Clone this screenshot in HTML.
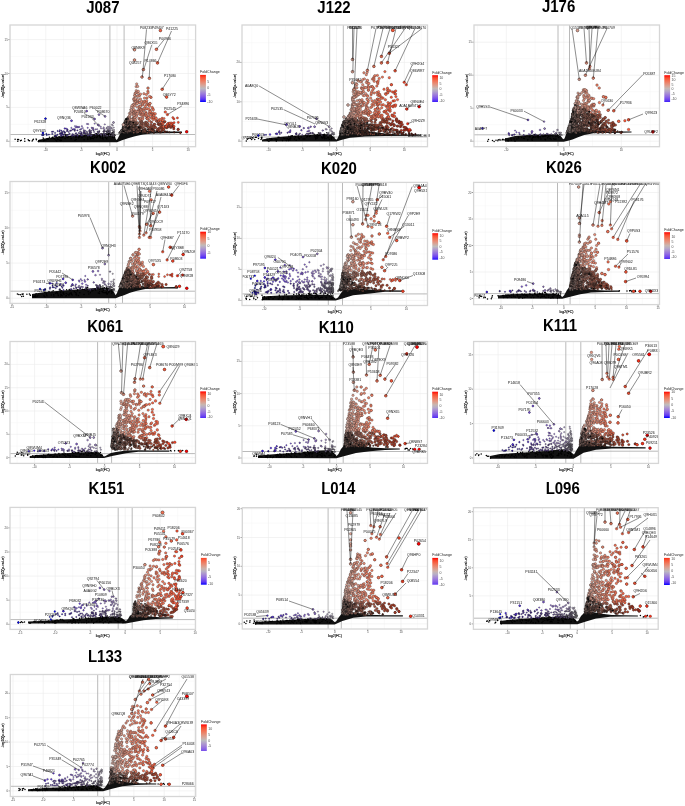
<!DOCTYPE html><html><head><meta charset="utf-8"><style>html,body{margin:0;padding:0;background:#fff;overflow:hidden}svg{display:block}text{font-family:"Liberation Sans",Arial,sans-serif}.tl{font-size:2.9px;fill:#4d4d4d}.at{font-size:3.6px;fill:#000;stroke:#000;stroke-width:.12px}.lb{font-size:3.5px;fill:#111}.lg{font-size:3.6px;fill:#1a1a1a}.ll{font-size:3.5px;fill:#4d4d4d}.ttl{font-size:15px;font-weight:bold;fill:#000}</style></head><body><svg width="685" height="806" viewBox="0 0 685 806"><rect width="685" height="806" fill="#fff"/><defs><style>path[class]{fill:none}.dt{stroke:#000;stroke-width:1.5px;stroke-linecap:round}marker circle{stroke:#1a1a1a;stroke-width:.3px}.k0{marker:url(#m0)}.k1{marker:url(#m1)}.k2{marker:url(#m2)}.k3{marker:url(#m3)}.k4{marker:url(#m4)}.k5{marker:url(#m5)}.k6{marker:url(#m6)}.k7{marker:url(#m7)}.k8{marker:url(#m8)}.k9{marker:url(#m9)}.k10{marker:url(#m10)}.k11{marker:url(#m11)}.k12{marker:url(#m12)}.k13{marker:url(#m13)}.k14{marker:url(#m14)}.k15{marker:url(#m15)}.k16{marker:url(#m16)}.k17{marker:url(#m17)}.k18{marker:url(#m18)}.k19{marker:url(#m19)}.k20{marker:url(#m20)}.k21{marker:url(#m21)}.k22{marker:url(#m22)}.k23{marker:url(#m23)}.k24{marker:url(#m24)}.k25{marker:url(#m25)}.k26{marker:url(#m26)}.k27{marker:url(#m27)}.k28{marker:url(#m28)}.k29{marker:url(#m29)}.k30{marker:url(#m30)}.k31{marker:url(#m31)}.k32{marker:url(#m32)}.k33{marker:url(#m33)}.k34{marker:url(#m34)}.k35{marker:url(#m35)}.k36{marker:url(#m36)}.k37{marker:url(#m37)}.k38{marker:url(#m38)}.k39{marker:url(#m39)}.k40{marker:url(#m40)}.k41{marker:url(#m41)}.k42{marker:url(#m42)}.k43{marker:url(#m43)}.k44{marker:url(#m44)}.k45{marker:url(#m45)}.k46{marker:url(#m46)}.k47{marker:url(#m47)}.k48{marker:url(#m48)}.k49{marker:url(#m49)}.k50{marker:url(#m50)}.k51{marker:url(#m51)}.k52{marker:url(#m52)}.k53{marker:url(#m53)}.k54{marker:url(#m54)}.k55{marker:url(#m55)}.k56{marker:url(#m56)}.k57{marker:url(#m57)}.k58{marker:url(#m58)}.k59{marker:url(#m59)}.k60{marker:url(#m60)}.k61{marker:url(#m61)}.k62{marker:url(#m62)}.k63{marker:url(#m63)}.k64{marker:url(#m64)}.k65{marker:url(#m65)}.k66{marker:url(#m66)}.k67{marker:url(#m67)}.k68{marker:url(#m68)}.k69{marker:url(#m69)}.k70{marker:url(#m70)}.k71{marker:url(#m71)}.k72{marker:url(#m72)}.k73{marker:url(#m73)}.k74{marker:url(#m74)}.k75{marker:url(#m75)}.k76{marker:url(#m76)}.k77{marker:url(#m77)}.k78{marker:url(#m78)}.k79{marker:url(#m79)}.k80{marker:url(#m80)}.k81{marker:url(#m81)}.k82{marker:url(#m82)}.k83{marker:url(#m83)}.k84{marker:url(#m84)}.k85{marker:url(#m85)}.k86{marker:url(#m86)}.k87{marker:url(#m87)}.k88{marker:url(#m88)}.k89{marker:url(#m89)}.k90{marker:url(#m90)}.k91{marker:url(#m91)}.k92{marker:url(#m92)}.k93{marker:url(#m93)}.k94{marker:url(#m94)}.k95{marker:url(#m95)}.k96{marker:url(#m96)}.k97{marker:url(#m97)}.k98{marker:url(#m98)}.k99{marker:url(#m99)}.k100{marker:url(#m100)}.k101{marker:url(#m101)}.k102{marker:url(#m102)}.k103{marker:url(#m103)}.k104{marker:url(#m104)}.k105{marker:url(#m105)}.k106{marker:url(#m106)}.k107{marker:url(#m107)}.k108{marker:url(#m108)}.k109{marker:url(#m109)}.k110{marker:url(#m110)}.k111{marker:url(#m111)}.k112{marker:url(#m112)}.k113{marker:url(#m113)}.k114{marker:url(#m114)}.k115{marker:url(#m115)}.k116{marker:url(#m116)}.k117{marker:url(#m117)}.k118{marker:url(#m118)}.k119{marker:url(#m119)}.k120{marker:url(#m120)}.k121{marker:url(#m121)}.k122{marker:url(#m122)}.k123{marker:url(#m123)}.k124{marker:url(#m124)}.k125{marker:url(#m125)}.k126{marker:url(#m126)}.k127{marker:url(#m127)}.k128{marker:url(#m128)}.k129{marker:url(#m129)}.k130{marker:url(#m130)}</style><marker id="m0" markerUnits="userSpaceOnUse" overflow="visible"><circle r="1.2" fill="#e88a73"/></marker><marker id="m1" markerUnits="userSpaceOnUse" overflow="visible"><circle r="1.2" fill="#a4442f"/></marker><marker id="m2" markerUnits="userSpaceOnUse" overflow="visible"><circle r="1.2" fill="#9e5442"/></marker><marker id="m3" markerUnits="userSpaceOnUse" overflow="visible"><circle r="1.2" fill="#f27356"/></marker><marker id="m4" markerUnits="userSpaceOnUse" overflow="visible"><circle r="1.2" fill="#e29581"/></marker><marker id="m5" markerUnits="userSpaceOnUse" overflow="visible"><circle r="1.2" fill="#ed7f64"/></marker><marker id="m6" markerUnits="userSpaceOnUse" overflow="visible"><circle r="1.2" fill="#f66647"/></marker><marker id="m7" markerUnits="userSpaceOnUse" overflow="visible"><circle r="1.2" fill="#a72e1b"/></marker><marker id="m8" markerUnits="userSpaceOnUse" overflow="visible"><circle r="1.2" fill="#dba090"/></marker><marker id="m9" markerUnits="userSpaceOnUse" overflow="visible"><circle r="1.2" fill="#a14c39"/></marker><marker id="m10" markerUnits="userSpaceOnUse" overflow="visible"><circle r="1.2" fill="#9a5c4c"/></marker><marker id="m11" markerUnits="userSpaceOnUse" overflow="visible"><circle r="1.2" fill="#966356"/></marker><marker id="m12" markerUnits="userSpaceOnUse" overflow="visible"><circle r="1.2" fill="#8c716a"/></marker><marker id="m13" markerUnits="userSpaceOnUse" overflow="visible"><circle r="1.2" fill="#926a60"/></marker><marker id="m14" markerUnits="userSpaceOnUse" overflow="visible"><circle r="1.2" fill="#a63a25"/></marker><marker id="m15" markerUnits="userSpaceOnUse" overflow="visible"><circle r="1.2" fill="#d3aa9f"/></marker><marker id="m16" markerUnits="userSpaceOnUse" overflow="visible"><circle r=".7" fill="#7b52eb"/></marker><marker id="m17" markerUnits="userSpaceOnUse" overflow="visible"><circle r=".7" fill="#a488d6"/></marker><marker id="m18" markerUnits="userSpaceOnUse" overflow="visible"><circle r=".7" fill="#482ca0"/></marker><marker id="m19" markerUnits="userSpaceOnUse" overflow="visible"><circle r=".7" fill="#614896"/></marker><marker id="m20" markerUnits="userSpaceOnUse" overflow="visible"><circle r=".7" fill="#9c7bdb"/></marker><marker id="m21" markerUnits="userSpaceOnUse" overflow="visible"><circle r=".7" fill="#5a4099"/></marker><marker id="m22" markerUnits="userSpaceOnUse" overflow="visible"><circle r=".7" fill="#2a15a6"/></marker><marker id="m23" markerUnits="userSpaceOnUse" overflow="visible"><circle r=".7" fill="#b3a3ca"/></marker><marker id="m24" markerUnits="userSpaceOnUse" overflow="visible"><circle r=".7" fill="#ac96d0"/></marker><marker id="m25" markerUnits="userSpaceOnUse" overflow="visible"><circle r=".7" fill="#6d5a8e"/></marker><marker id="m26" markerUnits="userSpaceOnUse" overflow="visible"><circle r=".7" fill="#5933f5"/></marker><marker id="m27" markerUnits="userSpaceOnUse" overflow="visible"><circle r=".7" fill="#0000aa"/></marker><marker id="m28" markerUnits="userSpaceOnUse" overflow="visible"><circle r=".7" fill="#776c86"/></marker><marker id="m29" markerUnits="userSpaceOnUse" overflow="visible"><circle r=".7" fill="#72648a"/></marker><marker id="m30" markerUnits="userSpaceOnUse" overflow="visible"><circle r=".7" fill="#52369c"/></marker><marker id="m31" markerUnits="userSpaceOnUse" overflow="visible"><circle r=".7" fill="#8760e6"/></marker><marker id="m32" markerUnits="userSpaceOnUse" overflow="visible"><circle r=".7" fill="#685292"/></marker><marker id="m33" markerUnits="userSpaceOnUse" overflow="visible"><circle r=".7" fill="#6c43f0"/></marker><marker id="m34" markerUnits="userSpaceOnUse" overflow="visible"><circle r=".7" fill="#3b22a3"/></marker><marker id="m35" markerUnits="userSpaceOnUse" overflow="visible"><circle r=".7" fill="#926de1"/></marker><marker id="m36" markerUnits="userSpaceOnUse" overflow="visible"><circle r=".8" fill="#463835"/></marker><marker id="m37" markerUnits="userSpaceOnUse" overflow="visible"><circle r=".8" fill="#4b312b"/></marker><marker id="m38" markerUnits="userSpaceOnUse" overflow="visible"><circle r=".8" fill="#4f2a21"/></marker><marker id="m39" markerUnits="userSpaceOnUse" overflow="visible"><circle r=".8" fill="#493530"/></marker><marker id="m40" markerUnits="userSpaceOnUse" overflow="visible"><circle r=".8" fill="#8c716a"/></marker><marker id="m41" markerUnits="userSpaceOnUse" overflow="visible"><circle r=".8" fill="#9a5c4c"/></marker><marker id="m42" markerUnits="userSpaceOnUse" overflow="visible"><circle r=".8" fill="#9e5442"/></marker><marker id="m43" markerUnits="userSpaceOnUse" overflow="visible"><circle r=".8" fill="#4d2e26"/></marker><marker id="m44" markerUnits="userSpaceOnUse" overflow="visible"><circle r=".8" fill="#433c3a"/></marker><marker id="m45" markerUnits="userSpaceOnUse" overflow="visible"><circle r=".8" fill="#966356"/></marker><marker id="m46" markerUnits="userSpaceOnUse" overflow="visible"><circle r=".8" fill="#50261c"/></marker><marker id="m47" markerUnits="userSpaceOnUse" overflow="visible"><circle r=".8" fill="#867874"/></marker><marker id="m48" markerUnits="userSpaceOnUse" overflow="visible"><circle r=".8" fill="#926a60"/></marker><marker id="m49" markerUnits="userSpaceOnUse" overflow="visible"><circle r=".8" fill="#53170d"/></marker><marker id="m50" markerUnits="userSpaceOnUse" overflow="visible"><circle r=".8" fill="#000000"/></marker><marker id="m51" markerUnits="userSpaceOnUse" overflow="visible"><circle r=".8" fill="#522217"/></marker><marker id="m52" markerUnits="userSpaceOnUse" overflow="visible"><circle r=".8" fill="#a63a25"/></marker><marker id="m53" markerUnits="userSpaceOnUse" overflow="visible"><circle r=".8" fill="#531d12"/></marker><marker id="m54" markerUnits="userSpaceOnUse" overflow="visible"><circle r=".8" fill="#a82010"/></marker><marker id="m55" markerUnits="userSpaceOnUse" overflow="visible"><circle r="1.1" fill="#fb4629"/></marker><marker id="m56" markerUnits="userSpaceOnUse" overflow="visible"><circle r="1.1" fill="#f66647"/></marker><marker id="m57" markerUnits="userSpaceOnUse" overflow="visible"><circle r="1.1" fill="#f95738"/></marker><marker id="m58" markerUnits="userSpaceOnUse" overflow="visible"><circle r="1.3" fill="#f66647"/></marker><marker id="m59" markerUnits="userSpaceOnUse" overflow="visible"><circle r="1.3" fill="#e29581"/></marker><marker id="m60" markerUnits="userSpaceOnUse" overflow="visible"><circle r="1.3" fill="#f27356"/></marker><marker id="m61" markerUnits="userSpaceOnUse" overflow="visible"><circle r="1.3" fill="#e88a73"/></marker><marker id="m62" markerUnits="userSpaceOnUse" overflow="visible"><circle r="1.3" fill="#ed7f64"/></marker><marker id="m63" markerUnits="userSpaceOnUse" overflow="visible"><circle r="1.3" fill="#f95738"/></marker><marker id="m64" markerUnits="userSpaceOnUse" overflow="visible"><circle r="1.3" fill="#ff0000"/></marker><marker id="m65" markerUnits="userSpaceOnUse" overflow="visible"><circle r=".9" fill="#b3a3ca"/></marker><marker id="m66" markerUnits="userSpaceOnUse" overflow="visible"><circle r="1.3" fill="#d3aa9f"/></marker><marker id="m67" markerUnits="userSpaceOnUse" overflow="visible"><circle r=".9" fill="#0000ff"/></marker><marker id="m68" markerUnits="userSpaceOnUse" overflow="visible"><circle r=".9" fill="#6c43f0"/></marker><marker id="m69" markerUnits="userSpaceOnUse" overflow="visible"><circle r=".9" fill="#8760e6"/></marker><marker id="m70" markerUnits="userSpaceOnUse" overflow="visible"><circle r=".9" fill="#9c7bdb"/></marker><marker id="m71" markerUnits="userSpaceOnUse" overflow="visible"><circle r=".9" fill="#a488d6"/></marker><marker id="m72" markerUnits="userSpaceOnUse" overflow="visible"><circle r=".9" fill="#926de1"/></marker><marker id="m73" markerUnits="userSpaceOnUse" overflow="visible"><circle r="1.2" fill="#f95738"/></marker><marker id="m74" markerUnits="userSpaceOnUse" overflow="visible"><circle r="1.2" fill="#867874"/></marker><marker id="m75" markerUnits="userSpaceOnUse" overflow="visible"><circle r="1.2" fill="#a82010"/></marker><marker id="m76" markerUnits="userSpaceOnUse" overflow="visible"><circle r=".7" fill="#7b7682"/></marker><marker id="m77" markerUnits="userSpaceOnUse" overflow="visible"><circle r=".8" fill="#a14c39"/></marker><marker id="m78" markerUnits="userSpaceOnUse" overflow="visible"><circle r=".8" fill="#a4442f"/></marker><marker id="m79" markerUnits="userSpaceOnUse" overflow="visible"><circle r=".8" fill="#550000"/></marker><marker id="m80" markerUnits="userSpaceOnUse" overflow="visible"><circle r=".8" fill="#541008"/></marker><marker id="m81" markerUnits="userSpaceOnUse" overflow="visible"><circle r=".8" fill="#a72e1b"/></marker><marker id="m82" markerUnits="userSpaceOnUse" overflow="visible"><circle r="1.5" fill="#f95738"/></marker><marker id="m83" markerUnits="userSpaceOnUse" overflow="visible"><circle r="1.3" fill="#fb4629"/></marker><marker id="m84" markerUnits="userSpaceOnUse" overflow="visible"><circle r="1.3" fill="#fd3018"/></marker><marker id="m85" markerUnits="userSpaceOnUse" overflow="visible"><circle r="1.3" fill="#dba090"/></marker><marker id="m86" markerUnits="userSpaceOnUse" overflow="visible"><circle r=".9" fill="#7b52eb"/></marker><marker id="m87" markerUnits="userSpaceOnUse" overflow="visible"><circle r=".9" fill="#5933f5"/></marker><marker id="m88" markerUnits="userSpaceOnUse" overflow="visible"><circle r=".7" fill="#b9b1c4"/></marker><marker id="m89" markerUnits="userSpaceOnUse" overflow="visible"><circle r=".9" fill="#4020fa"/></marker><marker id="m90" markerUnits="userSpaceOnUse" overflow="visible"><circle r=".7" fill="#4020fa"/></marker><marker id="m91" markerUnits="userSpaceOnUse" overflow="visible"><circle r="1" fill="#fb4629"/></marker><marker id="m92" markerUnits="userSpaceOnUse" overflow="visible"><circle r="1" fill="#f66647"/></marker><marker id="m93" markerUnits="userSpaceOnUse" overflow="visible"><circle r="1" fill="#f95738"/></marker><marker id="m94" markerUnits="userSpaceOnUse" overflow="visible"><circle r="1" fill="#f27356"/></marker><marker id="m95" markerUnits="userSpaceOnUse" overflow="visible"><circle r=".9" fill="#ac96d0"/></marker><marker id="m96" markerUnits="userSpaceOnUse" overflow="visible"><circle r=".9" fill="#b9b1c4"/></marker><marker id="m97" markerUnits="userSpaceOnUse" overflow="visible"><circle r="1.2" fill="#463835"/></marker><marker id="m98" markerUnits="userSpaceOnUse" overflow="visible"><circle r="1.2" fill="#4b312b"/></marker><marker id="m99" markerUnits="userSpaceOnUse" overflow="visible"><circle r=".8" fill="#6c43f0"/></marker><marker id="m100" markerUnits="userSpaceOnUse" overflow="visible"><circle r=".8" fill="#72648a"/></marker><marker id="m101" markerUnits="userSpaceOnUse" overflow="visible"><circle r=".8" fill="#52369c"/></marker><marker id="m102" markerUnits="userSpaceOnUse" overflow="visible"><circle r=".8" fill="#b9b1c4"/></marker><marker id="m103" markerUnits="userSpaceOnUse" overflow="visible"><circle r=".8" fill="#5a4099"/></marker><marker id="m104" markerUnits="userSpaceOnUse" overflow="visible"><circle r=".8" fill="#614896"/></marker><marker id="m105" markerUnits="userSpaceOnUse" overflow="visible"><circle r=".8" fill="#b3a3ca"/></marker><marker id="m106" markerUnits="userSpaceOnUse" overflow="visible"><circle r=".8" fill="#776c86"/></marker><marker id="m107" markerUnits="userSpaceOnUse" overflow="visible"><circle r=".8" fill="#0000aa"/></marker><marker id="m108" markerUnits="userSpaceOnUse" overflow="visible"><circle r=".8" fill="#ac96d0"/></marker><marker id="m109" markerUnits="userSpaceOnUse" overflow="visible"><circle r=".8" fill="#7b7682"/></marker><marker id="m110" markerUnits="userSpaceOnUse" overflow="visible"><circle r=".8" fill="#482ca0"/></marker><marker id="m111" markerUnits="userSpaceOnUse" overflow="visible"><circle r=".8" fill="#2a15a6"/></marker><marker id="m112" markerUnits="userSpaceOnUse" overflow="visible"><circle r=".8" fill="#9c7bdb"/></marker><marker id="m113" markerUnits="userSpaceOnUse" overflow="visible"><circle r=".8" fill="#a488d6"/></marker><marker id="m114" markerUnits="userSpaceOnUse" overflow="visible"><circle r=".8" fill="#6d5a8e"/></marker><marker id="m115" markerUnits="userSpaceOnUse" overflow="visible"><circle r=".8" fill="#926de1"/></marker><marker id="m116" markerUnits="userSpaceOnUse" overflow="visible"><circle r=".8" fill="#7b52eb"/></marker><marker id="m117" markerUnits="userSpaceOnUse" overflow="visible"><circle r=".8" fill="#8760e6"/></marker><marker id="m118" markerUnits="userSpaceOnUse" overflow="visible"><circle r=".8" fill="#3b22a3"/></marker><marker id="m119" markerUnits="userSpaceOnUse" overflow="visible"><circle r=".8" fill="#5933f5"/></marker><marker id="m120" markerUnits="userSpaceOnUse" overflow="visible"><circle r=".8" fill="#685292"/></marker><marker id="m121" markerUnits="userSpaceOnUse" overflow="visible"><circle r=".8" fill="#4020fa"/></marker><marker id="m122" markerUnits="userSpaceOnUse" overflow="visible"><circle r="1" fill="#e88a73"/></marker><marker id="m123" markerUnits="userSpaceOnUse" overflow="visible"><circle r="1" fill="#e29581"/></marker><marker id="m124" markerUnits="userSpaceOnUse" overflow="visible"><circle r="1" fill="#ed7f64"/></marker><marker id="m125" markerUnits="userSpaceOnUse" overflow="visible"><circle r="1.5" fill="#ff0000"/></marker><marker id="m126" markerUnits="userSpaceOnUse" overflow="visible"><circle r="1.4" fill="#f95738"/></marker><marker id="m127" markerUnits="userSpaceOnUse" overflow="visible"><circle r="1.4" fill="#fd3018"/></marker><marker id="m128" markerUnits="userSpaceOnUse" overflow="visible"><circle r="1.2" fill="#fb4629"/></marker><marker id="m129" markerUnits="userSpaceOnUse" overflow="visible"><circle r="1.5" fill="#f27356"/></marker><marker id="m130" markerUnits="userSpaceOnUse" overflow="visible"><circle r=".7" fill="#7e7e7e"/></marker></defs><defs><clipPath id="c0"><rect x="10" y="25" width="185.6" height="121.7"/></clipPath></defs><text class="ttl" transform="translate(102.85 12.5) scale(1 1.06)" text-anchor="middle">J087</text><path d="M28 25V146.7M63.6 25V146.7M99.2 25V146.7M134.8 25V146.7M170.4 25V146.7M10 124.4H195.6M10 90.5H195.6M10 56.6H195.6" stroke="#f5f5f5" stroke-width=".55" fill="none"/><path d="M10.2 25V146.7M45.8 25V146.7M81.4 25V146.7M117 25V146.7M152.6 25V146.7M188.2 25V146.7M10 141.3H195.6M10 107.4H195.6M10 73.5H195.6M10 39.6H195.6" stroke="#ebebeb" stroke-width=".6" fill="none"/><path d="M109.9 25V146.7M124.1 25V146.7M10 134.5H195.6" stroke="#a8a8a8" stroke-width=".8" fill="none"/><g clip-path="url(#c0)"><path d="M38 142.2 117 142.2 122 140.3 128 138.2 135 136.3 143 134.6 152 133.6 165 133.2 182 133 182 131.4 165 131.5 152 131.3 145 130.5 138 129.5 132 128 127 126 124 127 121 132 119 136 117.5 139 116.5 140 115 137.5 113 134 110 133 104 133.3 95 134 80 135 60 136.5 45 138.5 38 140Z" fill="#111"/><path class="dt" d="M15.1 139.2h0m2.5.3h0m.2 1.7h0m.8-1.6h0m1.9 1.2h0m.8-.6h0m3.4-1.4h0m.1 2.5h0m3.4-1.5h0m.6.6h0m.7.3h0m2.6.4h0m.6-1.2h0m.7-.6h0m2.7-.3h0m.3.8h0m1.9 1.8h0m1.2-1.2h0m1.4 0h0m2.2-2.4h0m.2 2.8h0m.2-2.6h0m.3 2.5h0m.5-.1h0m1.6-.4h0m1-1.4h0m1 .5h0m.1-.7h0m.3.3h0m1.1-1.6h0m2.3 1h0m.7-.6h0m.2-.5h0m.5.8h0m.9.8h0m.3-2.5h0m.3 2.7h0m.9-2.8h0m.2 3.9h0m.3-3.3h0m.7 4.1h0m.1-4h0m.5 1.1h0m.2 1.5h0m1.1.1h0m.4-3.2h0m.6.9h0m.2 3h0m.8.5h0m.1-.7h0m.3-2.3h0m.1-1.7h0m.3 4.3h0m.7-3.5h0m.5.7h0m.6-1h0m.7-1.9h0m1.2 3.9h0m.3-2.9h0m.2-1h0m1.4 2.5h0m.1-2.5h0m.4 2.9h0m.9-.5h0m2.1-.7h0m.6 2.4h0m3.9 1.5h0m.1-4.4h0m.8.3h0m0 1.2h0m.3 2h0m1-4.2h0m.6 1.2h0m.8 1.3h0m.9-.9h0m1-1.2h0m.7-2.2h0m.6 2.6h0m.1 1.4h0m1.4-1.5h0m.8 3.9h0m.5-3.9h0m2.4-2.9h0m.4 2.5h0m.2.2h0m.2 3.8h0m0-1.6h0m2.1-1h0m.3 1.8h0m.4.2h0m.1-.8h0m.2-5.2h0m1 5.4h0m.1-1.8h0m.6-.6h0m.3 2.3h0m.5.5h0m1.2-1.3h0m.7-1.9h0m.9-1.8h0m.3 3.8h0m.4-3.7h0m.5 3h0m.9-1.7h0m1.1-3.3h0m.2 3.7h0m0 1.1h0m.8 1.2h0m.1-1.2h0m1-2.1h0m.6.8h0m.1 2.9h0m.5-2.5h0m.1 1.3h0m.3 2.1h0m0-4.1h0m.9.9h0m.7-2.4h0m.6 4h0m.9-6.1h0m.3 7h0m0-4h0m.3 4.6h0m.4-1.9h0m.2-2.8h0m0-1.8h0m.5-1.3h0m.1.1h0m.6 2.9h0m.1-2.9h0m.1 2h0m.7.9h0m.4 1.7h0m.6-1.2h0m.4.9h0m.2-.5h0m.1.1h0m.7-2.3h0m.8-.4h0m.1 4.7h0m.8-5h0m.8 4.7h0m.2-2.7h0m0 3.2h0m.1-1.6h0m.3-.3h0"/><path class="k1" d="M157.4 130.7l1.3.2 2.9 0"/><path class="k2" d="M144.7 130.4l.1 0 4.7-.2"/><path class="k9" d="M152.7 130.8l4.4-.4"/><path class="k10" d="M138.5 130.4l1 .3 4.4-.1"/><path class="k12" d="M122.5 130.9l1.5-.6"/><path class="k13" d="M128.1 130.3l.7.7.1 0 1.4-.2"/><path class="k18" d="M66.4 135.6l.6-4.4.3 4.7.1-5.6 1.2 4.3.1-2.7.9 1.8.6-2.9.9-.3 1 5.3.2-.3.1-1.4 1.1.5"/><path class="k19" d="M89.1 131.1l.5-.3 0 2.9 0-3.7.1 3.3 0 1.4.3-2.6.1 3.1 0-3.1.2.3.5 3.3.2-3.1.2-1.8.2 4.8.4-.3 1.7-5 .6 1.6"/><path class="k21" d="M82 134l.8 1.5.8-2.5.2-2.8.1 2.8.1-1.2.2.1.6 1.3.3-2.5.1 2.4 0 .7.7.2.9-2.4.8 3.9.1-2.2.5 2.2"/><path class="k22" d="M52 131.8l.3 2.1.8-2.3 1.9 4.3.1-3 .5 2.7.3.1 1.5-.9.2-3.8"/><path class="k25" d="M101.2 135.5l.1-1.5.1.8 2-3.3.1 3 .3 1.4 0-2.4.1-1.6.1-.7.3-.5.1 3 1.2.6.4-3.2"/><path class="k27" d="M42 134.9l.9.4.8-.5 2.7-.9.4 1.1 2.1-.4"/><path class="k28" d="M111.3 135.5l.8-.6 0-1.3.1 0 .1-3.4.4 4.5.5-.7 0 1.3 0-3.1.2 3.7.1-1.4.2-2.1.2 3.2.1-4 0 3.3 0-4.9"/><path class="k29" d="M106.2 135.8l1-2.9.1-.1.1 3 .2-5.7.1 1.5.5-1.4.7 1.7.7.4 0 2.9.1-3.9.2-.5.6 2.5"/><path class="k30" d="M74.7 135.8l.1-5 .8 2.8.6-.3 1 1.4.2-4.3.1 4.7.1.7 1.2-2.8 1.2.4.2-1.8.6 2.4 0 .8.6.8.2-3.2"/><path class="k32" d="M95.4 133.8l.1.7.2.1 1.9-3 .3.9.4 1.7.4.2 0-2.3.6-1.1 1.5 3.4"/><path class="k34" d="M59.4 131.5l.4-1.3.1 3.5.6-.4.4 2.6.1-1.7.4-3.4.1 2.4.3 2.6.2-3.2.4-.6 0 1.6.1.6 1.2.5.1-3.4.8 1.1.2-.2.1.9"/><path class="k36" d="M122.9 131l.3-.7.5 2.1.1-.3.2-.1.8.9 1.2-2.2.1 0"/><path class="k37" d="M133.7 130.9l.4 1.5 1.9-.5"/><path class="k38" d="M144.6 131.6l1.7-.8 2.3 1.1.7.5"/><path class="k39" d="M127.5 132.9l.3-2 3.7.5.4.3"/><path class="k40" d="M123.2 131.9l.1.5 2.2-1.3 1.6.6"/><path class="k41" d="M140.2 131.1l2.6.1"/><path class="k42" d="M145 131.9l2.3 1"/><path class="k43" d="M138.6 130.6l1.1-.4 2.8 2.4 1.2.1"/><path class="k44" d="M119.2 132.9l1.1-1.1.3.1.2 0 0 .1.3-.8.3-.9.6.4"/><path class="k45" d="M133.7 132.8l2.7-1.8.6 1.7.2-.7.7.2.2 0"/><path class="k46" d="M151.4 132l2.5.9.6-2.2 2.5 1.6"/><path class="k47" d="M120.4 131.9l.1.9.1-.6.1-.5.8-1.6.2.1"/><path class="k48" d="M128.3 130.8h0"/><path class="k49" d="M174.2 132.3h0"/><path class="k50" d="M122.9 130.8l.8.6 33.4-.2"/><path class="k51" d="M159.9 131.9l.2.7 1.1-.3"/><path class="k52" d="M164.9 131.9h0"/><path class="k53" d="M164.9 131.5l.8.1 1.4-.1 2.3.8"/><path class="k54" d="M180.4 132.9h0"/><path class="k64" d="M186.7 131.8h0"/><path class="k67" d="M42.9 133h0"/><path class="k0" d="M140.9 120.4h0"/><path class="k1" d="M157.5 121.2l.4 7.9 0-7.9.3 2.9.4.2.3-3.2.1 3.5.2 3.9.2.3 0-5.2.7 4 .1-3.5 1 2.2.5-3 .2 4.5.1-6.6.2 8.4 0-5.4.2 2.3.6 1.9.5 1.4.1-.5"/><path class="k2" d="M145.2 125.7l.3-2 .1-1.6.5 1.3.5-1 .4 3.6.4-2.1.3-.2 0 2.8.4.3.6.7 1.5-.9"/><path class="k4" d="M132.6 120.5l1.7-.2"/><path class="k5" d="M149.3 120.8h0"/><path class="k6" d="M158.7 120.7l3.9-.2"/><path class="k7" d="M172 126.1l.1-.6.2-.4 1.3 1.8.2 1.9 4.3.6.1 0"/><path class="k8" d="M127.9 120.8l2.1-.1 1.9.2"/><path class="k9" d="M150.8 124.6l.1 4.2.4-1.1.2-5.4.1 6.9 0 .6.8-3.7.1 2.9 1-.3.2-2.6.4-1.8.8.2 0 2.8 1 .3.7-6.4"/><path class="k10" d="M138.7 126.9l1.2.1.1.7 0 .7.2-1.6.1-2.4.4 1.5 0-3.8 0-.3.5 5.5.6-5.9.1 1.4.2 1 0 1.9.2-2.4.4 3.9.7-3.6.2.4"/><path class="k11" d="M132.7 122.7l0 2.1.1-2.9.5 2.4.2 3.7.2-2.5.1 4.4 0-8.9.8 4.2.8-2.2.5-.9.1 5.5.1-3.9 1 4.4.1-.8.2-3.6.3-1 .2 5.7.2.2"/><path class="k12" d="M123.3 129.1l.6-.7.7-1 .6 1.5.2-1.6.2.4.1-1.2.1-2.8 0 5.4.4-5.6 0-.7.6.6.4 5.6"/><path class="k13" d="M127.4 123.2l.1 2.3.6-2 .2 2.6.4 2.2 0-6.3.7 5.5.5-3.9.6-1.3.1.1 0 6.1.6-7.1.2 2 .4 3.8.6-2.8"/><path class="k14" d="M164.3 122.1l.6-.5.1 4.8.3.2.8.9.8.3 1.4-1 .1-3.3.2 2.4.8-1.7 1.3 3.2.4-.6"/><path class="k15" d="M127.2 120.8h0"/><path class="k16" d="M74.8 129.2l.2-3.1.9 1.4.8-1.1.9.9.8-.2.9-.1 2 1.9"/><path class="k17" d="M101.1 128.4l2.2.2.4-1.2.8 2 .3-5"/><path class="k18" d="M67.5 129.5l5.2 0"/><path class="k20" d="M95.6 129.4l1.5-.2 1.6-3.9.4.4 1.6 1"/><path class="k23" d="M111.2 127.7l.6.7.1-3.8.8.9 1 2.1"/><path class="k24" d="M106.6 128.3l.2-.2 1.1-1.4.9 1.2.3 1.3.7-2.5.6 2.2"/><path class="k26" d="M64.9 128.5h0"/><path class="k30" d="M74.6 129.9l5.5-.3"/><path class="k31" d="M81.9 126.2l.9 1.9 4.2-4.2.7 3.9.5-3.7"/><path class="k33" d="M66.6 128.8l4.8-.9 2.2 1.4"/><path class="k35" d="M91.8 127.7l.3.3 1 1.4.1-1.4.2 1.1 1.3-5.5"/><path class="k36" d="M122.5 129.3l.1.3.3-2.2.1-.2 0 1.1.2-2.2.1 1.9 0 1.3 0-1 .2-2.9 0 4.3.2-2.2.6-4.2.1 3.4 0 2.9 0-4.6.1-2.1.1 1.8.3-2.4 0 2 0 4.4.1-6.6.1.9 0-1.3.1 2.8.1-.4 0 5 .1-4.1 0-2.3.1-2.3.1 6.3.1 1.9.1.9.1-5.5.1 2 0-2.5.1 4.2 0-7.5.1 6.9.1 1.2.1-7.5.4 2.6 0 1.6 0 1.1.1 3.9 0-4.4 0-4.9 0 2.5.1-2.2 0 8 .1-3.2.1-5.3"/><path class="k37" d="M132.6 127.5l1.4-2.6.3 2.7.6-3.5.5 2.4.2 2.9.2-3.5.9-1.2 1.2 4.3"/><path class="k38" d="M145.5 128.9l2 .6.9-.2"/><path class="k39" d="M127.3 126.8l.4.2.1 2.6.1-5.7.1 2 0 2.2.2-1.1 0-1.2 0-2.2 0 5.1.2.1.1-5.3 0-2.3.4 2.4 0 4.9.1-7.6 0 .1.1 7.8.1.4 0-8 .4 1.6.2 3.8.1 0 .1-.3 0 1.4.1 1.4 0-7.6 0 3.2 0 4.3.3-3.1 0 1.8.1 1.2.6-8.1.6 3.4.3 2.3.2-1.6.1 1.9 0 3.1"/><path class="k40" d="M123.6 125.7l.1-.8.4 4.5 0-2.5.3-2.5.1 4.4.6-5.9 0-1.5 0 1.2.4-1.7.1 2.9.2 5.3 0-8.7 0 5.1.9-4.7.5 1"/><path class="k41" d="M139.7 127.4l2.2.8.5 1 1.9-1.1"/><path class="k42" d="M145.2 128.8l5.2.1"/><path class="k43" d="M138.9 126.6l.5 2.3.1-1.3.6-.7.3.8 2.8 2"/><path class="k45" d="M132.7 123.6l.4 5.3.4-3 .4-2.1.4-.7.5.2 3.2 4.2.1 1.9.1 0"/><path class="k46" d="M151.8 128.9l1.2.5"/><path class="k48" d="M127.3 123.7l.1-1.5.3 4.2.5-4.7.3 4.1 2.2-.2 1.2-.8 0-1.6"/><path class="k50" d="M124.4 123.2l2-1.1 1.7 6 1.2-1.1 4-4.4 5.4 4.9"/><path class="k55" d="M172.5 123.4l1.6 2.9 0-3.6 4.2-.3"/><path class="k56" d="M161.8 122.6l1.3 1.3.3 2.9"/><path class="k57" d="M166.1 126.6l.7-1.8.9-.9 1.8-.8 1.6-.2.1 1.8"/><path class="k65" d="M113.5 122.5h0"/><path class="k66" d="M123.3 124.8h0"/><path class="k68" d="M71.5 120.7h0"/><path class="k70" d="M98.1 124.8h0"/><path class="k0" d="M138.4 110.8l.5 7.5.9.7.1-4.8 0 5.6.4-6.9.4 6.2.3-6.4.1 5.7.1-5.8.1 2.6.1-3.9.7 3.9.4 4.1.3-6.4.2 5.1.3-2.3.1-1.2.3-4.3"/><path class="k3" d="M150.8 112.5l.6 5.5 0-3.1.5.6.3-1.1.9 3.6.1 1.6.1-6.7.3 2 .1.1.1 2.6.1-1.9 1.4-1.9.1 5.6.2-1.8.7.9"/><path class="k4" d="M132.6 113l.2 1.3.1 4.4.1-4.7.3 3.7.1.2.3-6.5.1 7.1 0-.2.3-6.2 0 3.6.1 3.3.1-6.7 0 5.8.5-7.1.2 8.4 0-1.6.1-.4.2-5.6.5-.6 0 2 .1 6.7 0-6.7.1 1.3.3-3.3.1 3 .1 2.2.5-1.4.3-1.3.7-2"/><path class="k5" d="M144.7 114.7l.6.2.3.4.1-3.2.4 1.4 0 .4.7 4.1.2-1.7 0-.3.1 2.6.2.1.1-.1 1.2-1.5 0 .5.4-4.9.3 1.6.9-4 0 1.3.5 3.5"/><path class="k6" d="M159.4 119.6l.9.2"/><path class="k8" d="M127.6 119.1l.1.7.1-1 .2 0 0 .1.1-1.1.2 1.2.1-.1.1-1.7.3.8.2 1.1.1.5.2-2.8.1-3.4.2 3 .1 2.1.2-3.2.4 4.3.4-7.3.1 1 .1-1 .2 7.4.2-5.6.2 5.6.1-8.4"/><path class="k36" d="M126.3 119.1l.1.1.8-.1"/><path class="k39" d="M127.3 119.4l.2-1 .6.6"/><path class="k40" d="M126 119.6l.5-.1"/><path class="k50" d="M126.1 119.5l.2-.4"/><path class="k55" d="M172.8 117.6l1.1 1.3 3.5-1"/><path class="k56" d="M162.1 118.2l2 .3"/><path class="k63" d="M165.3 112l2.1 2.6"/><path class="k67" d="M45.5 118.6h0"/><path class="k69" d="M86.7 111.1h0"/><path class="k70" d="M99 114.6h0"/><path class="k71" d="M105.1 116.4h0"/><path class="k72" d="M94.6 119h0"/><path class="k0" d="M138.6 102.2l.4 7.6.2-3.4.1-3.8 0 7 .5-7.1.1 6.1.1-.3 0-.3.2-1.9.2.2.1 3.6.7-.2.4-8.4.6 3 .2.5.2-.2.2 5.1.2-6.5.3 5.7.4-7.5.3 8.5.3-7.2 0 5.7"/><path class="k3" d="M152.2 107.5l.7 1.4.4.9"/><path class="k4" d="M132.6 109.6l.5-5.1.1 2.3.5 2.7.4-8.6 0 3.7.8 1.2 0-3 .6-2.3.4 1 .5-1.2.1 3.6.7 3.2.1-6.8.1 3.1.2-2.9"/><path class="k5" d="M145.1 101.4l.1 5 .7 2.5.5-4.1 0-2.6.3-1.6.4 8 1-4.5.4.8.3 4.4.3-4 .2 1 .7-2.9.1.1"/><path class="k8" d="M130.8 109.7l.5.2.1-2.7.6-1.6"/><path class="k0" d="M138.8 96l.6-.3 1 3.3.2-4.9 3.3-.4"/><path class="k3" d="M150.9 97.3h0"/><path class="k4" d="M133.7 99.3l.4-1.1.2 1.1.4-3.7.1-.3.2-1.8.4 5.2.2-5.9.7-2.2.5 1.4.3 4.2.2-3.5.5 6.9.1-3.5.4-2.8 0-2"/><path class="k5" d="M144.5 98.1l1.9-3.6.6 3.4.9-6.6.2 1.5 1.5 3.6"/><path class="k63" d="M166.6 97.1h0"/><path class="k4" d="M136.2 86.6l.5-2.7 1 2.5"/><path class="k5" d="M148 88.1h0"/><path class="k58" d="M162.2 89.2h0"/><path class="k61" d="M142 77h0"/><path class="k62" d="M149.4 78.3h0"/><path class="k58" d="M157.5 62.9h0"/><path class="k61" d="M143.4 69.6h0"/><path class="k59" d="M134.5 60h0"/><path class="k59" d="M134.5 49.8h0"/><path class="k60" d="M156.4 49.3h0"/><path class="k58" d="M160.4 30.5h0"/></g><path d="M146.5 29.3L142.4 77.1M171.5 31L157.5 62.8M163.8 40L156.7 49M151.8 44.8L143.9 69M150 62L149.2 78.2M170 77.2L162.2 89.2M182 105.8L167.4 114.6M95 109.5L105.1 116.4M84 113.5L94.6 119M92 118.5L98.1 124.8" stroke="#000" stroke-width=".45" fill="none"/><g class="lb"><text x="146" y="28.5" text-anchor="middle">P08233</text><text x="157.7" y="28.5" text-anchor="middle">P49407</text><text x="172" y="30.3" text-anchor="middle">P41225</text><text x="164.9" y="39.5" text-anchor="middle">P00966</text><text x="151" y="44.3" text-anchor="middle">Q86X55</text><text x="138.1" y="48.7" text-anchor="middle">Q8N8K9</text><text x="135.2" y="63.8" text-anchor="middle">Q08257</text><text x="150.5" y="61.5" text-anchor="middle">P14866</text><text x="170" y="76.8" text-anchor="middle">P17080</text><text x="169.2" y="95.7" text-anchor="middle">Q86Y72</text><text x="183.2" y="105.3" text-anchor="middle">P34896</text><text x="170" y="109.7" text-anchor="middle">P02545</text><text x="79.7" y="108.8" text-anchor="middle">Q8WWA6</text><text x="95.5" y="108.8" text-anchor="middle">P60022</text><text x="79.7" y="113.2" text-anchor="middle">P20810</text><text x="103.4" y="113.2" text-anchor="middle">P08670</text><text x="87.6" y="118.1" text-anchor="middle">P01033</text><text x="63.9" y="119.3" text-anchor="middle">Q9NQ36</text><text x="40.3" y="122.5" text-anchor="middle">P62328</text><text x="39.4" y="131.9" text-anchor="middle">Q9Y6X5</text></g><rect x="10" y="25" width="185.6" height="121.7" fill="none" stroke="#d6d6d6" stroke-width="1.3"/><path d="M45.8 147.3v1.1M81.4 147.3v1.1M117 147.3v1.1M152.6 147.3v1.1M188.2 147.3v1.1M9.4 141.3h-1.1M9.4 107.4h-1.1M9.4 73.5h-1.1M9.4 39.6h-1.1" stroke="#333" stroke-width=".5"/><g class="tl"><text x="45.8" y="151" text-anchor="middle">-10</text><text x="81.4" y="151" text-anchor="middle">-5</text><text x="117" y="151" text-anchor="middle">0</text><text x="152.6" y="151" text-anchor="middle">5</text><text x="188.2" y="151" text-anchor="middle">10</text><text x="7.8" y="142.3" text-anchor="end">0</text><text x="7.8" y="108.4" text-anchor="end">5</text><text x="7.8" y="74.5" text-anchor="end">10</text><text x="7.8" y="40.6" text-anchor="end">15</text></g><text class="at" x="102.8" y="154.6" text-anchor="middle">log2(FC)</text><text class="at" transform="translate(3.8 85.8) rotate(-90)" text-anchor="middle">-log10(p-value)</text><defs><linearGradient id="g0" x1="0" y1="0" x2="0" y2="1"><stop offset="0.0" stop-color="#fe1d0b"/><stop offset="0.1" stop-color="#f95435"/><stop offset="0.2" stop-color="#f17558"/><stop offset="0.3" stop-color="#e5907b"/><stop offset="0.4" stop-color="#d4a99e"/><stop offset="0.5" stop-color="#bcbac0"/><stop offset="0.6" stop-color="#ae9ace"/><stop offset="0.7" stop-color="#9b7adc"/><stop offset="0.8" stop-color="#8259e8"/><stop offset="0.9" stop-color="#5d36f4"/><stop offset="1.0" stop-color="#0000ff"/></linearGradient></defs><rect x="200.1" y="74.9" width="5.8" height="27.1" fill="url(#g0)"/><text class="lg" x="200.1" y="73.3">FoldChange</text><g class="ll"><text x="207.3" y="82.6">5</text><text x="207.3" y="89.3">0</text><text x="207.3" y="96">-5</text><text x="207.3" y="102.7">-10</text></g><defs><clipPath id="c1"><rect x="242" y="25" width="185.5" height="121.7"/></clipPath></defs><text class="ttl" transform="translate(334.0 12.6) scale(1 1.06)" text-anchor="middle">J122</text><path d="M251.8 25V146.7M285.6 25V146.7M319.6 25V146.7M353.4 25V146.7M387.4 25V146.7M421.2 25V146.7M242 121.5H427.5M242 82.1H427.5M242 42.7H427.5" stroke="#f5f5f5" stroke-width=".55" fill="none"/><path d="M268.7 25V146.7M302.6 25V146.7M336.5 25V146.7M370.4 25V146.7M404.3 25V146.7M242 141.2H427.5M242 101.8H427.5M242 62.4H427.5" stroke="#ebebeb" stroke-width=".6" fill="none"/><path d="M329.7 25V146.7M343.3 25V146.7M242 137H427.5" stroke="#a8a8a8" stroke-width=".8" fill="none"/><g clip-path="url(#c1)"><path d="M262 141.6 336.4 141.6 342 139.8 350 137.8 365 136.5 385 136 421 135.8 421 134.6 400 134.4 385 133.5 370 131.5 358 129 348 127 343 129 340 133 337.5 138.5 336.3 139.8 334.5 138 331 134.5 322 134 310 134.8 298 135.5 285 136.6 272 137.8 262 139.5Z" fill="#111"/><path class="dt" d="M246.3 140.9h0m1-1.6h0m.9-.8h0m2 0h0m1.5 1h0m.9-1.8h0m2.2 1.9h0m.5-2.4h0m1.1.1h0m2.1 1.2h0m2.5 1.1h0m.4-2.2h0m.3 1h0m.3-1.2h0m5.1 1.9h0m.2 1.5h0m1.6.6h0m.3-2.5h0m1.5 1.3h0m.6-1.2h0m.7.6h0m3.1-.2h0m1.1.8h0m.1 1h0m.6-1.6h0m1.2-2.2h0m.9 0h0m3.5 3.3h0m1-2.5h0m1.4.6h0m1.3 1.8h0m.8-1.7h0m.7.1h0m.7 1.6h0m.3-.6h0m.1-3.5h0m.1.1h0m1 3.6h0m0-1.6h0m.7-.7h0m.1.7h0m.1-2h0m.3-.7h0m1.4.1h0m2 3.2h0m.5-2.7h0m.5.7h0m.7 3.3h0m2-4.5h0m.1 1.5h0m.5 1h0m.6.6h0m.1-.1h0m1.6-1.7h0m2 2h0m1.7 0h0m.7-4h0m1.3 1.9h0m.6-.8h0m.6-2.4h0m1.5 2.8h0m.4-3h0m.5 2.2h0m2.3-2.5h0m1.5 1h0m.7 2.4h0m.5-1.1h0m.2 2.3h0m.1 1h0m.8-2.1h0m.5-1.1h0m.1 2.6h0m.2-3.6h0m.6 2.3h0m.5-4h0m.2 2.6h0m1.3-2.2h0m.1 1.8h0m1.5 1.8h0m.7.9h0m.5 0h0m.4-.4h0m.3-1.7h0m.4-1.4h0m.2 2.6h0m0-2.1h0m.4 3.8h0m0-1.7h0m.1.3h0m.1-3h0m.1 1h0m.2 1.8h0m1.1 1.3h0m.8-5.6h0m.4 2.3h0m.5 2.7h0m.3-3.7h0m.7 3.6h0m.6 1.5h0m2-.1h0m0-1.4h0m0-2.6h0m.7 1.8h0m1.9.4h0"/><path class="k2" d="M371.4 130.2h0"/><path class="k7" d="M401.3 130.4l2.6-.1 1.5-.2"/><path class="k9" d="M380.5 130.8h0"/><path class="k10" d="M366.6 130.7h0"/><path class="k11" d="M354.6 130.1l3.1.6"/><path class="k12" d="M342.9 130.6l1.3.2.4-.1.4-.1"/><path class="k13" d="M350.1 131l2.2-.9"/><path class="k14" d="M396.6 130.5l.6-.2"/><path class="k16" d="M289 132.1l1.4-1.8"/><path class="k17" d="M322.8 130.5h0"/><path class="k18" d="M279 132.2l.8 1.7 1.5-1.2 6.2 0"/><path class="k19" d="M306.6 133.8l1.6.5.8-.7 1.4-.6.6.1"/><path class="k21" d="M296.5 133.2l0 1.3 2.4.2 1-1.1 2.4 1.3"/><path class="k22" d="M264.3 134.9l1.7-.1"/><path class="k23" d="M331.7 131.4h0"/><path class="k25" d="M319.7 133.2l.9 0 1.2 1.7"/><path class="k28" d="M331.3 134.5l.9-.6.3-.7"/><path class="k29" d="M328.1 135l.3-2.1"/><path class="k30" d="M296 133.8h0"/><path class="k31" d="M301.4 130.2h0"/><path class="k32" d="M312.6 132.9l.3.5"/><path class="k33" d="M279.3 132.2l.1-1.1"/><path class="k34" d="M275.8 133.8l1-.4"/><path class="k35" d="M307.4 131.4l1.2 0 .7-.8"/><path class="k36" d="M343.2 132.1l.3-1.8.2 3.8 0-.6 0 1.1.7-1.3.2 1.3.1-.9 0-3.4.2.2.1 3.7.2-1 0-.8.3 1 0-3.1.9 4.5.4-2.6 0-1.3.6 1.4.6-2"/><path class="k37" d="M354.2 133.8l.1-.8.2-1.8 1.6 3 .7-2.3.2-1 .3 1.8.1.8.7-2.3 0 .4 1 .8"/><path class="k38" d="M368.1 133l.1.1.2.5 2.2 0 1.2-2.9 2.1 1.6.7.6"/><path class="k39" d="M348.6 134.9l.1-3.9.7 2.9.5-2.5.3 1.2.5-2.3 0 3.2.1.6.8-3.5.6 3.6.3-1.6 1.5-1"/><path class="k40" d="M342.8 134.7l.3-2.3 1.2-.8.3.1.5 1.2.2-1.8.6 1.5 1 2.2.2-3.5.1.9"/><path class="k41" d="M361.3 134.3l.3-2.7.2 3.2.6.1 3.9-4.3.9.5"/><path class="k42" d="M367.8 131.2l.2 2.8 2.2-.3.5.5.1-.9 1.8 1.2 1.5-.1"/><path class="k43" d="M361.1 133.9l.1-3.2.3 1 .7 2.9.2-3.6 0 1.5.1-1.4.1 2.7.6-.7.4-.4.1 1.2.4-2.4.2 3.3.9-1.1.3-2.8.4 3.8.1-4 .3 0 .1.1.1 1.6.7.7.1-1.9.2 1.3 0-1.4"/><path class="k44" d="M340.3 131.7l0 .8.1-.6.3-1.7 0 3.1 0-3 .2 3.9.3-3.2.1 3.7.5-4.6.4.3"/><path class="k45" d="M354.6 131l.2 0 1.3 1.9 1.5-2.3.2 4.2.7-1.4.3-.2 1.5 1.1"/><path class="k46" d="M377.6 133.9l1-1.8.1-.8.8.1.3-1.4.2 4.9.3-4.7"/><path class="k47" d="M340.1 133.4l.6-.2.1.7.5.9.1-2.8.7 2.7"/><path class="k48" d="M348.4 134.7l1.3-.4.7-1.5 2.2.4"/><path class="k49" d="M399.3 132.7l.1-1.2.7 1.5.4-1 1.2 1.9.2.5.7-1.1 1-.9.1 2 2 .3.1-.7"/><path class="k50" d="M340.4 133.9l4.8-1.2.2-.6.6-1.5 4 4.2 35.5-3.7"/><path class="k51" d="M383 134.3l1.7-2.2 1.4 2.7 1.1-.9.3-.7.6 1 1-1.5.7-.9.1-1.5"/><path class="k52" d="M390.6 132.3l1-1.3 2.6-.6 2.9 3 .4 1"/><path class="k53" d="M390.3 134.6l1.1.4 1.6-2.1.1-2 1.6-.8 0 3.7.1-.6 1.9-1.3.1.4.1-1.2 1.3 2.8 0-1.9"/><path class="k54" d="M409.4 133l3.4 1.6"/><path class="k67" d="M258.4 135.5h0"/><path class="k74" d="M341.2 130.7l.4-.1.6.3"/><path class="k75" d="M408.6 130.9l1.7-.7"/><path class="k76" d="M333.5 134.6l.3-1.9.5 1.4"/><path class="k77" d="M379.4 131.9l2.5 2.6"/><path class="k78" d="M383.3 131.6l.2-1.6 2.5 2.8 1.1-1 2.4-1.2"/><path class="k79" d="M415.4 134.2h0"/><path class="k80" d="M408.7 133l.4 1 .3 1 .3-1 1.9-.5.4 1.5.9-.3"/><path class="k81" d="M401.2 132.4l.7.3"/><path class="k86" d="M289.9 131.8h0"/><path class="k87" d="M270 134.5l7-.5"/><path class="k1" d="M382.9 128.5l.7 1.4.5-9.6.1 1.9 1 7.3.5-8.2.1 5.7.2 2.8.3-8.2.5 1.3.1 2.9.1 2.8 0-7.1 1.2 5.9 1-4.1"/><path class="k2" d="M367.8 121l1.4 6.6 1.3-6.9.5 7.8.2-3.8.1 3 .1-.1.4-5.9.6 7.7.1-4.7 1.4 2.6.3 2.6.3-1.3 0-3.5.3 2"/><path class="k7" d="M399.1 121.3l.2 1.9.6-1.1.4 1 .2 3.6.3-.9.6-3.5.9 2.2 1.5 2.6 1.1.4 1.1.2"/><path class="k9" d="M375 122.3l0 2.6 0 .9.9 3.6.1-2.7.3-1.8 1 2.8.7-1.3.4-1.5.7 5 .6-.4.4-6.8.2 2 .6-.4.8-2.1.2 4.3.3.2 0-5.3"/><path class="k10" d="M361.1 124.2l.3 4.6.2-2.1.2-5.1.1 1.6 2.2-3.2.7 8.5 0-7.4 0 1.2.1 5.3.8-1.8.1-4.3.1 4.2.6.1.6-.2"/><path class="k11" d="M354.3 121.2l.8 7.2.2-2.3.3-5.5.2 1.6.3-.2 0 4.4.1-6.2.5 8.3.1.4 0-8.7.5 2.5 0-1.2.3 7.3.6-.4.3-5.6.1 5.3.1 0 .5.1.3-3.9.2 2.1.4-5.7.4 1 .1 5.1 0-5.7"/><path class="k12" d="M343.2 126.9l.1 2.3 0 .4.7-.9.3-3.7 0-.2.5-1 0 3.8.1-1.3.3 2.8.2-.5 0 .1.3-7 0 2.1.2-.2 0 4.8.2-6.8.5 4.8.2-4.2.1 5.3.3-2.6 0-2.5.2 7.4.1-6.6.1 4.2.3-3.8.2-2.4"/><path class="k13" d="M348.3 128.1l.2-8 .3 3.4.1.9 0-1 .1-1.6 0 4.5.1.3.3.2.2-5.3 0 0 .2 2 .1.1.1 3.3 0-4.4.1-.4.1 5.6.1-5.4.5-2 .1 1 1.1 4.9 0-6.2.4.3.1 2.5.3 4.9.4-5.4.7.2"/><path class="k14" d="M390.9 124.8l0 0 1.1-1.2.3-.2 0 5 .5-7.5 1.2 4.7.1-1 .1 5.3 0-4.5 1.9-5.1.9 1.5.1 4.3.8 0"/><path class="k23" d="M330.3 129.9l1.3-1.4"/><path class="k24" d="M325.7 129.1l.9.3"/><path class="k31" d="M303.8 128.1h0"/><path class="k35" d="M310.7 126.7h0"/><path class="k36" d="M342.8 124.6l.1-.9.2 5.3.1-7 .1 3 0-3 .1 5 .3-3.9.1 4 .1-2.9.1-.4.2 0 .1-3.3.2 6.3.1 1.7.2-3.1.2 3.3.1-6 .1 5.1.2-6.2.4 1.8.5 3.3.1-1.3.2-.1 0 4.3.1-4.9.1-.1 0-3.1 0 7.4.1-5 .1.8 0 3.6 0-1.9.3 1.6 0-3.2 0 4.3.1-.9.3-3.7.1 1.2"/><path class="k37" d="M354.3 121.6l.3 3.7.2 2.1.1-4.1.1 3.6.2-4.3.7 4.9.4 2.4 0-4.3.2-.8.1-4.7.2 6.2.1-5.9.2 7.3.5-7.1.3 4.7.3 4.1 0-.7.3-3.1.2 2.9.5-.3.1-2.3.1 3 .3-2.2.3.3.1-3.6.3 3.4.1-4.3"/><path class="k38" d="M368 124.3l.3 2.4.3.5.5-2 .1-.1.3 3.9.5-4.6.5 3.1.9-1.2.1 3.5.1-1.4.6-3.1 1 3 .1 1.2.4 0 .5-3.1"/><path class="k39" d="M348.2 124.5l.2-1.6.3 5 .1-3.7.4 5 0-7.2 0 3.4.2-1.8 0 5.4.5-6.4.6 2.7.2 1.6.1-3.7 0 5.6.2-3 .4-1.5.1 3.3.2-2.9.5 4.8 0-.8.4-.6.5 1.6.2-4 .1 1.5.1-6.5 0 8.5.1-.6 0-1.5.5 2.7 0-4.4"/><path class="k40" d="M342.8 128.5l.2-.9.5-3.2.6 4.9 0 .3.5-2.8 0-1 .5 1.7.1-6.2.7 0 .2 3.1.2-.9 0 0 .1 2.3 0-1.4.2-2.8.6-.7.5 3.6"/><path class="k41" d="M361 121.2l.7 4 4.3-1.1"/><path class="k42" d="M367.7 129l2.9.4.3-2.4.5-.2 1.8.9.5-2.3 0-.3.4 2.3.4.3"/><path class="k43" d="M360.9 125l1.3 2.8.1 1.8.2-.2 0-4.4.4 1.1.8-2.4.3 2.8 0-3.2.2.7.1.9.1 4.7.3-1 1.6.6.3-4.7.8 2.5.2 2.2"/><path class="k44" d="M341.1 128.5l.2-.3.3-.7.5-1.2.1 1.6.2 1.7 0-4.9"/><path class="k45" d="M354.7 124.6l.3-3.9.1 2.3.4 3.2 1.4 1.2.5 1.5 1.9-.9 0 .6.5-6.5"/><path class="k46" d="M375.1 127.6l2.2-.1 1.5-.7 1.1.9 1 .6"/><path class="k47" d="M340.9 129.9l.4-2.1.5.7.1-2.5.3 1.1.1-2.1.3-.7 0 4"/><path class="k48" d="M349 123.6l.9-3 .3 5.1 0 .1.5-.8.2.5.2-4.9.9 3.1.6 1.2.4.6.1-2"/><path class="k50" d="M342.3 125.2l.9 1.9 4.1-.2.5 2 .7-8.1.3 6.4 1.2-6.8.5 8.9.1-4.6 3.8-.8 6 4.5.8-3.2 6-2.3.8 5.9 10.1.1 4.2-1.1"/><path class="k51" d="M383.4 127.7l0 .6 2.1.9.2-.2.4.6.2-.4 1.4.4.9.2"/><path class="k52" d="M396 129.7h0"/><path class="k53" d="M390.5 129.3l.4-.2"/><path class="k65" d="M329.2 126.7h0"/><path class="k68" d="M286.5 124.5h0"/><path class="k69" d="M299.7 126.4h0"/><path class="k70" d="M314.6 126.7h0"/><path class="k72" d="M308.4 127.9h0"/><path class="k74" d="M341.6 129.8l.3-.4.4-.8"/><path class="k75" d="M407.1 129.2h0"/><path class="k77" d="M375.3 128.6l2.5.4"/><path class="k78" d="M385.6 128.3l0-1.2"/><path class="k84" d="M407.7 123.7l1.8 5.8"/><path class="k0" d="M361.3 114.9l.1 2.3.5-5.4 1.2 5.7.2-4.6.2-.9.3-.3.4 1.7.6 4.8 0 0 .4-7.2.3 7.5.2-5 0-3.1.5 2.1 1 .8"/><path class="k1" d="M382.5 119.6l.8-.9 3-.1 1.1.1.3.8 2.4-.3"/><path class="k2" d="M371.3 118.9h0"/><path class="k3" d="M375.1 114.7l.3 1.8.1-.2 0-2 .1-3.5.2 5.6.8-2.8.2 2.4 1-4.4.1 3.4.4 2 .2-3.5 0-.9.1 3.7.7-4.2 1.6 5.3 0-2.3.8 2.5.1-1.3.3-1.1"/><path class="k4" d="M354.7 111.6l.5 3.8.2.9 0-.6.4 1.9.1-2.9.1 1.6 0-4.9.1-1 .4.9.1.5.1-1.5.6 1.5.1-1.8 0 3.7.1 2 .1-5.6.4 1.5.5 1.2.2-2.7.2 3.8.1 2.5.1-2.6 0-3.2.1 7.7.1-2.9.2 2.5.2.1.1-1.4.1-1.9.1-.5.8-1"/><path class="k5" d="M367.8 114.1l.4-.8 0-.1.1 1.7.1-.4.2.8 0-3 .1-1.9.2 2.8.1-.6.9-1 .7.8.3 6.1.2-2.2 1.1.6.6 1.4.1-2.5.4 1.9.4.4.1-2.6 0 .8.4-3.7.6 4.6"/><path class="k6" d="M384.1 111.8l0-.1 1.2-.4.6-.6.5 2.6 1.1 3.9.3-3.1.3-4 .3 6.4.2.4 1.5-5.6"/><path class="k8" d="M348.2 117.9l.2-1.6.5 2 .2-2.8.1 1.5.1-1.1.3.2.2-.8.4-2.2.1.1.2 1.4.4-.5 0 3.6.2-4.8.2 1.2.2 3.6 0-7.7.6 6.5 0-.7.3-1.6.1-3.9 0 1.1.2-1.3.2 1.8.1 3.6.6 1.7.3 0 0-6.9.1 2.2.1 3.5"/><path class="k9" d="M375.7 119.8h0"/><path class="k10" d="M361.2 118.6l.1.1 2.8.2 2.6 0"/><path class="k11" d="M354.3 118.9l.4 0 1.4.9 4-.1"/><path class="k12" d="M347.4 118.7l.4.3"/><path class="k13" d="M348.9 119.2l2.7.5 1.1-.5"/><path class="k14" d="M396.4 118.6l.5 1.2"/><path class="k15" d="M347.6 118l.2-.2"/><path class="k36" d="M346.1 118.8h0"/><path class="k39" d="M352.3 119l.2.9"/><path class="k40" d="M346.2 118.7l0 .5"/><path class="k48" d="M349.8 118.9h0"/><path class="k66" d="M344 117h0"/><path class="k70" d="M316.5 118.7h0"/><path class="k73" d="M392 115l.2.7.7-.2.7 1 .9-3.4.1 3.1"/><path class="k0" d="M361.1 106.3l.9-5.9.3 1.9.2 3.5.2-.7.6-1.9.3-.6.7-.1 1.4 2.6.4 1.2 0 2.9.5-.7.5-4.8 0 3.3 0 .4.6 1.3"/><path class="k3" d="M375.1 109.3l1.2-6.4 1-1.2.2 6.4 0-3.1 0-.7.1 3.8.1-.3.5-2.9.1-.7.6-.6.5 5.8 1.2-7.4 1 2.9.1 2.9"/><path class="k4" d="M354.5 101.6l.2 8.2.1-5.8.8 4.2.1-3.8.5 4.6.2-.9.5-2.8.3-4.7.1 8.9.5-4 .2-1.5.1 4.8.3-3 .2 2.1.6-2.6.1.5.1-5.7.4.3.2 2.5.1 4.6.2-5.2 0 6.8"/><path class="k5" d="M368 102.3l.4-1.8 2.2 7.1 1.2-.7.2-6.2 0 4 1.2-1.4.9 1.9.5-4.5.3 1.2"/><path class="k6" d="M383.3 104.7l2.5 1.2 1.3 1.7.9-5 0 3 .7-1.1.1.5.4 4.8.3-5.5.1 3.5.5-1.6.1 3.6"/><path class="k8" d="M351 109.8l.5-.4.5-4.4.2 2.4.1.5.1-2 0 .7.3-2.5.1 5.8.1-9.4 0 6.4.2-5.5 0 1.7.4 5.4.3-4.4 0 .3.3 4.6"/><path class="k64" d="M419.1 106.7h0"/><path class="k66" d="M348 105h0"/><path class="k73" d="M390.6 103l1.9 3.2.5-5.2.1 5.8 1.2-1.6.2-4.4.7 5.4.5-1.3"/><path class="k84" d="M406.8 109h0"/><path class="k0" d="M361.2 93.5l.7-.8.1 7 .7-7.6.6 3.4.3-3.9 1 3.9 1.1-1.9 1.4 5.3.1.5 0-4"/><path class="k3" d="M376.8 92.5l.3 6.8.5-4.2.2 3.8.7-7.2.2 8.1.2-5.8.1 1.7.5 4 .3-5.3.3 1.8 1.2.8.2 1.4"/><path class="k4" d="M354.7 94.3l.1.2.1.6.1 2.1.5-3.4.4-1.2.2 4.1.1-5.7 1.1 4.6.1-2.9.7 0 .1 1.9.2-2.8.1 1.4.4 1.3 1.4-2.2"/><path class="k5" d="M367.8 96.3l.6-6 2.2 7.8.5-3.3.2-1.5.5-1.6 2.4 1.3"/><path class="k6" d="M383.1 98.1l2.3 1.7.1-6.1.4.7 1.5-4 .2 2.4.3 0 .6-2.5 1.6.6"/><path class="k8" d="M352.6 99.9l0-1.6.1-1.1.2 1.3.1.8.1-7.5.6 2.5 0 2.8.5.3"/><path class="k73" d="M391.3 97.2l1.3-5.2 1.6 0 .6 1.7.7.2.2-3 .2 5.7 1.6 3"/><path class="k0" d="M361.4 87.8l.1-6.1.2 6.9.9-.2.1-3.7.2 5.1 1.5-2.1 0-.5 1.4.5.5-5.3 1-1.6.2-.5"/><path class="k3" d="M376.8 86.1l.4-4.1.6 1.7 0-1.5.4-1.3"/><path class="k4" d="M354.9 87.6l.7-2.6.7-1.5.6 1.1.1 3.1.8-7.4 1 .8 1.9.8"/><path class="k5" d="M367.8 83.5l.2 3 .4 3.5 0-3.2.1 1.3.4-4.6 2 3.2 1.3-.2.3.5.3 2.9 1.1-1.7.3-6.9"/><path class="k6" d="M384 89.2l3.5-1"/><path class="k8" d="M353.7 89.8h0"/><path class="k59" d="M354.3 89.2h0"/><path class="k73" d="M391.4 84.7h0"/><path class="k83" d="M404.2 82.2l2.1 2.6"/><path class="k85" d="M352.5 82.7h0"/><path class="k0" d="M362.7 79.6l1.2-6.8.5 6.1 1.9-4.2.8-2.2"/><path class="k3" d="M377.4 75.4l1.8 3 3.2-1.3"/><path class="k5" d="M372.6 79.2l.6-.9.9.7.1-2.3.7-1.1"/><path class="k6" d="M384.9 71.6l4.4 6.1"/><path class="k61" d="M367.4 70.3h0"/><path class="k63" d="M395.1 70.8h0"/><path class="k85" d="M352.5 71.7h0"/><path class="k58" d="M387.6 62.6h0"/><path class="k60" d="M381.4 62.9h0"/><path class="k62" d="M373.9 66.4h0"/><path class="k58" d="M389.3 53.3h0"/><path class="k60" d="M381.4 56.4h0"/><path class="k85" d="M352.5 59.4h0"/><path class="k82" d="M392.8 30.2h0"/></g><path d="M258.8 85.8L328.6 126.2M283.6 109.6L315 124M257.3 119L285.8 124.8M391 49.5L389.3 53.3M412 65.5L404.2 82.2M412 72.5L406.3 84.8M413 103.8L406.8 109M412 122L407.7 123.7M352.5 28.5L352.5 59.4M354 28.5L352.8 71.7M357 28.5L354.3 89.2M376 28.5L367.4 70.3M383 28.5L373.9 66.4M390 28.5L381.4 56.4M396 28.5L387.6 62.6M405 28.5L381.4 62.9M415 28.5L395.1 70.8M422 28.5L389.3 53.3" stroke="#000" stroke-width=".45" fill="none"/><g class="lb"><text x="353.2" y="28.5" text-anchor="middle">P04114</text><text x="354.8" y="28.5" text-anchor="middle">P35579</text><text x="356.3" y="28.5" text-anchor="middle">P08670</text><text x="376.9" y="28.5" text-anchor="middle">P67936</text><text x="383.1" y="28.5" text-anchor="middle">P18206</text><text x="389.2" y="28.5" text-anchor="middle">P18206</text><text x="395.4" y="28.5" text-anchor="middle">P67936</text><text x="401.6" y="28.5" text-anchor="middle">P0DMV8</text><text x="407.8" y="28.5" text-anchor="middle">Q9Y490</text><text x="413.9" y="28.5" text-anchor="middle">Q15149</text><text x="420.1" y="28.5" text-anchor="middle">P08670</text><text x="384" y="28.3" text-anchor="middle">P62805</text><text x="395.2" y="28.5" text-anchor="middle">P06733</text><text x="405.8" y="28.2" text-anchor="middle">P09493</text><text x="251.5" y="86.7" text-anchor="middle">A0A8Q0</text><text x="277" y="110.4" text-anchor="middle">P02535</text><text x="251.5" y="119.9" text-anchor="middle">P25633</text><text x="312.8" y="118.9" text-anchor="middle">P07195</text><text x="321.6" y="124" text-anchor="middle">Q8N0V3</text><text x="290.2" y="124.7" text-anchor="middle">Q9Y4L1</text><text x="293.1" y="128.4" text-anchor="middle">Q8NBJ5</text><text x="258" y="135.9" text-anchor="middle">P06703</text><text x="247.8" y="139.3" text-anchor="middle">Q7Z3B4</text><text x="393.7" y="48.4" text-anchor="middle">P55327</text><text x="417.3" y="64.6" text-anchor="middle">Q9H2G4</text><text x="417.3" y="72" text-anchor="middle">Q86WR7</text><text x="355.2" y="80.8" text-anchor="middle">P35671</text><text x="417.3" y="103.2" text-anchor="middle">Q8N4E4</text><text x="410.3" y="107.4" text-anchor="middle">A0A1B0GTU1</text><text x="418.2" y="121.6" text-anchor="middle">Q9H2Z9</text><text x="419.1" y="136.8" text-anchor="middle">A0A0C4DH68</text></g><rect x="242" y="25" width="185.5" height="121.7" fill="none" stroke="#d6d6d6" stroke-width="1.3"/><path d="M268.7 147.3v1.1M302.6 147.3v1.1M336.5 147.3v1.1M370.4 147.3v1.1M404.3 147.3v1.1M241.4 141.2h-1.1M241.4 101.8h-1.1M241.4 62.4h-1.1" stroke="#333" stroke-width=".5"/><g class="tl"><text x="268.7" y="151" text-anchor="middle">-10</text><text x="302.6" y="151" text-anchor="middle">-5</text><text x="336.5" y="151" text-anchor="middle">0</text><text x="370.4" y="151" text-anchor="middle">5</text><text x="404.3" y="151" text-anchor="middle">10</text><text x="239.8" y="142.2" text-anchor="end">0</text><text x="239.8" y="102.8" text-anchor="end">10</text><text x="239.8" y="63.4" text-anchor="end">20</text></g><text class="at" x="334.8" y="154.6" text-anchor="middle">log2(FC)</text><text class="at" transform="translate(235.8 85.8) rotate(-90)" text-anchor="middle">-log10(p-value)</text><defs><linearGradient id="g1" x1="0" y1="0" x2="0" y2="1"><stop offset="0.0" stop-color="#ff0100"/><stop offset="0.1" stop-color="#fa4c2e"/><stop offset="0.2" stop-color="#f36e50"/><stop offset="0.3" stop-color="#e98a72"/><stop offset="0.4" stop-color="#d9a394"/><stop offset="0.5" stop-color="#c3bab7"/><stop offset="0.6" stop-color="#b3a5ca"/><stop offset="0.7" stop-color="#a386d7"/><stop offset="0.8" stop-color="#8d66e4"/><stop offset="0.9" stop-color="#6f46ef"/><stop offset="1.0" stop-color="#3b1dfb"/></linearGradient></defs><rect x="432.2" y="75.2" width="5.8" height="26.8" fill="url(#g1)"/><text class="lg" x="432.2" y="73.6">FoldChange</text><g class="ll"><text x="439.4" y="78.9">10</text><text x="439.4" y="84.6">5</text><text x="439.4" y="90.3">0</text><text x="439.4" y="96">-5</text><text x="439.4" y="101.7">-10</text></g><defs><clipPath id="c2"><rect x="474" y="25" width="185.5" height="121.7"/></clipPath></defs><text class="ttl" transform="translate(558.6 11.7) scale(1 1.06)" text-anchor="middle">J176</text><path d="M477.5 25V146.7M535 25V146.7M592.5 25V146.7M650 25V146.7M474 124.7H659.5M474 91.7H659.5M474 58.7H659.5M474 25.7H659.5" stroke="#f5f5f5" stroke-width=".55" fill="none"/><path d="M506.3 25V146.7M563.8 25V146.7M621.3 25V146.7M474 141.2H659.5M474 108.2H659.5M474 75.2H659.5M474 42.2H659.5" stroke="#ebebeb" stroke-width=".6" fill="none"/><path d="M558 25V146.7M569.5 25V146.7M474 134.8H659.5" stroke="#a8a8a8" stroke-width=".8" fill="none"/><g clip-path="url(#c2)"><path d="M505 141.8 563.8 141.8 568 140.8 572.5 139.6 578 137.2 584.2 135.1 593.5 133.3 607.6 132.9 631.5 132.6 631.5 131.6 610 131.4 598 130.8 588 129 578 126 572 125 569 128 566.5 133 564.5 138.5 563.2 139.3 561.5 137 558 134.5 550 134.3 540 134.6 525 135.3 515 136 505 138.5Z" fill="#111"/><path class="dt" d="M487.7 141.2h0m.8-1.6h0m4 1h0m1.6.8h0m1.9-1.1h0m1.8.4h0m.5-.9h0m1.6-.4h0m.1.9h0m2.1-.2h0m.8-.8h0m1.1.8h0m1.3-.4h0m.6-.9h0m1.5 1.8h0m1.1.2h0m.1-.6h0m2.2-1.6h0m.5 1.5h0m2.7-1.4h0m.1.4h0m.9 1.9h0m1.9-2.1h0m1.5-1.9h0m.1.9h0m3.1-.5h0m1.9.9h0m.8.3h0m.9-2.1h0m1.8-.4h0m.6 3.8h0m.2-.1h0m1.4-3.1h0m.9.1h0m1.8 3h0m.3-1.6h0m0 2h0m.6-3h0m.8-.8h0m.4.8h0m.1-2.4h0m.9-.3h0m.2-.2h0m.5 2.8h0m1.5-.5h0m.6-.3h0m.2 1.1h0m0-.3h0m.4-1.1h0m.2 1.8h0m.9-1.9h0m1 1.2h0m.4 2h0m1.5-2.5h0m1 0h0m1.3-.7h0m.3 3.3h0m.2-3.8h0m.2 4.3h0m.3-3.6h0m.4-.5h0m1.6-1h0m.1 3.2h0m.2-2.1h0m.6.6h0m1.5 1.9h0m.1-2.1h0m.9 3.1h0m.2-4.1h0m1.5.8h0m.8 2.8h0m1.3.6h0m.3-5.5h0m.7 2.6h0m.1 2.5h0m.4-4.8h0m.4.3h0m.3.3h0m.4 1.4h0m1.1 1.4h0m1.2-2.9h0m.2 1.6h0"/><path class="k1" d="M613.9 130h0"/><path class="k2" d="M599.7 130.6l1.6.3"/><path class="k9" d="M605.3 130.7l.9-.4.4.4.9 0 .3.3.2-1 2.7.1.1.2.3.6"/><path class="k10" d="M590.7 130.7l.6-.4 2.4.6.7-.6"/><path class="k11" d="M584.1 130.7l3.8-.3"/><path class="k12" d="M570.4 130.5l2.5.2 3.1-.5"/><path class="k13" d="M577.4 130.8l.7-.2 1.2 0 3.2-.3"/><path class="k16" d="M515.1 130.6l1.4 1.7 2.6.4"/><path class="k17" d="M547 133.8h0"/><path class="k18" d="M509.3 135.1l2.8-.2.1.5"/><path class="k19" d="M530.1 134.6l3.7.3 2.1-.1"/><path class="k20" d="M540.5 134l3 .1"/><path class="k21" d="M523.7 135.2h0"/><path class="k23" d="M556.3 132.5l2.9.2.3.4"/><path class="k24" d="M551.3 134l2.4-2.4 1.8 1.9"/><path class="k25" d="M546.9 134.4l1.9 0"/><path class="k28" d="M556.3 134.2l.2.2 3.5.5"/><path class="k30" d="M513.9 134.6l.7-.1 5.1-.3"/><path class="k31" d="M523.9 130.9l5 3.2"/><path class="k32" d="M539.6 135.2l.3.2"/><path class="k33" d="M508.7 133.1l.1.4.1.6"/><path class="k35" d="M531.7 132.9h0"/><path class="k36" d="M570.4 132.4l.9.2.1-.9.2.8.3-1.6.9-.4 1.1-.3.8 2.2.1-.1.8-1.1"/><path class="k37" d="M583 130.3l.4.3 2.3.9 1.5.4.5-.7.2-.1.1 1.5"/><path class="k38" d="M598.4 132.7l.5-.4.7-.2.5-2.1.5 1.2.4 0 2.4 1.3"/><path class="k39" d="M577.8 131.2l1.8.8.5-1.5 0 1.6"/><path class="k40" d="M570.9 131.2l1.9.3 0-.1 2.3-.5.7 1.9"/><path class="k41" d="M594.4 130.5h0"/><path class="k42" d="M597.3 132l.2.6 4.8.2"/><path class="k43" d="M589.9 132.3l0 0 2.5-1.7 1.8 1 .5.7 1.3-1.8"/><path class="k44" d="M566.9 132.2l.3-1.1.9.2.6.8 1-.7"/><path class="k46" d="M604.5 130.7l4.9 2"/><path class="k47" d="M566.3 133l.9-2 .3 0 1.8 1.1.7.3"/><path class="k48" d="M576.4 133l1.2-2.5"/><path class="k50" d="M614.8 132.9h0"/><path class="k51" d="M613.1 130.6l1.3.4.4 1.8 2.8-1.5 2.1.8"/><path class="k52" d="M621.1 132.9h0"/><path class="k53" d="M621.4 131.8l.3.1.1.3"/><path class="k64" d="M652.9 131.9h0"/><path class="k72" d="M532 131.5h0"/><path class="k74" d="M568.1 130.3l1.6-.1"/><path class="k76" d="M560.6 134.5l1.2.6"/><path class="k77" d="M605.6 132.5l2.1-2.1 3 1.6 0 .8"/><path class="k78" d="M615.4 131.5h0"/><path class="k88" d="M560.8 132.8h0"/><path class="k1" d="M612.5 126.3l.3-3 .1-.8.2 2.8.4.3.5-1.5.1.7 1.4.3"/><path class="k2" d="M596.9 129l.1-5 0-3.5.1 6.5.1-1.6.3-.3 0 .7.1 2.5 0-6.9 1.3 8.4.1-6.3.5-.7 1.4 4.9.3-6.2 0 6.7.2-7 .1.4 0 8.3.3-1 .2.2 0-3.3.5.2.3 1.8.1-2.2.4 4.1.5-4.1.4 3.6 0-6"/><path class="k9" d="M604.7 123.7l.7.7 0 4.2.8-7.5.2 8.5.1-7.5 2-2 .2 2.9.3 5.9.4.5 1.3-.2.6-3.8 0-2.2.4 3.6.1 1.5"/><path class="k10" d="M589.5 125.3l1.7-2.2 0 4.6 0-4.5.1-2.3.9 6.8.4-5.2 0 2.5 0 1.5.1-1.9.3-3.9.6 4.7 0 2.5.8-.2.1-.7.1-4.4.5 6.5.5-3 .2-6.1.3 8.6.3-3.6"/><path class="k11" d="M582.7 128.7l.1-6.1.1-.1.7 3 .1-1.5.2 2.5.5-4 0-2.1.2 4.9.1-.8.1-1.4.3 6.3.7-.2.3-.7.1-6.9.6 2.2.8-3.3.1 5.4.2-5.7.5 5.1 0-2.2"/><path class="k12" d="M570.4 127.1l.2 2.3.1-1.5 0 .9.4.6 0-7.1.1 3.9.1 2.6 0-5.6.1 2 0-.1 0-3.5 0 7.4.1-5.3 0-3.3.1 0 .2 3 .2-2.6.4 5.5.3-2.6.3 6.3.2-3.4.1-.7 0-4.1 1 .4 0 1.8.2-.7.1 4.5 0-7.5.1 1.1 0 8.1.1-3.6.2 3.6.1-.8.3-5.1.5-1.3 0 5.4 0-4.5"/><path class="k13" d="M576.4 121.9l0 4.9.1-4.2.4 1.7.1-3.1.1 8.2.2-2.7.1 1 .4.6.3-.7.4 1.8.5-8.1 0 .7.7 5.9 0 1.7.1-2.9.2-.9.1.3.2-2.2.5 3.8.6-2.5 0-.7 0 2 .1 1 .2-2 .1-3.3.5 3 0 4.3"/><path class="k23" d="M557.2 129.9l.5.1"/><path class="k36" d="M570.3 124.3l.2 1 .1-3.4.2 1.9 0 1.9.5 3.9.1-.8.1-1.6 0-4.7.1-1.3 0 6.5 0-6.2 0 4.9.1-4.8.1-.1.2 2.6 0-2.8.2 2.2.6 1.1.4 3.9.2-8.3.2 1.6.1 3.4.2-3.9 0 6.4.2.3.8-4 .1 1.3.3-2.7.1 7.2.2-7.5.5 2.2 0 2.5 0-1.1"/><path class="k37" d="M582.7 120.9l.2 8 .5-3.5.7-.3.8-.1.5 3.8.3-5.6.4-2.1.4 4.9.5-.7.2 3.7.3-.4 1.3-6.7"/><path class="k38" d="M596.8 124.3l.2 2.5.4 2.7.3-4.8.1-1.9.1-1 1.8 6.7.3.7.5-1.5.1-5.6.2.9 2.1 5.1.2-3.7"/><path class="k39" d="M576.3 121.2l0 1.9.4.5.1-1.4.6-.5.1 3.9.1-.4.2 2.6.2 1.2.2-8 .3-.8.2 5.3.9 3 .3-5.3.2-2.3.2 2.9.2-1.3.2 2.4 0 4.8 0-3.6.4-3.4.3 2.9.1 3.9.3-2.1"/><path class="k40" d="M570.7 121.2l.2 2.2 1.5 2.6.1-2.8.3-.3.8-1.9 0 5.3.1-.4.3-4.7.3 7.6.1-4.2.1 1.7.3-2.7.5-2.4.5 4 0-3.4.1-1"/><path class="k41" d="M590.7 125.4l.1-2.8 4.7-2.5.4 7.2.5-3.1.1 2.1"/><path class="k42" d="M598.1 129.2l4.3 0 .7-4.1.2-1.3"/><path class="k43" d="M589.6 123.9l.3 5.9.6-.4 0-4 .2-1.8.1.3 0-.1.1 3.3.1-3.6.4 5.4 0-4.2.6-1.3.6 2 0-3.2.1-2.1 1.3 1.2 1.4 6.2 1.2-6"/><path class="k44" d="M568 129.2l.2.5.5-1.9.1 1.6.2-3.4.1.8.1 2.8 0-.6.7-5.2.3-1.6"/><path class="k45" d="M583.4 122.2l2.8 1.2.9 3.3.1-4.7 2 3.4"/><path class="k46" d="M606.2 125.8l.2.3.5 1.3.2-.6.6.5"/><path class="k47" d="M568.1 128l.3.4.5-2.7"/><path class="k48" d="M576.1 125.6l.8-.2.2-4.3 0 7.7 2.6-4.2.2-2.6.6 1.3.2 1.7"/><path class="k50" d="M570.3 121.1l.1 1.4.2.2.7-1.1.5 5.4 3.4-6 13.6 1.9 6.3-.1 3.6 1.4"/><path class="k51" d="M615.1 129.7h0"/><path class="k58" d="M618.7 121.3h0"/><path class="k63" d="M624.9 120.7l3.7 8.8"/><path class="k70" d="M540 130l4.1-8.4"/><path class="k71" d="M544.6 128.6h0"/><path class="k74" d="M568.4 128.8l.5-1 0 .8 0-1.3.6 2.5.1-2.9 0 1.4.3-.5.1-3.4 0 2.6.2-3.1"/><path class="k77" d="M605.8 125.8l3.4 3.5"/><path class="k78" d="M612.8 129.8h0"/><path class="k89" d="M482.4 128.3h0"/><path class="k0" d="M590.8 112.5l2-2 1 3.1 1.5-2.7.2.3.3-.2.2 1.3.3-.2.1-1.8"/><path class="k2" d="M597.3 115.2l.1 2.3.1-1.9.2 2.6.3.7 1-4.1.7 1.6.5 1.1.1-2.8 2.5 5.2.2-1 .3.4.5-.1"/><path class="k4" d="M583.4 112.6l.3-1 .3 2.1.6-3.1.2.3.7-.1.4-.7.1.3.6.1 1.1-.2 1 1.3.1-1.6"/><path class="k5" d="M599.1 112h0"/><path class="k8" d="M576.1 112.6l.4-2.6.2 2.4 1.1-.5.4 2 1.5-1.2 0 1.2.1-.4.3.4.5-2.8.3-.9 0 3.2"/><path class="k9" d="M605.2 117.6h0"/><path class="k10" d="M589.7 116.7l2.1-2.6 0 2.2.3 2.2.1-.3.3 0 0-1.9 1 3.4.2-4.1.1-.3.2 4.4.7-3.4.1-.7.3-1.1"/><path class="k11" d="M583.7 114.3l.1 1.2.2 2.8 0-3.6.1 2.7.3.7.1-1.5.1-1.9.3.6.3 1.2.8-2.3.4 5.4.4-4.4.1 3.1.4-1.6.4-.2.6-2.3.2.3.1 3 .6 1.9 0-1.6"/><path class="k12" d="M571.8 119.7l.6-.5.4-.6.1-4.5.2 1 0-.7.2 4.2 0-4 .1 5.3.2-3.1.1 2.4.1-2.8 0 .3 0 2.1.4-4.5.5 3.6.1-.9.2-.6.1-2 .7 3.1.1 1.1.1-.4"/><path class="k13" d="M576.2 115.2l.2 1.7.4.3.2-.2 1.4-2.1 0 4.7.5-.3.1-3.4.9-1.4 2.3 4.2 0-2.4"/><path class="k15" d="M572.7 113.7l.7-3 .1 2.4 0-.8 1.1-2.1.3 3 .3-.3"/><path class="k36" d="M571.1 118.7l.6-2.5 0 3.6.1-1.9.2-.9 0 2 .1-5.2.1 4.5.1.7.2-1.5 0-2.4 0 2.6.1-3.3.2-.7 0 2.8.1-5.8.1 8 .1-.6.1-2.9.2-2.7.1 6.9.1-9.2.3 5.5.1-2.8.1-1.1.3 7.8 0-1.7 0-.9.2-1.2.3 1.9.1-5.9.3.2.6 2 .2 3.4"/><path class="k37" d="M583 116.7l1.2.9 1.5-5.5.8 5.2.1 1.4.4-4.6 1.1-.7.7 3.6 0-2.5.1-2.4"/><path class="k38" d="M597 119.8h0"/><path class="k39" d="M576.2 116.3l0 .1.2-5.2.1 5.9 0-1.6 0-.5.3 3.1.1-2.2.4-.2.5-.6.4 1.8 1.1.3.5 2.2.1-4.4.4 3.5.3-3.2.1-1.1.6-2 .4 3.3.7 3.5.1-4"/><path class="k40" d="M572.3 114l.2 1.2.3 1.7 0-.7.6 0 1-.9.2 3 .1-6.3.1 2.9.1-4.7.2 6.6.9 1.2"/><path class="k41" d="M594.9 117.1l.3 1"/><path class="k43" d="M589.7 114.9l.3 3.5.4 1.3 1.4-5 .3 2.3 1.2-.7.7-.2"/><path class="k45" d="M583.1 116.3l.5-1.5.5-3.8.9 4.9.5-4.3.4 6 .5-7 0 .4 1.2 8.7.8-1.9 0-5.6.7 6 .1-4.3.1 2.6"/><path class="k48" d="M576.6 119.1l.1-8.2.6 7.6.7-2.4.6 2.2.6-6.1.1 7.3 2.2-4 .3-4.7"/><path class="k50" d="M573.1 111.9l16.1-.3"/><path class="k58" d="M613.8 110.8h0"/><path class="k60" d="M608.2 110.2h0"/><path class="k63" d="M628.6 119.8h0"/><path class="k69" d="M528 119.9h0"/><path class="k0" d="M589.7 107l.9.4.5-.4.3-1.8.4 4.1.5-3.5.4-1.6.7 1.5.5.3 0-1.1.2-.8 0 .5"/><path class="k4" d="M582.9 105.2l.1 4.8.5-9.4.5 6.9.2-2.2.1-1.8.1 2.1 1.4-1.9.1 5.2.1-2.9.4-2.4.6 4.6.1-5.6.6 3.7.2 2.8.1-1.3.1.3.1-7.8.5 1.5.6-1.1 0-.3"/><path class="k8" d="M576.3 100.6l.2 2.5 0-1.7 0 6.5.5-1.3 0 2 .1.3.2 1.1 0-4.5.2-2 .1 3.7.2-3.2.5-2.4.1 1.4.1-1.1.1 6.1.3-.9.1 1.4.1-5.6.3 1 .5 6 .6-2 .4 1.1 0 .4.8-.6 0-4.6.4 3.4.1-1.4 0 3.6.1-2"/><path class="k15" d="M573.8 109.5l.8-1.7.2 1.5.1-.5.2-4.9 0 5.3.1-5.7 0 4.3.3-1.3"/><path class="k36" d="M573.3 109.9l.6-1.6 1.2-2.9.2-.4"/><path class="k37" d="M583.3 109.4l.7-.3 1.1.3"/><path class="k39" d="M576.4 109.7l.5-3.7 2.3 3.3 3.2.2"/><path class="k40" d="M573.2 109.1l.5-1.2"/><path class="k45" d="M583.9 108.1l0 1.7.4-.7.2.9"/><path class="k48" d="M577.3 105.7l.4.7 2.4.8 1 2.7"/><path class="k62" d="M599.4 102.6l3.5 2.4"/><path class="k0" d="M591.7 98.3l.2 0 1.8.4"/><path class="k4" d="M583.4 91.3l.4 4 0 1.6.5 2.2.6-1.8.3-5.1.7.9.3-2.5.3.2.5 5.2 0-2.8.2 4.2.9 1.2.8-3.3.5 1.9"/><path class="k8" d="M576.9 97.2l.7 1.3.2-.8.1-1.8.1-2.8 0 3.8 1.6-2.4.2-.1 1.9-1.6"/><path class="k60" d="M605.8 97.4h0"/><path class="k62" d="M603.5 96.8h0"/><path class="k4" d="M583.4 89.8l1 0 .8-.1"/><path class="k62" d="M597 85.1l2.2 2.9"/><path class="k59" d="M585.4 75.2h0"/><path class="k61" d="M593.3 78.1h0"/><path class="k85" d="M579.3 79.3h0"/><path class="k59" d="M586.5 62.9h0"/><path class="k61" d="M589.5 68.8l.5-2.4"/><path class="k85" d="M577.5 30.5h0"/></g><path d="M490 107L528 119.9M524 111.2L544.1 121.6M604 102L602.9 105M620.4 103L613.8 110.8M643 74.6L608.2 110.2M643 114L628.6 119.8M572 28.5L579.3 79.3M584 28.5L586.5 62.9M589 28.5L590 66.4M592 28.5L589.5 68.8M598 28.5L593.3 78.1M607 28.5L585.4 75.2" stroke="#000" stroke-width=".45" fill="none"/><g class="lb"><text x="576.5" y="28.5" text-anchor="middle">Q15149</text><text x="584.6" y="28.5" text-anchor="middle">P07437</text><text x="592.7" y="28.5" text-anchor="middle">Q9NZN4</text><text x="600.8" y="28.5" text-anchor="middle">P09493</text><text x="608.9" y="28.5" text-anchor="middle">P60709</text><text x="590.4" y="28.8" text-anchor="middle">P09493</text><text x="592.1" y="28.4" text-anchor="middle">Q9Y490</text><text x="593.5" y="28.2" text-anchor="middle">Q01082</text><text x="482.9" y="107.6" text-anchor="middle">Q9H5S3</text><text x="516.6" y="111.8" text-anchor="middle">P60033</text><text x="481" y="129.8" text-anchor="middle">A0A1F7</text><text x="590" y="71.9" text-anchor="middle">A0A1B0GU84</text><text x="607" y="101.5" text-anchor="middle">O95630</text><text x="625.7" y="103.8" text-anchor="middle">P17936</text><text x="649.3" y="74.6" text-anchor="middle">P05387</text><text x="651.1" y="114.1" text-anchor="middle">Q99623</text><text x="651.1" y="133.3" text-anchor="middle">Q9UBF2</text></g><rect x="474" y="25" width="185.5" height="121.7" fill="none" stroke="#d6d6d6" stroke-width="1.3"/><path d="M506.3 147.3v1.1M563.8 147.3v1.1M621.3 147.3v1.1M473.4 141.2h-1.1M473.4 108.2h-1.1M473.4 75.2h-1.1M473.4 42.2h-1.1" stroke="#333" stroke-width=".5"/><g class="tl"><text x="506.3" y="151" text-anchor="middle">-10</text><text x="563.8" y="151" text-anchor="middle">0</text><text x="621.3" y="151" text-anchor="middle">10</text><text x="471.8" y="142.2" text-anchor="end">0</text><text x="471.8" y="109.2" text-anchor="end">5</text><text x="471.8" y="76.2" text-anchor="end">10</text><text x="471.8" y="43.2" text-anchor="end">15</text></g><text class="at" x="566.8" y="154.6" text-anchor="middle">log2(FC)</text><text class="at" transform="translate(467.8 85.8) rotate(-90)" text-anchor="middle">-log10(p-value)</text><defs><linearGradient id="g2" x1="0" y1="0" x2="0" y2="1"><stop offset="0.0" stop-color="#ff0000"/><stop offset="0.1" stop-color="#fb4b2d"/><stop offset="0.2" stop-color="#f36e50"/><stop offset="0.3" stop-color="#e98971"/><stop offset="0.4" stop-color="#daa293"/><stop offset="0.5" stop-color="#c4b9b6"/><stop offset="0.6" stop-color="#b4a6c9"/><stop offset="0.7" stop-color="#a487d6"/><stop offset="0.8" stop-color="#8e68e3"/><stop offset="0.9" stop-color="#7148ef"/><stop offset="1.0" stop-color="#4020fa"/></linearGradient></defs><rect x="664.3" y="75.2" width="5.8" height="26.8" fill="url(#g2)"/><text class="lg" x="664.3" y="73.6">FoldChange</text><g class="ll"><text x="671.5" y="76.6">15</text><text x="671.5" y="81.2">10</text><text x="671.5" y="85.8">5</text><text x="671.5" y="90.4">0</text><text x="671.5" y="95">-5</text><text x="671.5" y="99.6">-10</text></g><defs><clipPath id="c3"><rect x="10" y="181.5" width="185.5" height="121.9"/></clipPath></defs><text class="ttl" transform="translate(108.0 173.0) scale(1 1.06)" text-anchor="middle">K002</text><path d="M29.3 181.5V303.4M63.8 181.5V303.4M98.3 181.5V303.4M132.8 181.5V303.4M167.3 181.5V303.4M10 280.6H195.5M10 245.5H195.5M10 210.3H195.5" stroke="#f5f5f5" stroke-width=".55" fill="none"/><path d="M12.1 181.5V303.4M46.6 181.5V303.4M81.1 181.5V303.4M115.6 181.5V303.4M150.1 181.5V303.4M184.6 181.5V303.4M10 298.2H195.5M10 263.1H195.5M10 227.9H195.5M10 192.8H195.5" stroke="#ebebeb" stroke-width=".6" fill="none"/><path d="M108.7 181.5V303.4M122.5 181.5V303.4M10 291.2H195.5" stroke="#a8a8a8" stroke-width=".8" fill="none"/><g clip-path="url(#c3)"><path d="M32 298.2 115.8 298.2 120 296.6 124 295.2 130 292.8 136 291 145.3 289 160 288.5 178 288.4 178 287 160 287.2 148 287 140 286 132 284 126 282 122 283 119 288 117 293 115.6 295.3 114 292 111 288.5 104 287.5 95 288 80 289.2 60 290.8 45 292 32 294Z" fill="#111"/><path class="dt" d="M17.4 294h0m1.4.5h0m1.6.2h0m1.3 1.8h0m.5-2.1h0m0-.5h0m1 .1h0m.2 2.2h0m3.5-1.9h0m2.5-.4h0m.9 1.3h0m.1 0h0m2.5 1.1h0m.9.6h0m.9-.3h0m.7.3h0m.1-1.6h0m0 1.8h0m.6-3.4h0m.7 2.9h0m1-1.2h0m6.1 0h0m.3 1h0m.6-4.2h0m.4 4.6h0m1.1-3h0m.4 1.3h0m.3.7h0m2-4.4h0m2.3 3.7h0m.7-3h0m1.2-1.3h0m.5 3.8h0m.2 1.3h0m1.7-2.7h0m.5-.3h0m.7-.3h0m.8.9h0m.5 1.4h0m.2.6h0m1.1-5.7h0m.8.5h0m.2-.2h0m.2 5.8h0m.1-3.7h0m0 2.1h0m.9.8h0m.1-4.4h0m.5 5h0m.9-2.4h0m.1-.8h0m.5.7h0m.2 1.3h0m2 1.5h0m.3-2.6h0m.1 2h0m.3-5.7h0m1.3 4.6h0m1 .9h0m.3-5.7h0m.4 4.4h0m.1-3.8h0m.6 3h0m1.1 0h0m.1 1.1h0m.6.9h0m2.2-3.4h0m1.5.8h0m.2 2.2h0m.3-1h0m.4 1.4h0m.7-4.4h0m.2-1h0m.9 5.7h0m1.3-2.7h0m.4-4.5h0m.3 0h0m2 1h0m1.5 5.2h0m.3-4.9h0m.7.1h0m.7.1h0m.3-1.8h0m.4 1.7h0m.1-.2h0m.3-1.6h0m.8-.4h0m.1.3h0m.5 4.1h0m.6 2.3h0m1.5-1.3h0m1.7-1.7h0m1.2-1.2h0m2.4.2h0m1.3-3.1h0m.1 1.1h0m.4.1h0m.8-.7h0m.1 5.6h0m1.2.4h0m.1-1.7h0m.3-2.6h0m.6-2.3h0m.4-.2h0m1.1 4.9h0m.7-3.3h0m0 3.2h0m.2-5.6h0m.1 6.6h0m.4-2.3h0m.8 2.5h0m.1-5h0m1.3 4.9h0m.7.7h0m0-5h0m.3 3.8h0m.2-4.5h0m.2 1.3h0m0 5.4h0m.5-.5h0m.4-3.4h0m.5 2.1h0m.1-3.3h0m.4 3.3h0m0-1.5h0m.4.6h0m2.2 0h0m.2 1.7h0m.3-6.1h0m.1 2.8h0m0-.7h0m.2 3h0"/><path class="k1" d="M156.5 284.2l.2.3.1-1.1.3 3 .2-2 .9-2.3.2 3.8.9.5.2-3 2.5 3.3.1-2.3"/><path class="k2" d="M144.6 280.3l.2 1.1.7-.7.1 4.5.1-2.7.2 1 .7-2.4.3.6.2 1 .4-.8.4 2.1.7 1.7.1-4.9"/><path class="k7" d="M176.2 286.8h0"/><path class="k9" d="M149.8 283.3l.1 0 .1.9.8-3.4.9 4.5.4-.4.5 1.3 0-4 .4 3.8.4-4.5.5 5 .3-1.1.6.4"/><path class="k10" d="M136.7 285l1.3-1.3.3 0 1.3 1.5.2 0 .2 1.5 2.7-5.7"/><path class="k11" d="M131.1 281.4l1.9.2.3 2.3.1-2.9.3 2.1.4 2.1 0-4.3.4-.9.5 1.2.9 3.7 0-1.7.2-.8.1 2 .2 1.9"/><path class="k12" d="M121.1 285.3l0-1.6.1 2.8.3-3.3 0 .2.2-.1.2-.7.2 4.2.3-.9.1-1.9 0-1 0 3 .2-3.2.2-1.2.5 1.9.3 1 .2 1.9 0-3.3 0 2.2.4-1.1 0-2.3.7 3.5.5 1.2"/><path class="k13" d="M126 285.8l.1-2.6 0 2.6 0-2.7.1-2.6 1.2.6.2 5.9.2-.1.2-.3.1-3.9 2.3-.4.1 2.4.2-2"/><path class="k14" d="M162.7 286.8l3.4-2.3"/><path class="k16" d="M75.9 284.4l3.1-3.9.3 1.1"/><path class="k17" d="M101.9 280l1.1 2.8.5-1.7.8 2 0-1.6"/><path class="k18" d="M70.9 289.1l.3-2.9.2 3.3.5-4.4 1.2.2"/><path class="k19" d="M89 289.5l1.4.3 2.6-.7"/><path class="k21" d="M81.2 286.8l1.6.2 3.1 2.1.1-1.8 1.7-1.6"/><path class="k22" d="M49.9 288.7l.2-1.3 2.5-1.6.1 1.4 1.2.2 1.7-2.3.1 3 .8-1.6"/><path class="k23" d="M110.8 284.2l.4-2.5"/><path class="k24" d="M105 284.5l.1 0 0-2.9 3.4 2.3.1-.1"/><path class="k25" d="M99.9 285.2h0"/><path class="k26" d="M60.5 284.3l2.7.7"/><path class="k27" d="M45.1 289.2h0"/><path class="k28" d="M109.5 287.2l.5 2.1 0-2 .5-1 .7.5"/><path class="k29" d="M105 289.2l1.4-3.2 1.6.7.7 3.3"/><path class="k30" d="M73.8 288.4l1.6-2.5.7 1.9.3.2 1.8-.8.9-1.3.8 1.8.2 1.5"/><path class="k31" d="M81.9 280.6l4.2 4.1"/><path class="k32" d="M96 285l.6 3.7.3-3.2.1 1.5.3-1.3 1.3 1 .7 1 .1-2.1"/><path class="k33" d="M72.4 284.3h0"/><path class="k34" d="M57.2 286.5l2.5-1.4.1 4 1.9-2.7.7 1.3 1.1 2.3.1-4.3"/><path class="k35" d="M93.7 282.4h0"/><path class="k36" d="M121 284.1l.4 3 .4-4.6 0-.6.2 2 .2 1.2.1-4.8.5 5.5.6-2.1.3-1.3.5-.7.4 1.2.3-2.7.1 7.5 0-7.6.6 6.6.1-5.2"/><path class="k37" d="M131.3 280.7l.3-.1.3 4.6 1.2 2.7.4-4.1 2.4 3 .4-3"/><path class="k38" d="M143 284.9l0-1.3 2 3 .1-2.4.7 3.6.5-1.6 1.4-.2.2-2.1.2 1.1.2.7.1-.5.1-.9.1 2.7"/><path class="k39" d="M126 287l.3-5.4.5-1 .2 5.3 0-3.4.6 5 .4-5.9 1 3.1.7-4.3 0 5.4.1-1.8.1-3"/><path class="k40" d="M121.3 282.5l.6-1.1 0 .3 0 5.1.2-6.4.1 2.8 0 4.2.2.1.3-5.6.8 2.8.2-1.5 0 .5.6-2.3 1.4 1"/><path class="k41" d="M136.7 281.9l1.3 1 .2-1.5.3 1.2 1.5-.1 2.4-2"/><path class="k42" d="M144.7 284.2l.1 2.3 4-3.2"/><path class="k43" d="M137 287.2l.3-3.1.2-.4 0-2.6 0 6.1.5-.4.3-3.1.6-.7.6-1.2 2 .4.3-.9.1 6.3.3-.5"/><path class="k44" d="M119.6 286.8l.2-.3.1.3.1-.6.3-.9.2.7.3.4.1-.3"/><path class="k45" d="M131.9 283.1l.9 3.6.6-.8.3-2.2.5 2.9.1-2.5.6.2"/><path class="k46" d="M149.2 287.9l.1-1.8.5-1.1 1.4-.9.6.4 2.9 3.2"/><path class="k47" d="M119.7 286.7l.2.4.1.1.5-2.4.3-.8"/><path class="k48" d="M125.8 286.9l1.3-1.8.2 2.9.5-2.9.1-1.3 1.1 3 .7-.7.9 1.7"/><path class="k50" d="M120.8 284l6.6-3.1"/><path class="k51" d="M156.5 286.6l1.8-.5 3 1.4"/><path class="k64" d="M186.8 288.2h0"/><path class="k67" d="M40 289l4 1"/><path class="k68" d="M65.7 282.7h0"/><path class="k69" d="M82.3 283.6l2.7-2.1"/><path class="k74" d="M120.7 285.7h0"/><path class="k76" d="M113.3 285.5l.3 4.4 0-.7.4.8 0-1.1"/><path class="k77" d="M149.5 287.3l.5.4.8-.2.2-3.1.7 3.2 1.3-.7"/><path class="k84" d="M179.5 286.3h0"/><path class="k88" d="M113.3 281.2l.2 3.2 0-.9.1-.5.2.3"/><path class="k89" d="M49.9 283.3h0"/><path class="k90" d="M52 283.4l4.7-.5"/><path class="k96" d="M113.9 285.9h0"/><path class="k0" d="M137.4 272.1l.3-.1 0-1.1.5 2.2 0-2.2 1.3 2 1.2-2.8 1.2 1.2"/><path class="k2" d="M143.1 273.5l.2 2.1.7-.8.5 4.4.4-5.3 1.1 4.5.3-1.2.1 2.6.1-2.8 0-.2 1.1.5"/><path class="k4" d="M131.5 271.3l.5-.8.3 1.5.3-.9.8 1.7 2.9-1.9"/><path class="k5" d="M142.9 271.5l1-.7 0 .7 2.2 1.7 1.4-1 .3-.7"/><path class="k8" d="M126 271.8l.1-.8 0-.2.1.8.2 1.5.3-2.8.4 1.9.4-1.7.4.1.4.9.6.5"/><path class="k9" d="M149.3 274.3l2.2 2.4.2 1.7.1-.6"/><path class="k10" d="M137 279.2l0-4.2.8-1.4.4 6.2.3-3.5.5 3.7.6-3.3.3 1.3.1 1.2.3-3.3.3.7.3-2 .4 3.4.5-3.3.2 2.3 0 .5.1-.5"/><path class="k11" d="M131.1 279.6l.2-6 .4.5.3 4.8.5-5.1 0 1.7.2 1.1.2-2.2.4 1 .1 1.3.5 1.5.6-1.7.2.6.2 2.9 0-1.4.1 1.3.8-.7.7-2.8"/><path class="k12" d="M123.4 278.8l.7-1.3.2 1.4.1-2.5.1 1.2.2 2.1.5-2.3 0-1 .1-1.3.3 1.8"/><path class="k13" d="M126 273.5l.1 0 .1-.1.2 4.9.1-3.3.1 1.8 0 3.1.3-2.9 0 .9.2-.7.4-.9.6-2.4.4.3.1 1.3.1-1.6.1 5.3.3-4.5.1 1.8.4 1.7.3.4.6-5.2"/><path class="k17" d="M100 274.8l1.9 3.9"/><path class="k23" d="M110 271.6h0"/><path class="k31" d="M80.8 279.2l3.7.8.8-4"/><path class="k35" d="M87.7 279.4h0"/><path class="k36" d="M122.9 278.1l.1-.1.2.5.3-2 .4 2.2.4-2.7 0-1.3.6-1.2.1.5 0-.9.1-.4.4-.9.2.8"/><path class="k37" d="M134.8 275.2l1.7 3.1"/><path class="k39" d="M126.1 275.7l.4-.6 0-.5.2.8 0 2.2.1 2.1 0-1.6.2-8 .1 5.1.1-4 1.2 8.4.1-7.7 0-.3.2 3.6 0 1.4.2-.5.2-1.1.3 2.1 0-7 0 2.9.1 2.1 0 3.2.2-7.4.6.9.2 3"/><path class="k40" d="M123 278.6l0 .5 0 .7.6-3.8.6-.3.2-.4 0-.3.2 2.3"/><path class="k41" d="M139.4 279.3h0"/><path class="k43" d="M137.8 278.8h0"/><path class="k45" d="M131.2 276.6l.6-3.9.2 6.5 1-1.3.9-.1"/><path class="k48" d="M126.1 274.1l.3 2.2 1.3-4.5.4 5 .1-5.7.3 6.6 0-4.6"/><path class="k50" d="M122.7 278.7l8.2-4.3 5.4 2.4"/><path class="k68" d="M72.7 279.8h0"/><path class="k70" d="M95.5 275.2l2.6-4.2"/><path class="k72" d="M92.9 271.4h0"/><path class="k84" d="M177.5 275.7l5.1-.7"/><path class="k87" d="M63.1 278.9h0"/><path class="k88" d="M112.7 273.8l1.2 5.7"/><path class="k91" d="M170.1 275.1l1.3-.2.7 1.4.1-2.3"/><path class="k92" d="M158.7 276.6l.1-2.6"/><path class="k93" d="M164.6 276.6l2.8-1.9"/><path class="k94" d="M152 274.6l1.4-.2"/><path class="k0" d="M136.8 261l0 6.2.7-.6.1-5.2.8 2.2.1-3.4.9 1.9.1 7.1 0-.5.2 1.1.2-5.8.6 1.4 1-1.5.8.2.1-2"/><path class="k4" d="M131.2 268.4l.5-.3.2 1 .1-8.6.1 6.4.4-3 .2 3.4.1 1.8 1.4-2.9.1.9.3-4.3.1 1 .5-3.1.1 2.6.1-1.1.1 3.6.2 2.7"/><path class="k5" d="M143.4 266.4l2.7 3"/><path class="k8" d="M127.3 267.9l.2.7.3.1.3-3.3.3 2.4.2-3.9.5 3.8.1-6.3.1.6 1.6-.5"/><path class="k39" d="M127.8 269.7l.5 0"/><path class="k48" d="M127.1 268.7h0"/><path class="k60" d="M153.4 264.6h0"/><path class="k71" d="M104.8 264h0"/><path class="k83" d="M172.8 261h0"/><path class="k0" d="M136.7 259.9l.8-5.6.5.1.1-2.1 0 1.6.8 4 .5-3.9"/><path class="k4" d="M132.9 254.8l.1.2 1.2 3.3 1.1-5.7.4 3.6.4-3.8.4 4.2 0 .7"/><path class="k8" d="M130.5 258.4l.2-.1.1.4"/><path class="k63" d="M162.7 251.8l4.4 8.1"/><path class="k84" d="M183.1 254.5h0"/><path class="k95" d="M108.6 255.2h0"/><path class="k0" d="M139.1 249.3h0"/><path class="k71" d="M102.5 248.2h0"/><path class="k83" d="M170.2 247.2h0"/><path class="k60" d="M149.2 237.4l1.3 0"/><path class="k61" d="M139.4 237.4l.1-3.4.5-3"/><path class="k62" d="M143.8 235.1l2.3-2.3"/><path class="k60" d="M150.8 225.8h0"/><path class="k61" d="M139.4 226.6l.5 1.4"/><path class="k62" d="M146.6 224.2h0"/><path class="k58" d="M159.6 212.1h0"/><path class="k59" d="M132.6 216h0"/><path class="k60" d="M153.1 213.4h0"/><path class="k60" d="M149.5 191.3l1.7 8.6"/><path class="k83" d="M171.7 195.1h0"/><path class="k63" d="M168.6 187h0"/></g><path d="M124 185.5L132.6 216M137 185.5L139.4 226.6M152 185.5L143.8 235.1M179 185.5L171.7 195.1M141 191L139.9 231M157 191L146.1 232.8M161 197L150.5 237.4M160 208.5L149.2 237.4M180 234.5L167.1 259.9M165 239.5L162.7 251.8M175 249.5L170.2 247.2M181 272L177.5 275.7M90 217.5L102.5 248.2M108.6 247.5L108.6 255.2M62 273L72.7 279.8M46 283.5L49.9 283.3M139.5 185.5L139.4 237.4M140.5 191L140 231M137 201L139.5 234M153 213L146.6 224.2M150 203L150.8 225.8" stroke="#000" stroke-width=".45" fill="none"/><g class="lb"><text x="122.1" y="184.6" text-anchor="middle">A0A075B6</text><text x="137.6" y="185.1" text-anchor="middle">Q9BRT3</text><text x="157.8" y="184.6" text-anchor="middle">Q13443 Q8WWI4</text><text x="181" y="184.6" text-anchor="middle">Q9H5F6</text><text x="144.6" y="190" text-anchor="middle">Q9H4A6</text><text x="158.5" y="190" text-anchor="middle">P30086</text><text x="144.6" y="196.7" text-anchor="middle">Q9UD71</text><text x="164" y="195.9" text-anchor="middle">A0A0B4J2</text><text x="137.6" y="201.4" text-anchor="middle">Q9NSE4</text><text x="150" y="203.4" text-anchor="middle">P09417</text><text x="126.7" y="204.5" text-anchor="middle">Q9NSE2</text><text x="140.7" y="208.4" text-anchor="middle">Q9NQ88</text><text x="163.2" y="207.6" text-anchor="middle">Q71DI3</text><text x="150" y="212.2" text-anchor="middle">Q9Y6N5</text><text x="137.6" y="214.6" text-anchor="middle">P04179</text><text x="156.2" y="222.8" text-anchor="middle">Q9C0C9</text><text x="155.4" y="230.9" text-anchor="middle">P07858</text><text x="183.4" y="234" text-anchor="middle">P15170</text><text x="167.1" y="238.6" text-anchor="middle">Q9H4B7</text><text x="177.2" y="248.7" text-anchor="middle">Q9Y3B8</text><text x="188.8" y="253.4" text-anchor="middle">Q9NZ08</text><text x="176.4" y="259.6" text-anchor="middle">P08603</text><text x="154.7" y="261.9" text-anchor="middle">Q9Y5X5</text><text x="185.7" y="271.2" text-anchor="middle">Q9ZT58</text><text x="186.5" y="277.4" text-anchor="middle">Q9NR28</text><text x="83.7" y="216.5" text-anchor="middle">P05976</text><text x="108.6" y="246.8" text-anchor="middle">Q9NQH3</text><text x="101.6" y="262.9" text-anchor="middle">Q9P2E9</text><text x="93.7" y="269.1" text-anchor="middle">P36578</text><text x="55.2" y="272.6" text-anchor="middle">P05442</text><text x="62.2" y="277.5" text-anchor="middle">P07196</text><text x="39.4" y="283.1" text-anchor="middle">P60174</text><text x="54.3" y="282.2" text-anchor="middle">Q9UNH6</text><text x="57.8" y="286.2" text-anchor="middle">P49327</text><text x="40.3" y="292.4" text-anchor="middle">P32119</text><text x="42" y="296.7" text-anchor="middle">P07737</text></g><rect x="10" y="181.5" width="185.5" height="121.9" fill="none" stroke="#d6d6d6" stroke-width="1.3"/><path d="M12.1 304v1.1M46.6 304v1.1M81.1 304v1.1M115.6 304v1.1M150.1 304v1.1M184.6 304v1.1M9.4 298.2h-1.1M9.4 263.1h-1.1M9.4 227.9h-1.1M9.4 192.8h-1.1" stroke="#333" stroke-width=".5"/><g class="tl"><text x="12.1" y="307.7" text-anchor="middle">-15</text><text x="46.6" y="307.7" text-anchor="middle">-10</text><text x="81.1" y="307.7" text-anchor="middle">-5</text><text x="115.6" y="307.7" text-anchor="middle">0</text><text x="150.1" y="307.7" text-anchor="middle">5</text><text x="184.6" y="307.7" text-anchor="middle">10</text><text x="7.8" y="299.2" text-anchor="end">0</text><text x="7.8" y="264.1" text-anchor="end">5</text><text x="7.8" y="228.9" text-anchor="end">10</text><text x="7.8" y="193.8" text-anchor="end">15</text></g><text class="at" x="102.8" y="311.3" text-anchor="middle">log2(FC)</text><text class="at" transform="translate(3.8 242.4) rotate(-90)" text-anchor="middle">-log10(p-value)</text><defs><linearGradient id="g3" x1="0" y1="0" x2="0" y2="1"><stop offset="0.0" stop-color="#ff0301"/><stop offset="0.1" stop-color="#fa4d2f"/><stop offset="0.2" stop-color="#f36f51"/><stop offset="0.3" stop-color="#e88a73"/><stop offset="0.4" stop-color="#d9a395"/><stop offset="0.5" stop-color="#c2bbb9"/><stop offset="0.6" stop-color="#b3a3ca"/><stop offset="0.7" stop-color="#a284d8"/><stop offset="0.8" stop-color="#8c65e4"/><stop offset="0.9" stop-color="#6d43f0"/><stop offset="1.0" stop-color="#3619fc"/></linearGradient></defs><rect x="200.2" y="231.7" width="5.8" height="27" fill="url(#g3)"/><text class="lg" x="200.2" y="230.1">FoldChange</text><g class="ll"><text x="207.4" y="233.4">10</text><text x="207.4" y="240.1">5</text><text x="207.4" y="246.8">0</text><text x="207.4" y="253.5">-5</text></g><defs><clipPath id="c4"><rect x="242" y="182.4" width="185.5" height="123.1"/></clipPath></defs><text class="ttl" transform="translate(338.9 173.5) scale(1 1.06)" text-anchor="middle">K020</text><path d="M246.6 182.4V305.5M282.1 182.4V305.5M317.6 182.4V305.5M353.1 182.4V305.5M388.6 182.4V305.5M424.1 182.4V305.5M242 284.9H427.5M242 253.9H427.5M242 222.9H427.5M242 191.9H427.5" stroke="#f5f5f5" stroke-width=".55" fill="none"/><path d="M264.4 182.4V305.5M299.9 182.4V305.5M335.4 182.4V305.5M370.9 182.4V305.5M406.4 182.4V305.5M242 300.4H427.5M242 269.4H427.5M242 238.4H427.5M242 207.4H427.5" stroke="#ebebeb" stroke-width=".6" fill="none"/><path d="M328.3 182.4V305.5M342.5 182.4V305.5M242 293.9H427.5" stroke="#a8a8a8" stroke-width=".8" fill="none"/><g clip-path="url(#c4)"><path d="M262 300.2 335.6 300.4 342.6 298.6 353.1 295.2 370 293.4 385 291.8 403.6 291.8 403.6 290.4 385 290.3 372 289.8 360 288.5 350 288 344 289 341 293 338 297.5 335.8 298.8 333.5 297 330 295 320 294.8 300 295 280 295.6 262 296.5Z" fill="#111"/><path class="dt" d="M246 298.6h0m.4.6h0m0-.5h0m.4-2.2h0m2.9 2.9h0m1.2-2.8h0m1-.5h0m1.8 1.9h0m.1.8h0m2 .6h0m1.7-1.6h0m4.5-2.6h0m.2 4.6h0m1.4-.6h0m.7-2.4h0m.2 1.2h0m1.9.5h0m1.8-1.6h0m.1 1.8h0m.3-.5h0m.6 1.1h0m.9-2.6h0m.4.6h0m.5 0h0m2 1.8h0m.1-.5h0m1.6-1.7h0m3.6 2.2h0m.8 0h0m.2-3.9h0m.4 1.5h0m.2.7h0m2.2 1.5h0m.2.7h0m.7-2.5h0m.5 1.8h0m.3-1.9h0m1-2.1h0m1.7-.1h0m.8 4.2h0m0-2.1h0m1.4 0h0m.1 2.1h0m.2-.7h0m2.8-.2h0m.2-.1h0m.3-1.1h0m1.4-2.3h0m2.4 4.7h0m.3-2.4h0m.2-2.9h0m1 4.1h0m.7.3h0m.2.5h0m.1-5h0m.2 4.9h0m.5-4.4h0m.3 3.3h0m1.3-1.1h0m.1 2.1h0m.5-2.7h0m.5-1.6h0m1.8-.3h0m.6 3.2h0m1.6.2h0m.4-2.5h0m.1 2h0m.6 1h0m.2.1h0m.5.7h0m.5 0h0m.2-5.2h0m.4 1.2h0m.2 0h0m.5-1.9h0m.4 1.8h0m.1 2.9h0m0-3.4h0m1.1-.2h0m.5 3.4h0m.3.6h0m.1-2.8h0m1.4-2h0m1.4 4.6h0m0-4.6h0m.1 4.4h0m.3-2.4h0m.3 2.6h0m.3-.9h0m.1-3.3h0m0 3.7h0m.8-2.8h0m.4 1.9h0m.3-.4h0m.7 2h0m.2-.9h0m.9 1.7h0m1-1h0m0-4.6h0m.4-.2h0m.2 4.7h0m.3-.3h0m1-5.6h0m.2 5.7h0m1.3-3.6h0m1.5-.7h0m.4.1h0m.3 4h0m.4.5h0m.9-2.8h0m.6-.7h0m.7-1.7h0m1.4 3.9h0m.8-2.6h0m.3 4.3h0m.3-2.4h0m.8 2.9h0m.1-.8h0m.3-4.7h0m.1 4.4h0m.3-2.3h0m0 .9h0"/><path class="k36" d="M342 290.1h0"/><path class="k39" d="M347.6 290.9h0"/><path class="k40" d="M342.4 290.4l.1.4"/><path class="k41" d="M362.8 290.9h0"/><path class="k43" d="M362 290.6h0"/><path class="k44" d="M338.1 291l2-.7.3-.3"/><path class="k46" d="M375.4 290.8l1.2-.7.3.4"/><path class="k50" d="M340.4 290.3h0"/><path class="k51" d="M382.8 290.8l1.8-.6 5.5.7"/><path class="k53" d="M392.6 290.3h0"/><path class="k83" d="M402.9 291.2h0"/><path class="k89" d="M256 294.1h0"/><path class="k100" d="M324 290.4l.4 2.2.4.1.5-1.1 1.5-.8.4 0 .3.5"/><path class="k101" d="M288 290.9l1 2"/><path class="k103" d="M294.3 292l2.5-1.5 2.1 2 .8-.6.8-.7.4-.3.2 1.3"/><path class="k104" d="M302.6 292.2l.1-.5 5.8-1.4 1.1 1.3"/><path class="k106" d="M328.5 292.4l.3-.6 1.2.2.1-.8 0 1 .2.8.4-1.3 1-1.7 0 1 .1.6"/><path class="k107" d="M252.5 292.8l1.9-1.3.3 1.5 0-1.6.7.8"/><path class="k109" d="M332 292.2l.1 0 0-1 .1.3.1-.4.1.3.1.1.1.2.1.3.1-.4 0 .1.1.2.1-1.8 0 1 0 .9"/><path class="k110" d="M276.7 292.5l1.2-1.1.4-.2 1.7-.9.1 2.1 2.9-1 1.2 1"/><path class="k111" d="M256.4 292.4l.7.1 1.3.3"/><path class="k114" d="M316.8 291.9l0-1.8 3.1.3.3 0 .9.6.1-.5.4 1.6"/><path class="k118" d="M266 292.2l.9-.2.6.7.3-1.2.8-.5 2.6 1.8 4.3-2.5"/><path class="k120" d="M310.2 291.1l3-.8 1.4.7.1 1.4 1.5-1.6"/><path class="k1" d="M382.8 285.1l4.3.2 2.4 2.7"/><path class="k2" d="M367.8 282.7l.8-2.2 1.6 1.4.3-.3 2.1-1 1.1 2.4.6-2.7"/><path class="k9" d="M376 285.7l1.5-3.4.9-1.4.2 3.3 1.9-2.7.6 4.5.2 1.4"/><path class="k10" d="M361.1 283.3l.2 4.2.5-2.8 0 1.8 1.7.2 0-4.7.4 1.9.2 3.7 1.8-6.7.9 7.3.4-3.7.2-4.5"/><path class="k11" d="M354.4 284.5l.4-1.1 1.5 2.1.2 3 .1.1.4-1.1.8-.6 1.4-5.8.2-.4.1 3.7.5 1.3.2-1.1"/><path class="k12" d="M342 286.7l.1-5 .1 3 0-4.2.2.7 0 4 .1-3.6.2 2 .8 5.1.4-6.1 0-.5.3 6.3.4-5 .1.3 0-.9 1 2.9 0-1.7 0-1.8 1.2 1.7"/><path class="k13" d="M347.4 283.6l.2-3.4 1 4.5.9 3.3.2-2.6.6 1.1.4-.1.6 1.8.2-.6.3-2.2.1 3.3"/><path class="k14" d="M394.4 288.5h0"/><path class="k36" d="M341.8 288.5l0-6.8.1-.2.2.8.1 7.3.1-4.8 0-4.3.1 4 .2-3 .4 5.5.1.2.3-7.1.1 9.7 0-6.8.1-.1.1 4.6.1-2.8 0 3.4.1-2 .4-2.5 0-.3.1-2.4 0 8.4.1-5.7 0 3.3 0-2.6.2 5 .6-.4.2-7.2.2-1.5.3 7 .1-3.5.4-1.4.2 6 .1-.7.2-4.4"/><path class="k37" d="M353.9 284.7l.3-2.1.1 2.4 0 3.2 1.8-.3.2-1 0 2.1.1-.2.5.3.7-1.7.1.4.9-1.7 1.1 1.3.5-1"/><path class="k38" d="M367.8 287.7l.6.1.8.2 3.5 1.1 1.8-.3.4.8"/><path class="k39" d="M347.5 282.5l.1-.9.2 7.7.2-5 .3-2.2.3-.6.5-1.5.2 8.3.2.7.2-7.6 1.5 2.6.2.7.4-3.5.2 2.2.1 4.8.1-3.5.5 4.6 0-5.1.4.4"/><path class="k40" d="M341.8 282.7l0-2.3.1 5 .1-1.7.1 4.5.9-7.8.4 2.1.2 1.3.3-1.8.8 1.2.9 3.5.5 2.8"/><path class="k41" d="M364.8 287.8l.4 1.7"/><path class="k42" d="M371.4 287.9h0"/><path class="k43" d="M360.5 287.1l2.8 1 1.1-.3.3.1 2 1.7"/><path class="k44" d="M339.3 289.8l1.1-.2 0-2.8.2.2 0 1.7.1-3.5 0 .4.1 3.9 0-4.4.3 3.9.1-3.3.5-1.7 0-1.5"/><path class="k45" d="M353.8 284.3l0 3.7.1 0 .1.5 2.2-.4.3-.5 0-2.9.8 4.2 2.2 1.1"/><path class="k47" d="M339 289.8l1.2-2.4.5-2.1.1.7 0-1.8.2-.4.1 1.6 0 3 .1-4.6.2 2.7.1-3.9.1-.2"/><path class="k48" d="M347.4 288.4l.5-2.8.8-1.7 0-.6.1-.2.1 6.5.7-2 1-.6.2 1.1.4-5.9 1.3 3.2"/><path class="k50" d="M339.6 289l2.6-3.8 1.7 4.1 8.7-6.6 28 7"/><path class="k74" d="M341.6 285.7l.1-.3"/><path class="k77" d="M375.1 289l.7 0 3.1.9 1-.4"/><path class="k83" d="M399.8 280.5h0"/><path class="k87" d="M270.9 289.4h0"/><path class="k89" d="M257.3 281h0"/><path class="k93" d="M391.4 281.2l4.1-.8"/><path class="k94" d="M378.1 280.8h0"/><path class="k97" d="M344.1 288.9h0"/><path class="k98" d="M357.7 289h0"/><path class="k99" d="M279.8 281.9l4.8-.5"/><path class="k100" d="M322.9 284.3l.1 1.8 1 1 .1-1.5.1.8.4-3.5.2 4.8.1-2.2.1 2.8.2-4.4 0 3.3.1-4.4.7 4.6.4-3.9.1 5.2.6.3.2-6.3.4 5.4 0 1.7"/><path class="k101" d="M290.7 283.6l2.8 1.8.2.7.1-2.3"/><path class="k102" d="M332.6 280.1l.3.3"/><path class="k103" d="M294.1 288.1l2.4 1.5.5-1.2.4.9 0-3.4.3-1.6 0 4.8.9-1.3.7 1.6 0-2.5.7-3.7.5 5.8"/><path class="k104" d="M302.9 288l.8.9.7.6.4-4.3 1 1.6 1-1.3.3 3.8.1-1.4.7 1.3 0-2.3.4-4.1.2 1.5 1 2.3"/><path class="k105" d="M328.6 282l1.4-.6.4.3"/><path class="k106" d="M328 283.5l.4-.1.1 5.6.2-.4.3 1 .2-1.3.1.6.1-.9.2-.5 0-.9.3 3.3 0-4.9.1-2.1.1 0 .3 6.3.5-.3.1-6.1.1 5.1.3.4.1-3.1 0 4.7.3-6.2.1 6"/><path class="k107" d="M254.9 288.1l.5-2.4"/><path class="k108" d="M324.9 281.2l1-.3.2 1.5 0-.9"/><path class="k109" d="M332 288.6l.1-1.1 0-2.6 0 2.8.1-3.2 0 .5.1 1.7 0 3.2 0-1.3 0 0 .1-5.2 0 5.2.1-.9.1-3.1.1-.4.1 5.5 0-4.3.1 2.8 0-4.7.1-.6 0 7.1 0-.1"/><path class="k110" d="M276.6 288.5l1.3-3.5 1.8 4.1 3.5-2.6.4 3.5.8-2.9"/><path class="k111" d="M256.7 284.2l.3 5.6 3.3-5.8.1 4.7.2-.4.7-1.6 2.7-2.6.4 3.4.6-1.3.1-.8.5 1.7"/><path class="k112" d="M312.2 281.4h0"/><path class="k113" d="M321.2 282h0"/><path class="k114" d="M316.9 289.1l1.5-.8 1 1.4 1-1.7.4 1 .8-5.9.2 2 .5 3.9"/><path class="k115" d="M303.2 282.5l1.1-.4 2.7-.7 2.3-.3"/><path class="k116" d="M286 281.9l.5-.9 1.4 1.5 2.8-1.4"/><path class="k117" d="M296.1 281.9l1.3-1.2 1.5 1.5.8.3 2.3-1.3"/><path class="k118" d="M267.7 283.7l.1 2 2.4-2.2.3 6.4 1.6-5.6 3.7 3.5"/><path class="k119" d="M267.6 282.1l5.4-.3 2.7-.8"/><path class="k120" d="M309.8 285.6l.5-.1 2-1.3 1.8.4.3 2.2"/><path class="k121" d="M260.8 281l3.2.4"/><path class="k122" d="M364.4 280.2h0"/><path class="k124" d="M368.5 280.1h0"/><path class="k2" d="M367.8 272.8l1.8 6.7.3-7.3.1.7.2 5 0-3.9.6.1 2.3 1.1.7 3.3 0 1.1 1.2-5.7"/><path class="k4" d="M358.8 270.5h0"/><path class="k8" d="M350.5 270.6l.8-.4"/><path class="k9" d="M375.1 276.5l.6 2.6 1.3.1 1.2-1.6"/><path class="k10" d="M361 273.9l.1-.3.3 2.3.1 3.4.4-4.6.1 4.5.1-6.8.1-1.4.3 3.6.7-1.8.9 1.7.1-1 .1 1.6.3-.1 1.3.8.3 2.5.4.5.3-5.1.2.3"/><path class="k11" d="M353.9 277.5l.2-5.8.9 4.8.3-2.9.3 2.6.2-.9.2-2.6.3 6.7 1.2-6 .4 1.9"/><path class="k12" d="M342.4 279.7l.1-1.3.2-1.1 0 2.1.3-5 .6 4.4 0-7 .1 1.9.1-1.7.5 5.5 0-6.1.1 1.2.5 1.1.2-2.2.3 1.5.7.3.8 1.6.2-3.3.3 4.3"/><path class="k13" d="M347.8 271.4l.1 1.7.2 6.5.1-1.9.7-.1.5 1.7.3-4.4.6 2.5.1.2 0-3.1.8 2.7 1.4 2 .1.6.3-7 .1 1.5.1 2.3"/><path class="k15" d="M343.5 270.7l.4.2.5-.6.2.6.6-.2 0-.2 1.2.3"/><path class="k36" d="M342 275.9l.1-.6.2 2.1.1-4.8.1.7 0 .6.1-.2.1 3.2.4-1 .3 3.5.1-2.9 0-.7.3-1.5 0 4.5.6-.6.5 1.7 0-.1.3-.9.2-2 .1.3.2 2.3 0-2.2 1.5 1 .2 0"/><path class="k39" d="M348.5 277l1.2 2.1"/><path class="k40" d="M342.4 274.4l1.8 4.1.1-4.5.1 1.9 1.6.9.1 3.2"/><path class="k44" d="M341.7 279h0"/><path class="k47" d="M341.7 279.4h0"/><path class="k48" d="M347.6 274.6l.4 3.2.8 2 .2-.6"/><path class="k50" d="M343.5 279.3l4 .5 2.7-.8"/><path class="k58" d="M384.6 270.7h0"/><path class="k63" d="M392.8 280h0"/><path class="k67" d="M250.8 278.7l4-3"/><path class="k68" d="M277.9 271.4h0"/><path class="k87" d="M267.4 271.4h0"/><path class="k89" d="M264.8 277.5h0"/><path class="k92" d="M384.3 279.1l5.9.3"/><path class="k93" d="M395.3 278.7l2.1.3"/><path class="k94" d="M382.2 278.9h0"/><path class="k99" d="M276.2 279.8l1.5-.8.6-.7 2.5-2.8 1.3 3 1.1-2 .2-1.2.1 4.6.3-8.3.5 5.7.6-1.2.3 2.6"/><path class="k102" d="M332.4 277.6l.1-1.6.1-1.7.1 3.3 0-1.2.2 2.5.1-1.4"/><path class="k105" d="M327.8 271.5l.4 2.4.6-1.6.2-.5.9 4.1.3-5.9.4.1.2 5.3.2-4.6.3.4.3 8.3"/><path class="k108" d="M322.8 271.3l1.5 8.2.4-2 1.8 1.7"/><path class="k112" d="M311.7 272.9l.7 2.7.2-1.6.3-2.6.2 5.2.7-3.1.8 4.9.4-7.9.9 1.4"/><path class="k113" d="M318.7 270.8l.1 5.3 0-3 .6 2.7 1.1 1.2.2-2.8 1 5.1.2-2.7"/><path class="k115" d="M302.4 274.2l.3-1 2.1 6.3.7-7.1 1.7 7.1.1-1.9.6-5.8"/><path class="k116" d="M285.9 276.9l.4-5.5.2 1.8 2.3 5.2.8-4.3.5 2 2.7 3.1.2-8.6"/><path class="k117" d="M296.5 270.3l1.5 2.3 0 4.1 1.4 2.8 1.4-5.6 1-1.4.3 1.1"/><path class="k119" d="M266.6 279.8l1.3-1.3.2-3.3 3.3 3.5 1.3-1.1.8 0 .9 1.8"/><path class="k122" d="M360.9 278.5l1.4.7"/><path class="k123" d="M355.3 279.1l4.6.3"/><path class="k0" d="M360.4 264.9l.2.6.4-2.1 1.2-.5.6 5.1.3-5.6.3 2.3.1-1.2.2 3.7 2.9.5.1-4.3.7 4.1"/><path class="k4" d="M353.7 267.7l.1-6.2.1 4.4.4-5.7.3 2.6 1.1 2.2.2 4.1.2-2.4 1.4-6.5 1.5 8.6 0-4.9 1.2-1.4 0 .9"/><path class="k5" d="M368.4 262.8l2.5 5.6.2-5.5 1 .7.6 5.6"/><path class="k8" d="M347.6 269.4l.4-1.4.1-7.2.5 5.7.1.8.3 1.2.5-.5 1.4-2.3.2-2.9.4.5.8 2.3.6-1.6.2-4"/><path class="k15" d="M344 269.3l.3-1.9 0 .7.1-.7.4 0 0-1.6.2-1.9 0 2.8.6 1.2.1-5.1.1 4.6.3-.8 0-2.4.5-1.1.6 3.8"/><path class="k60" d="M381.9 267.3h0"/><path class="k86" d="M291.1 268.7l2.6 0"/><path class="k89" d="M264.8 267.9h0"/><path class="k99" d="M280.3 267.6l4.5-2.7"/><path class="k102" d="M332 268.8h0"/><path class="k105" d="M328.4 267.7l2.7 1.3"/><path class="k108" d="M323.1 268.8l.6-4.3 3.1 2.8.5 1.1"/><path class="k113" d="M317.7 270l3.3-4.3"/><path class="k115" d="M302.8 269.2l1.9-4.6 1.8 2.2 2.9-4.6"/><path class="k116" d="M289.2 269.4l.6-4.2"/><path class="k0" d="M360.9 258l.6-2.5.2.4.6.4.1 2 1.5-3.3.1-3.7.5 4.5.9-2.7 1.6-1"/><path class="k4" d="M353.8 256l.1-.3.2 2.5 1.1-7.5.2 4.8 0-4.4.2 2.2.3.3 0-2.7.4 1.5 1.5 1.3.3 2.8.3-3.9.7 7.3.2-1.7.6-3.8 0 5.1"/><path class="k5" d="M368.6 257.6l.5-5.6 1 3.2.8 3.8.1-6.4.1 6.8 1.6-6.4"/><path class="k8" d="M347.6 256.4l.2-1.5.2 1.5.3 3.5.1-5.1.7 4.2.3.1.1-3.2.3.3 1-5.7.9 3.9.5 4.6.4-2 0 1.3.4-1.6"/><path class="k15" d="M347.3 256.3l0 3.3"/><path class="k58" d="M383.2 259.8l2.6-3.4"/><path class="k71" d="M317.3 253.8h0"/><path class="k72" d="M303 257h0"/><path class="k87" d="M275.3 259.6h0"/><path class="k0" d="M360.6 242.2l1.4 4.4 1.6-2.6 1.1-3 .9 4.7.1 2.4.3-4.2.3 5.6.1-.9.7-7.5.1 2.5"/><path class="k4" d="M353.9 248.9l1.2-5 2 .5.4 3.7 1.7-1.1.3-5.3.7 6.8"/><path class="k5" d="M368.4 245.6l.4-2.8 2.1-.1.5.7.3-1.6.5 2.2 1.2.5"/><path class="k8" d="M350.9 246.2l2 .8.5-4.3"/><path class="k63" d="M396.7 240.5h0"/><path class="k0" d="M360.7 239.8l.3-1.5.5-.6.1-3.3.5 1.7 1.6.7"/><path class="k4" d="M356.1 235.9l2.1 3.2.2-4.9"/><path class="k5" d="M372 236h0"/><path class="k58" d="M387.7 233.2l2 4.2"/><path class="k60" d="M379.3 234h0"/><path class="k85" d="M351.4 237.1h0"/><path class="k58" d="M386.6 226.2h0"/><path class="k60" d="M378.8 222.6h0"/><path class="k61" d="M362.6 223.9h0"/><path class="k62" d="M368 226.5l3.9.8 2.3-6.2"/><path class="k85" d="M352.9 224.7h0"/><path class="k60" d="M376.2 213.3l.3-2.3"/><path class="k61" d="M365.7 219.5l.7-4.2"/><path class="k62" d="M368 215.3l3.1 3.5 3.1-2.4"/><path class="k85" d="M352.9 201.7h0"/><path class="k60" d="M377.3 199.8h0"/><path class="k125" d="M419.1 187.4h0"/></g><path d="M383 195.5L377.3 199.8M382 199.5L376.5 211M350 215L351.4 237.1M390 215.5L386.6 226.2M408 216L383.2 259.8M404 226.5L389.7 237.4M388 267L384.6 270.7M413 275.5L399.8 280.5M277.9 257.5L293.7 268.7M412.2 186.5L385.8 256.4M363 185.5L362.6 223.9M372 185.5L365.7 219.5M357 185.5L368 226.5M379 185.5L374.2 216.4" stroke="#000" stroke-width=".45" fill="none"/><g class="lb"><text x="361.6" y="185.5" text-anchor="middle">P04406</text><text x="367.9" y="185.5" text-anchor="middle">O75369</text><text x="374.3" y="185.5" text-anchor="middle">P67936</text><text x="380.6" y="185.5" text-anchor="middle">P14618</text><text x="367.8" y="185.7" text-anchor="middle">Q9Y490</text><text x="374.2" y="185.4" text-anchor="middle">Q9UBF2</text><text x="419.9" y="187.1" text-anchor="middle">Q9H4A4</text><text x="420.7" y="191.7" text-anchor="middle">Q9H5X1</text><text x="385.8" y="194.4" text-anchor="middle">Q9BV40</text><text x="385" y="198.3" text-anchor="middle">O15061</text><text x="352.5" y="199.8" text-anchor="middle">P98160</text><text x="367.2" y="200.6" text-anchor="middle">Q12765</text><text x="371.1" y="205.2" text-anchor="middle">Q9Y2Z2</text><text x="380.4" y="209.9" text-anchor="middle">Q8WUJ3</text><text x="362.6" y="211.4" text-anchor="middle">O15511</text><text x="348.6" y="214.2" text-anchor="middle">P36871</text><text x="393.6" y="214.5" text-anchor="middle">Q17RW2</text><text x="413.7" y="215.3" text-anchor="middle">Q9P2E9</text><text x="352.5" y="221.2" text-anchor="middle">O60493</text><text x="375" y="225.9" text-anchor="middle">Q9NTJ3</text><text x="408.3" y="225.9" text-anchor="middle">Q13011</text><text x="393.6" y="230.8" text-anchor="middle">Q8NBS9</text><text x="402.1" y="238.9" text-anchor="middle">Q9BVP2</text><text x="391.2" y="255.2" text-anchor="middle">P07686</text><text x="391.2" y="266.2" text-anchor="middle">Q9P2J5</text><text x="419.1" y="275" text-anchor="middle">Q13308</text><text x="402.1" y="278.6" text-anchor="middle">Q8N0X4</text><text x="270" y="258.2" text-anchor="middle">Q96I24</text><text x="296.3" y="255.6" text-anchor="middle">P04075</text><text x="316.5" y="251.5" text-anchor="middle">P02304</text><text x="310.3" y="256.8" text-anchor="middle">P00558</text><text x="279.7" y="263.4" text-anchor="middle">O60701</text><text x="258.7" y="265.5" text-anchor="middle">P97195</text><text x="272.7" y="269.9" text-anchor="middle">P40121</text><text x="286.7" y="267.8" text-anchor="middle">Q9P258</text><text x="253.4" y="272.6" text-anchor="middle">P08758</text><text x="248.1" y="277.5" text-anchor="middle">P06733</text><text x="269.2" y="276.1" text-anchor="middle">P12429</text><text x="281.4" y="274.3" text-anchor="middle">O75083</text><text x="271.8" y="281" text-anchor="middle">P04406</text><text x="257.8" y="284.8" text-anchor="middle">P40925</text><text x="255.2" y="292.2" text-anchor="middle">Q96C86</text><text x="250.8" y="297.1" text-anchor="middle">Q9NZ45</text></g><rect x="242" y="182.4" width="185.5" height="123.1" fill="none" stroke="#d6d6d6" stroke-width="1.3"/><path d="M264.4 306.1v1.1M299.9 306.1v1.1M335.4 306.1v1.1M370.9 306.1v1.1M406.4 306.1v1.1M241.4 300.4h-1.1M241.4 269.4h-1.1M241.4 238.4h-1.1M241.4 207.4h-1.1" stroke="#333" stroke-width=".5"/><g class="tl"><text x="264.4" y="309.8" text-anchor="middle">-10</text><text x="299.9" y="309.8" text-anchor="middle">-5</text><text x="335.4" y="309.8" text-anchor="middle">0</text><text x="370.9" y="309.8" text-anchor="middle">5</text><text x="406.4" y="309.8" text-anchor="middle">10</text><text x="239.8" y="301.4" text-anchor="end">0</text><text x="239.8" y="270.4" text-anchor="end">5</text><text x="239.8" y="239.4" text-anchor="end">10</text><text x="239.8" y="208.4" text-anchor="end">15</text></g><text class="at" x="334.8" y="313.4" text-anchor="middle">log2(FC)</text><text class="at" transform="translate(235.8 243.9) rotate(-90)" text-anchor="middle">-log10(p-value)</text><defs><linearGradient id="g4" x1="0" y1="0" x2="0" y2="1"><stop offset="0.0" stop-color="#ff0301"/><stop offset="0.1" stop-color="#fa4d2f"/><stop offset="0.2" stop-color="#f37052"/><stop offset="0.3" stop-color="#e88c75"/><stop offset="0.4" stop-color="#d7a598"/><stop offset="0.5" stop-color="#c0bdbc"/><stop offset="0.6" stop-color="#b1a0cc"/><stop offset="0.7" stop-color="#9f80d9"/><stop offset="0.8" stop-color="#8860e6"/><stop offset="0.9" stop-color="#663ef2"/><stop offset="1.0" stop-color="#210dfe"/></linearGradient></defs><rect x="432.3" y="233.2" width="5.8" height="26.5" fill="url(#g4)"/><text class="lg" x="432.3" y="231.6">FoldChange</text><g class="ll"><text x="439.5" y="236.6">10</text><text x="439.5" y="242.2">5</text><text x="439.5" y="247.8">0</text><text x="439.5" y="253.4">-5</text><text x="439.5" y="259">-10</text></g><defs><clipPath id="c5"><rect x="473.6" y="182.4" width="185.9" height="122.2"/></clipPath></defs><text class="ttl" transform="translate(563.8 172.5) scale(1 1.06)" text-anchor="middle">K026</text><path d="M485.3 182.4V304.6M516.7 182.4V304.6M548.1 182.4V304.6M579.5 182.4V304.6M610.9 182.4V304.6M642.3 182.4V304.6M473.6 285.2H659.5M473.6 258.8H659.5M473.6 232.2H659.5M473.6 205.8H659.5" stroke="#f5f5f5" stroke-width=".55" fill="none"/><path d="M501 182.4V304.6M532.4 182.4V304.6M563.8 182.4V304.6M595.2 182.4V304.6M626.6 182.4V304.6M658 182.4V304.6M473.6 298.5H659.5M473.6 272H659.5M473.6 245.5H659.5M473.6 219H659.5M473.6 192.5H659.5" stroke="#ebebeb" stroke-width=".6" fill="none"/><path d="M557.5 182.4V304.6M570.1 182.4V304.6M473.6 293.6H659.5" stroke="#a8a8a8" stroke-width=".8" fill="none"/><g clip-path="url(#c5)"><path d="M498 298.4 562.3 298.8 569.3 297 580.2 294.2 591 292.6 605 292 619 291.8 619 290.6 605 290.4 595 290 585 288.5 576 285 571 285 567 290 564 295.5 562.2 297 560 295 555 293.8 540 293.6 525 293.8 510 294.3 498 295.5Z" fill="#111"/><path class="dt" d="M479.1 297.7h0m.3-1.9h0m.8.3h0m1.1.5h0m2.5 1.1h0m1.5-.1h0m2.2 1.3h0m3.8-.1h0m.6-1.5h0m.5-1.6h0m5.6.1h0m4.8-.2h0m.3.5h0m.4 1.3h0m0-2h0m1.4 1.6h0m1-2h0m.2 1.1h0m.8 1.2h0m.4-2h0m.5 2.1h0m.2-2.2h0m.8.4h0m.1-.2h0m.9.8h0m1.5-1.2h0m.3 2.3h0m1.5-2.3h0m.2-.8h0m.5 2.2h0m1.5.5h0m1.8-1.9h0m.1-.7h0m.3.4h0m.1 1.3h0m1.2 1.3h0m.2.6h0m1.1-1.1h0m1.9-2.7h0m.2.5h0m.5 3.3h0m.8-2.8h0m1.2-.9h0m.1 3.2h0m.6-2h0m.3 0h0m.9-.5h0m.7 1.4h0m2.4-2.2h0m1 .4h0m.4 3.1h0m1.6-2.1h0m1.1 1.9h0m.8-3.1h0m.2-.9h0m.2-.4h0m.8 1.5h0m1.2 1.3h0m.8-1.3h0m.2-.4h0m.2 2.4h0m1.4-3.2h0m0 .5h0m.1.2h0m0 .3h0m1.1 3.3h0m0-3.7h0m.6 2.4h0m.8-2.2h0m.1.3h0m.2-1.3h0m.3 3.3h0m1.6-.4h0m.1.4h0m.1-3.9h0m.9.1h0m.5 1.3h0m0 3.5h0m.7-3.3h0m.2 1h0m1.7 2.2h0m.1-2.1h0m2.2 2.7h0m1.4-1h0m.5-.3h0m.2-2.3h0m.1-.7h0m0 4.1h0m.8-2.6h0m1-.7h0m1.4-1.1h0m.9 2.7h0m.3 2h0m.6-2.7h0m0 .4h0m.3-1.7h0m.3 1h0m.7 2.5h0m1.1-1.5h0m.1-2h0m58.5-2.7h0m.3-.5h0m7.6.3h0m2.6-.4h0m.1.4h0m.6-.7h0m1.4.5h0m.2.8h0m3.3-1.3h0m.3 1.2h0"/><path class="k18" d="M505 291.8l5.6-.3.2.5"/><path class="k19" d="M529.9 291.6l.5-.9 2.4-.2 1.1.4.2-.2.7.3"/><path class="k21" d="M524.7 291l1.4 1"/><path class="k23" d="M557.2 290.2h0"/><path class="k25" d="M547.7 290.7l2.6.5"/><path class="k28" d="M556.3 290.7l.8.7 1.2-.5.9 1.1"/><path class="k29" d="M551.1 291.9l.1-1.4 2-.3.7 1.4"/><path class="k30" d="M512.4 290.4l4.3 1.5 1.1-.8.8-.8.1.6 1-.4 1.2.9"/><path class="k32" d="M537.4 292l5.8-1"/><path class="k34" d="M499.7 291.1h0"/><path class="k64" d="M650.7 291.3h0"/><path class="k68" d="M510 291h0"/><path class="k71" d="M545 290.5h0"/><path class="k76" d="M560.7 291.9h0"/><path class="k83" d="M633.6 291.3h0"/><path class="k84" d="M640 291.3h0"/><path class="k89" d="M486.8 292h0"/><path class="k2" d="M597.6 288.1l0-1.8.5.6.2-6.1.2 4.5.1-5.1.1 4.4.2.3.4 2 .4-6.8.2 1 .4 5.7.1-3.2 1.2 3.8 0-2.7 1 .4 1 1 .1-4 .5.4"/><path class="k9" d="M604.8 287.3l.4-1.4.3-1.5 1.1-.5 1.1 1.3.2.6.3 2.5 2.6-1.6.4 1.2"/><path class="k10" d="M589.7 280.5l0 2.2.1 2.7 0 .6.5-3.1.1 3.4.2-.2 1.1-1.6.2-2 .1-1.2.4 5.5 0-.9.5.8.3-2.6.1.8.1-3.3.2 6.4.1-.3 0-2.2.2.8 1.4-4.4.2 5 .2-3.7.4 3 0 .8.1 1.1"/><path class="k11" d="M582.7 288.4l.2-2.7 0 .6.2-5.9 0 3.8.3 3.6.2-6.9 0 .7.3-.3.3 7.1.8-7.9.8 8 .2-2 .7.9.1.9.2-5 .2 3.9.8-1.2 1.3.4.2-2.8"/><path class="k12" d="M570.5 286.4l0 1.6.1-2 0-.2 0-.1.2.3 0 1.5 0-1.3.1-1.9 0 1.2.1 2 .1-4 .1 2.2 0-3.1.1 4.8 0-.6 0-4.7.1 2.9 0 1.3 0-2.9.1 1.7 0-.6 0-.2.1-3.1.2 5.2 0-.7 0-.3.1-1 0-2.1.1-1 .1 1.1 0 .7.1 3.9.2-2.3.2 3.4 0-3 .1-2.5 0 1.1.2 4.3.2-5.7 0 4.1 0 1.4.1-3.4.2 2.8.4.1.6-3.9.1 2.8.1-5.4.3.4.1 0 .4 1.2.2-.3 0-1.6.1.5.2 1.5 0-1.2 0 2.2.1 4.6"/><path class="k13" d="M576.6 285.6l0-4.1.1 4.8.2.4.1-3.8.1-2.9.1 6.6.1-2.6.8-.4.3-1.7 0 2.8.7 1.3.4-3.5.3-.2.4 4 .1 1.2.3-5.4.6 1.5.1-1.2.1-.3.3 4.8.2-6.5 0 5.8"/><path class="k17" d="M548.3 290l.8-.5 1.2-1.2"/><path class="k20" d="M543.4 286.7h0"/><path class="k24" d="M550.6 289l4.8.3"/><path class="k35" d="M533.2 289.8h0"/><path class="k36" d="M570.7 288.2l.1-2.2.1 1.1.1 1.3 0-1 .1-1.6 0-.8.1 3.4.2-3.8 0 4.6.1-5.3.1 2.4.1-.5.1.3.2.3 0-1 .3 3.9 0-1.6.2-6.4.2 3.2 0 2.9.1-5.1.1 4.3 0 2.4 0-3.6.1-1.4.1-3.1.2 6.7.3-6.6.3 8 .2-1.4.4-.5.2-3.9"/><path class="k37" d="M583.6 280.4l1 8.8 1.3-2.4.5-6.5.1 6.6.2.9.4-5.6.3 6 .4-5.8.7 2.2.3 4.7"/><path class="k38" d="M597 281.9l.8 7.9.9-7.2.6-.5.2 3.4.6.1.7 1.7 1 1.5 0-6.6.2 6.3.1-5.6.3.3"/><path class="k39" d="M577.1 280.9l.2 5.3.2 2.9.2-3.7.1-4.4.4-.3.4 4.3.2 1.6.1-3.5.6 3.1.8-3.5.2 3.8.5-5 .3 3.5.3 2.8 0 2.1.2-7.9.2 8 .3-1.5"/><path class="k40" d="M570.9 287.5l.2-2.7 0 3.1.2-3.4.8 3.6.4 1.8.2-4.6 1.2.4.2 2.3 0-1.3.1-3.9.3 5.7.5-7 .6 2.1.2-1.2.2.1"/><path class="k41" d="M589.9 284l2.1.4.5 4.1.2.7 3.1-1.4 1-3.6"/><path class="k42" d="M601 285.5l1.8-2.6"/><path class="k43" d="M590.5 284.1l2.2-3.9.2 4.3.1-4.4.8 3.1.1 2.7.5 2.9 0-2.6.3 2.7.7-4.6.4.7.3-1.7"/><path class="k45" d="M583.2 281.6l3.4.3 1.3 5.2 0-1"/><path class="k46" d="M606.4 287.5l.1.1.1 1 .1-3 .9 2.6 1.7 1"/><path class="k47" d="M570.3 289.8h0"/><path class="k48" d="M576.4 286.8l.6 2.4.3-7.2 1.8 5.5.9-5.1.4 7 .3-2.7.8-6.3"/><path class="k50" d="M591.2 288.2l2.3.6 7.6-3"/><path class="k63" d="M625.6 281.6h0"/><path class="k69" d="M521.8 286.6l4.4-1.3"/><path class="k72" d="M533.2 283.6h0"/><path class="k74" d="M570.2 288.1h0"/><path class="k77" d="M605.7 288.5l.6.4 5.3.8"/><path class="k2" d="M597.1 276.7l.4-.8.1-1.5.1 4.1 0 .7.4.7 2.4-.7"/><path class="k10" d="M590.6 276l.4-4.2 0 6.8.5-4.5.1 2.2.1-.2.2-1 .1 4.4.9-7.7.3 3.6 0-1.9.3 2.3.3 3.9.1-6.5.1.9.3 2.6.1 2.5.2-3.4.2 3.9.4-1.8.3-6.9.1-.6 0 5.8.3 3.1.5-3"/><path class="k11" d="M582.9 276.4l0-.5.1-3.4 0 6.4.4-5.9.1-1.4.2 3.5.7 1.1.4 3.3.1-.2.1-8 .7 1.8.1 1 .1.5.2.4.1 3 .4-5.8 0 6.8.4-4.6.5 3.3.1-.3.3-2.8.6 3.7.2-6.9.4 1.5.4-2.4 0 6.6"/><path class="k12" d="M571.9 279.1l0 .8 0-1 .1-.5 0-.2.1-.2 0 .6.1-1.4 0 .6.1-1 .1.5.2-1.7 0 1 .3-2.3 0 5 .1-2 0-.1.2 2 0-5.8.1 2.1.1-1.6 0 .7 0-2.6.1 4.5.1-.3.1 2.3.4-7.8 0 1.1.1-.6.1 4.3 0 2.9.1-.2 0 .9 0-8.6.1 3.3 0 2.6.1-.5.1 2.5.1-4.5.1-2 .1 1.5.1 2.2.1-4 0-1.3.2 3.4.1-2 .1 3.3.1.3.1 4.1.3-2 0-.1.1-4.4"/><path class="k13" d="M576.2 270.3l.1 7.6.1-6.4.5 6.6.4-4.6 0 4.6 0-1.7.2-1.3.2-2.8.1 5 0-2.5.1 3.8 0-5.4.7 5.2.2-7.2.2 5.2.1-2.5.2-3.8.2 6.2.1-4.1.8 4.2.7.4.3 2.3.5-7.5.1 4.1 0-5 .6 4.5"/><path class="k36" d="M571.8 279.7l.1-.7.7-3 .2-1.7.1 5.4 0-.9.3-4.3.1 3.3.1-4.8.1-.9 0 6.3.3-1.4.3-2.2.7-4.6.1 5.4.7-1.7.1-2 .4 3.9"/><path class="k37" d="M583.4 270.3l.4 6.6.7-2.5.9 0 .6-1.3 1.5.7 1.9-1.2 0 1.3"/><path class="k39" d="M577.4 275.3l.1 3.6.4-3.6.3-.4 2.1-1.6 1-1.2.3 3.5.3 1.2"/><path class="k40" d="M572.2 277.5l.2-1.4.3-1.4.9-.2.3-1.3.2-.1.7 4.4 0-5.7.1 0 .3 5.3.5-3.1"/><path class="k41" d="M593.4 277.5h0"/><path class="k42" d="M598 279.7h0"/><path class="k43" d="M589.9 278.7l.1-4.2 1-.5.3 1.8.7 4 2.4-1.2"/><path class="k45" d="M582.9 274l.9-2.4.3-.7 3.3.6.7.2"/><path class="k48" d="M576.2 275.3l.1-.2 2.9 4.6.4-3.6.4.6.1.5 1.8-.7"/><path class="k50" d="M572.9 278.5l6.6.5 9.5-4.9"/><path class="k60" d="M605 274.6h0"/><path class="k62" d="M601.9 273.5h0"/><path class="k63" d="M625.9 271.9h0"/><path class="k0" d="M591 266l.8-3.6 1.7-1.8 0 6.1.2-4 1.7.4 1.2 4.6"/><path class="k4" d="M583 264.1l.2-1.8.4 4.5.6-5.1 0 6.4.4-2.5.2-4.7.6-.1.4 0 .5-.2.1 3 1.4.3.2-3.5.7 2 .4 5.7.1-2.1.2.5"/><path class="k8" d="M576.2 265.8l.2-1 .1-2.4.2-1.2.1 0 .3 5.9.4-4.4.7.3.3-.7.2-.7.6.2.2 5.2 0-5.3.7 3.5 0 3 .5-1.4.2 0 .4-1.6.2 2 0-6.3.5.1.5 6.3.1-.7"/><path class="k10" d="M590 269l6.6.3"/><path class="k11" d="M586.7 269.4l.6-.2"/><path class="k12" d="M574.2 269.1l0-.2.1.5 0-.9.2.9.2-.8 0 .2 1.1 1"/><path class="k13" d="M577.7 270l.6-.2 3.9-.3"/><path class="k15" d="M575 266.1l.1-.6.2-1.1.2.6.1 2.3.2-3.7 0 0 0 3.3 0-3.9.2 4.3.1-4.1 0-.3"/><path class="k36" d="M573.7 269.3l.3-1.3.7-1.5.1-1 0 .2.1-1 .1-.6 0 5.4.2-5.7"/><path class="k37" d="M584.9 268.2h0"/><path class="k39" d="M576.5 267.9l.5-.1.6-4.5.5-.9.7 2.4.3 4.3.1-3.4 2.3 2.1 1 1.3.1-1.2"/><path class="k40" d="M573.9 269.2l.1-.8.2.8 1-1.4.2-5.2.5-.4"/><path class="k45" d="M584.8 268.8h0"/><path class="k48" d="M579.4 268.3l1.7-.4"/><path class="k50" d="M576.4 264.9h0"/><path class="k58" d="M615.5 266.2l3.4.9"/><path class="k60" d="M608.1 261.9l.4 7.7"/><path class="k0" d="M589.8 250.2l.4 6.1.1 3.2.6-3.3.1 2.3.4-5.5.1.3.1 2.3 1.6 1.5 1.4-5.4 1.4 3.6"/><path class="k4" d="M582.7 252.4l.1 4.2.4-.9.1 3.6.1-3.2.3 3 .9-1.8 0-1.2 0-4.8.1 6 0 2.3.6-8.2.4 1.1.7 1.9.9 2.4.8-6.2 1.4 5.3"/><path class="k5" d="M597.5 252.2h0"/><path class="k8" d="M577.1 259.4l.1-.3.2.9.6-.9.8-2 .2-2.6.1 3.6.2-2.6.2-1.3.2 5.1.2-3.3.2 3.1.1-7.8 0 2.5 0-.3.1 1.2.1-1.9.7 2.8 0-5.6.2 2.5.8 2.5"/><path class="k85" d="M579.4 256h0"/><path class="k0" d="M589.9 242.2l.6-.7.9 6.5 4.6 1.2.7-3.8"/><path class="k4" d="M582.9 247.4l.6-.6.1.7.3 1.9.6-2.1 0-2.5 0-1.2.2 2.9 1.2.3 0-3.8.8 6.9 1.2-6.5"/><path class="k5" d="M598.6 243.2h0"/><path class="k8" d="M581 249.8h0"/><path class="k85" d="M579.4 242h0"/><path class="k126" d="M626.7 240.9h0"/><path class="k0" d="M594.7 234.6l1.1 4.7"/><path class="k4" d="M587.8 239.2l1-1.4.3-.8"/><path class="k58" d="M613.2 237.4l4.6 2"/><path class="k60" d="M607.8 231.6h0"/><path class="k85" d="M579.4 235l0 1.6"/><path class="k60" d="M610.4 225l1.2 3.8"/><path class="k61" d="M593 225h0"/><path class="k62" d="M598 226.2l3.9-.8.3-4.8"/><path class="k85" d="M579.4 223.4h0"/><path class="k62" d="M599.2 212.6h0"/><path class="k85" d="M579.4 218h0"/><path class="k60" d="M608.8 204l1.6-2.3"/><path class="k85" d="M578.6 187h0"/></g><path d="M630 233.5L626.7 240.9M628 254L615.5 266.2M621 263.5L618.9 267.1M636 278L625.6 281.6M527 281.5L533.2 283.6M584 184.5L579.4 223.4M583 184.5L579.4 242M600 184.5L593 225M603 184.5L598 226.2M606 184.5L601.9 225.4M612 184.5L610.4 225M640 184.5L611.6 228.8M645 184.5L613.2 237.4M634 201L617.8 239.4M610 189L599.2 212.6" stroke="#000" stroke-width=".45" fill="none"/><g class="lb"><text x="574.7" y="185.3" text-anchor="middle">P07437</text><text x="585.7" y="185.3" text-anchor="middle">P14618</text><text x="596.7" y="185.3" text-anchor="middle">P04114</text><text x="607.7" y="185.3" text-anchor="middle">P21333</text><text x="618.8" y="185.3" text-anchor="middle">Q01082</text><text x="629.8" y="185.3" text-anchor="middle">P18206</text><text x="640.8" y="185.3" text-anchor="middle">P04406</text><text x="651.8" y="185.3" text-anchor="middle">Q8WWI4</text><text x="609.4" y="185.3" text-anchor="middle">P06733</text><text x="618.6" y="185.1" text-anchor="middle">P09493</text><text x="627.4" y="185.2" text-anchor="middle">P07437</text><text x="636.4" y="185.1" text-anchor="middle">P09493</text><text x="582.5" y="216.9" text-anchor="middle">A0A1L5</text><text x="612.7" y="190.5" text-anchor="middle">Q9Y6N1</text><text x="611.9" y="194.4" text-anchor="middle">P09972</text><text x="613.5" y="197.5" text-anchor="middle">Q9BX68</text><text x="611.2" y="200.6" text-anchor="middle">Q9NQ48</text><text x="621.2" y="202.9" text-anchor="middle">P22392</text><text x="601.1" y="204.1" text-anchor="middle">Q9H4M7</text><text x="637.5" y="200.6" text-anchor="middle">P08176</text><text x="633.6" y="232.4" text-anchor="middle">Q9P0S3</text><text x="632.9" y="253.3" text-anchor="middle">P51576</text><text x="610.4" y="259.5" text-anchor="middle">P54886</text><text x="625.9" y="262.6" text-anchor="middle">Q9VN02</text><text x="630.5" y="269.9" text-anchor="middle">Q9DL81</text><text x="643" y="277.6" text-anchor="middle">O95994</text><text x="651.5" y="292.1" text-anchor="middle">Q9BXX3</text><text x="520.1" y="281.3" text-anchor="middle">P09486</text><text x="479.8" y="296.7" text-anchor="middle">P02511</text></g><rect x="473.6" y="182.4" width="185.9" height="122.2" fill="none" stroke="#d6d6d6" stroke-width="1.3"/><path d="M501 305.2v1.1M532.4 305.2v1.1M563.8 305.2v1.1M595.2 305.2v1.1M626.6 305.2v1.1M658 305.2v1.1M473 298.5h-1.1M473 272h-1.1M473 245.5h-1.1M473 219h-1.1M473 192.5h-1.1" stroke="#333" stroke-width=".5"/><g class="tl"><text x="501" y="308.9" text-anchor="middle">-10</text><text x="532.4" y="308.9" text-anchor="middle">-5</text><text x="563.8" y="308.9" text-anchor="middle">0</text><text x="595.2" y="308.9" text-anchor="middle">5</text><text x="626.6" y="308.9" text-anchor="middle">10</text><text x="658" y="308.9" text-anchor="middle">15</text><text x="471.4" y="299.5" text-anchor="end">0</text><text x="471.4" y="273" text-anchor="end">5</text><text x="471.4" y="246.5" text-anchor="end">10</text><text x="471.4" y="220" text-anchor="end">15</text><text x="471.4" y="193.5" text-anchor="end">20</text></g><text class="at" x="566.5" y="312.5" text-anchor="middle">log2(FC)</text><text class="at" transform="translate(467.4 243.5) rotate(-90)" text-anchor="middle">-log10(p-value)</text><defs><linearGradient id="g5" x1="0" y1="0" x2="0" y2="1"><stop offset="0.0" stop-color="#ff0200"/><stop offset="0.1" stop-color="#fb4b2d"/><stop offset="0.2" stop-color="#f46c4e"/><stop offset="0.3" stop-color="#ea876e"/><stop offset="0.4" stop-color="#dc9f8f"/><stop offset="0.5" stop-color="#c8b6b1"/><stop offset="0.6" stop-color="#b6abc7"/><stop offset="0.7" stop-color="#a78dd4"/><stop offset="0.8" stop-color="#946fe0"/><stop offset="0.9" stop-color="#7a50ec"/><stop offset="1.0" stop-color="#522df7"/></linearGradient></defs><rect x="664.2" y="232.2" width="5.8" height="26.8" fill="url(#g5)"/><text class="lg" x="664.2" y="230.6">FoldChange</text><g class="ll"><text x="671.4" y="237.5">10</text><text x="671.4" y="242.6">5</text><text x="671.4" y="247.8">0</text><text x="671.4" y="252.9">-5</text><text x="671.4" y="258.1">-10</text></g><defs><clipPath id="c6"><rect x="10" y="341.5" width="185.5" height="121.9"/></clipPath></defs><text class="ttl" transform="translate(105.2 332.3) scale(1 1.06)" text-anchor="middle">K061</text><path d="M17.1 341.5V463.4M52.1 341.5V463.4M87.1 341.5V463.4M122.1 341.5V463.4M157.1 341.5V463.4M192.1 341.5V463.4M10 446H195.5M10 422.7H195.5M10 399.4H195.5M10 376.1H195.5M10 352.8H195.5" stroke="#f5f5f5" stroke-width=".55" fill="none"/><path d="M34.6 341.5V463.4M69.6 341.5V463.4M104.6 341.5V463.4M139.6 341.5V463.4M174.6 341.5V463.4M10 457.6H195.5M10 434.3H195.5M10 411H195.5M10 387.7H195.5M10 364.4H195.5" stroke="#ebebeb" stroke-width=".6" fill="none"/><path d="M97.6 341.5V463.4M111.6 341.5V463.4M10 453.6H195.5" stroke="#a8a8a8" stroke-width=".8" fill="none"/><g clip-path="url(#c6)"><path d="M30 458 104 458 112.1 456 126 453.3 138.4 451.8 169.4 451.7 169.4 450.5 150 450.4 138 450.3 126 450.5 116 452 111 453 108 454.5 105.5 456 104 456.5 102 455 99 452.3 90 452 80 452.4 60 453.6 40 454.7 30 456Z" fill="#111"/><path class="dt" d="M15.3 456.1h0m1.4-1.9h0m.6-2h0m.8 2h0m3.1.9h0m.7-.1h0m0-2.4h0m1.8 3.2h0m3.8-1.4h0m.2.9h0m2.5 1.8h0m2.6-1.4h0m1.7 1.7h0m.8-.5h0m.1-1.1h0m.9-.3h0m1.3 1.3h0m.2-1.2h0m.2 1.4h0m1.6-.8h0m1.7-.5h0m0 .8h0m1 .3h0m.8.6h0m.2-.4h0m.3-1.7h0m.1-.2h0m1.4 1.7h0m0-1h0m0 1.6h0m.6-.1h0m1.9-2.3h0m1.2-.7h0m.9 1.5h0m.4-.4h0m.3-.3h0m.7.4h0m1.7.9h0m.8 0h0m1.2-.5h0m.3-1.9h0m1.7 2.3h0m.6.5h0m1.5-3.2h0m.8 2.1h0m2.6-1.6h0m1 .3h0m.7-1.4h0m.6 2.4h0m.7-1.4h0m.5 2.6h0m1.4-1.7h0m.5-.5h0m.4.5h0m.8.9h0m1.2-.6h0m.1.9h0m.1.6h0m2-3.9h0m0 2.9h0m.3-2.9h0m.7 3.1h0m.2-2.4h0m1.3 2.4h0m.3-3.2h0m.6-.3h0m.1 4h0m1.2.2h0m.1-3.7h0m1.2-.4h0m.8 4h0m0-3.5h0m.3 3.4h0m.6-1.7h0m1.3-.7h0m.1-2.2h0m1-.2h0m1.2 2.6h0m.1.3h0m2-1.8h0m1.1 2.4h0m.1-3.8h0m.5 0h0m.6 1.2h0m.2 2.8h0m.9-1.9h0m1.7 2.4h0m.4-2.7h0m.5-.1h0m1.3.6h0m2.3 1h0m.4-2h0m.4.7h0m.6-.5h0m.3 3.3h0m3.5-3.6h0m.4 3.1h0m.1-.5h0m.2-.3h0m1.2.4h0m68.1-4.7h0m.6.6h0m3.5-.4h0m3.8-.1h0m0 .2h0m1.9.1h0m1.1.4h0m1.3-.8h0"/><path class="k18" d="M51.4 450.5l2.6-.3"/><path class="k19" d="M71.8 450.4l.4 0 0 .8 1.6.8.7-.1 3.7-.9.2-.8"/><path class="k20" d="M83.7 450.1h0"/><path class="k21" d="M63.8 451l3.6-.2.4.1 1.2-.2"/><path class="k25" d="M87.3 451.5l.8.1 1.7.2 1.8-1"/><path class="k29" d="M94.6 451.5l1.5-.3.8.2"/><path class="k30" d="M54.5 450.9l2.1-.1 5.4-.6"/><path class="k32" d="M79.8 450.4l.1 1.4.7-1.2 2.1.3 1.4-.5.6 1"/><path class="k34" d="M38 451.5l6.1-.7.2.4"/><path class="k64" d="M186.5 451.3h0"/><path class="k84" d="M180.3 451.3h0"/><path class="k87" d="M39.9 450.6h0"/><path class="k89" d="M28.9 451.2l5.3-.6"/><path class="k1" d="M153.9 445l.9-2.7.3 5.4.5-5.7.5.3.6 1 .5-2.7 0 7.3.8-1.6.4-3.8.9 2.3"/><path class="k2" d="M136.9 440.5l1.5.9.5 1.3.3 3.4.7 2.1 1.4-4.6.1.2.9.5 1.1-4.2"/><path class="k7" d="M169.7 446.6l.2-1.5.2 2.2 2.4-4.7"/><path class="k9" d="M144.7 443.5l.3-3 .4-.3.5 3.7.6-.3.8 2.5.4-3.3.1 4.6.6-3.8.2-3.4.9 2.2.7-1.8.4 6.4.6-3.4"/><path class="k10" d="M129.8 440.5l.1 4.9.1-.6.1-1.6.3-2.5.1-.7 2.9.9.8-.6.2 6 .8.4 0-.5.6-1 0-2.6"/><path class="k11" d="M123.7 443.6l0 1.7.3 2.4.2-5.1.2-.7 0 6.4.1-3.8.1-1.5.4.1.1 2.1.2 3 .5-4 1.3-3.9"/><path class="k12" d="M111.7 446.3l.4-3.3.2 1.2.4 4.1 0-7.8.4-.4.3 1 1 3.6.5 2.6.9-6.1.6 4"/><path class="k13" d="M117.4 442.7l.4-1.2.1 6.3.9-4.3 0 4.5.2-5.4.6.8 0-1 0 4.6.6.1.4-3.6.3 4 .4-6.4.3-.6.2 3.1.7.6.2.9"/><path class="k14" d="M160.5 446.4l.2-1.4.2 3.2.5 0 1.4-7.3.2 2.7.8 4.5.5-6.4 1.5 3.7 1.2-3.1.9 5.7"/><path class="k16" d="M54.5 449.8l.2-2.2.1 1.9 3.6 0 3.2-.9 1.4.5"/><path class="k17" d="M88.6 449.8l0-3.5.1 3.2 1.5-2.1.3.5 0 1.6"/><path class="k20" d="M82 448.6l.6.8 2.6-1"/><path class="k23" d="M100.3 447.7l.6 2"/><path class="k24" d="M92.2 446.9l1.6.9 1.5-2.9.8 3.5.4-3"/><path class="k31" d="M63.8 449.7l5.2-.3 1.8-2.6"/><path class="k33" d="M48.2 449.2l3.5.6.9-.8"/><path class="k35" d="M75.1 448.8l.1-1.2 3.1-.5.1.9"/><path class="k36" d="M111.6 445.3l.1 2.1 0-3.1 0 1.9.1.9.1-3.6 0 2.4.2-4.1 0-.8 0-.2.1.7.3 3.5.1-2.7.2 3.3.2 2.5.1-7.1.3 3.1.2-2 .2 4 .2-3.8.3-2.3 0 8.8.2.6 0-8.7.6-.5 0 9.5.4-9.2 0 9.1.6-.2.1-7.4.1 7.4 0-9 .1 6.7"/><path class="k37" d="M124.3 444.1l.3-.5.2 4 .1.5.4-5.4 0 3.2.6-1.7 1.7-.2.1-1.8.6-.9.7 1.3"/><path class="k38" d="M138.3 446.2l1.1-2.8 2.8.8 1.6 2.2"/><path class="k39" d="M116.8 445.7l.3 3.7.4-6.1.1 6.2.1-3.9.6-2.5.6 5.7.1-1.3.3-2.8.2-4.5 1 4.7 0-3.6 1 2.7.2 5 0-.6.5-5.5"/><path class="k40" d="M111.6 445.9l.2-1.6.1.5.4-2.4.7 6.8.9-8.7.5 5.9 2.2-2.4"/><path class="k41" d="M130.4 445.6l2.5-4.2.1.9 1.2 1.3.3 3.2 0-.7.2-2.8 1.4 4.6"/><path class="k42" d="M138 447.9h0"/><path class="k43" d="M130.1 444.1l1 5.2.4-1.1.1-7.4 1.3-.2.2 4.2.2-1.3.2-.4.8 1.9.3-3.9.8 4.9.7-5.1"/><path class="k45" d="M123.6 444.2l.1 4.3.3-3.4 0 4.7 1.1-.3 1.1-7.5.2 2.1.7.2.5 5.5.1-.2.1-6.9.7-1.1.4 6.5"/><path class="k46" d="M144.9 449.8l.3-.1 0-5.7.3 4.1 1.1-4.4.3 1.8 1 2.1.7-1 1.2 2.2"/><path class="k48" d="M117.4 442.8l2.1 6.1.9.6 1.1-.7.1-4.4 1-1.3"/><path class="k50" d="M114.2 448l.3-6.7 5.5 1.2 11.1 2.4"/><path class="k51" d="M152.3 446.3l2.7 1.1 1.8.6 1.2 1.8"/><path class="k53" d="M160.2 448.4l4.8.5"/><path class="k69" d="M65.7 443.3h0"/><path class="k71" d="M87.6 440.1l2.3 4.4"/><path class="k72" d="M76.6 444h0"/><path class="k77" d="M144.9 444.1l0-.6 1.2 3.1"/><path class="k78" d="M153.3 449.9l3.1-3.5"/><path class="k83" d="M168.6 443.6l6.2-1.3"/><path class="k95" d="M95.5 445h0"/><path class="k0" d="M129.9 434.6l.4-3.3.1 4.6.1-4 .1-1.2.5 5.3 1.2-5.1.3 7.4.1-7.3.2 6.4.1.3.3-5.1.3-1.6.1.3.2 5.3.8-4.9"/><path class="k1" d="M155.5 440l.1-.6 1.6-.5 2.6-.4"/><path class="k3" d="M145.4 438.4l1.3-.7 0-3.3 4.4-3.9"/><path class="k4" d="M123.4 435.9l.3 1.6.5-2.8 0 2 .2-4.9.1 1.9 2.5-3.4.1 6.3.4-2.9.4-.7.1 2.5.1-2.8.9 3.1.6-3.7"/><path class="k5" d="M138.1 432.2l1.1 5 .7-1 .8 0 .2 2 .2-.6.7-2.3.3.2.1-4.5.4 6.9.2-6.9.6 1.3.2 2.6 0 3.5.2-.2.5-5.4 0 2.1"/><path class="k6" d="M152.2 433.1l.7 1.2 1.4-.2.5-1.6 3.6 2.1.6.9"/><path class="k8" d="M117.1 432.7l.1 5.5.3-3.6.4-4.3 2 7.3.4-7.2.6 6.5.1-4.9.3 3.1 0 2.4.1.8 0-4.8.3 2.6.7-3.5"/><path class="k9" d="M145.4 438.8h0"/><path class="k10" d="M130.1 439.6h0"/><path class="k11" d="M124.1 438.5l2.9-.1 1.9.5"/><path class="k12" d="M112.8 439.8l2.4-.9 1.1.9"/><path class="k13" d="M120.6 439.5h0"/><path class="k15" d="M114.1 435.7l.1-1.1.3-1.9.4-1.7 0 4.4 1-2.3.5 3.5"/><path class="k36" d="M112.4 439.2l.1-2.5.1.1.2-.4.2 2.9 0-1.1.1-.5 0-2.1 0 .5.3-2.9.1 3.6.1-4.4.1 5.7 0-.7 1.2-5 .3 4.6.1 2.2.2-1.7.7 2.2 0-6.2 0 .6"/><path class="k37" d="M123.6 436.1l.7 2.7.6-1.4.5 2.5.2-3.5.2 2.4 1 1.1.8-2.1.1 2.1 1.3-1.2"/><path class="k39" d="M117 438.9l0-8.5.4 5.6 0 .1.2 1.3.3-4.7.3-.4 2 2.6.7 4.8 0-3 .1 1.9.8-.3.2.3.9-4.2"/><path class="k40" d="M112.4 439.3l.1-2.5.3-6.1.2 4.7.7-.8.3-.8.2 1.7.9-2.1.6 2.7.1.1.5 1.7"/><path class="k41" d="M134.4 439.8h0"/><path class="k43" d="M129.9 439.9l1-1.5"/><path class="k45" d="M124.9 436.9l3.3 1.3"/><path class="k48" d="M116.6 432.4l.3-2 .1 9 .2-3 .2-2.3 0-.3.1.9 1.1-1.3.2 1.7 3.1.7.3-.5.3 1.2"/><path class="k50" d="M113 438.6l5.9-2.4 5.1 1"/><path class="k60" d="M149.6 433.8h0"/><path class="k71" d="M90.2 437.5h0"/><path class="k95" d="M93.7 437.5h0"/><path class="k0" d="M130 422.4l.1 6 .1.2.3-6.2.6 1 .6-2.4 0 6.6.8-1.9 0 2.7.2 1.5.1-4.1.3 3.5.1-5.4.2 3.6.6-4.4.1-2.7.6 5.1.3 3.1 1.1-6.7.1 3.8.2.7"/><path class="k3" d="M144.9 429.1l.4-4.8 0-1.9.1 1.9.1-3.6.1 6.5.3.8.3-4.4 1.6 3.2 1.7.6 1.3-3.5.1 3.4.7-4.4"/><path class="k4" d="M123.1 420.5l.2 1.9.6 5.5.1-2 .2 3 0-6.1 1.5-1.5.2 4.8.2-3.2.2.2.1 2.9.3-4.2.1 7.3 1.4-7.2.2-1.5"/><path class="k5" d="M136.9 422.9l.3 2.9 1.2 3.8.6-7.7 1 7.4.5-3.9 1.2-2 1 5.7.5-3 0-5.6.5 4.2.2-.8"/><path class="k6" d="M154.4 425.4l.9-.9.7-3.1 1.4 2.2"/><path class="k8" d="M116.9 427.4l.2-3.6 0 4.7.3-2.8.2 1.8.5-4.8.3 5.5 0-3.6.1-1.6.4 5.4 0-7.2.1 4.9 0-2 .1-2.3.1-1.5.2.9.6 5.3.7-1.7.1-1.8 0 1.4 1.5 0 .1.7.1 3.2.1-5"/><path class="k15" d="M115.4 429.2l.9-3.6"/><path class="k36" d="M113 428.9l3.6.1"/><path class="k40" d="M113.8 428.6h0"/><path class="k48" d="M117.7 429.8h0"/><path class="k58" d="M157.3 421.9l0 8"/><path class="k83" d="M172.1 426h0"/><path class="k0" d="M129.8 416.1l.1 2.3 1.1-7 .8 4.6.4-2.4 1.9 3.9.8-.7"/><path class="k3" d="M144.4 416.1l1.5 2.9 0-4.3.1 2.5 2.2-7.1.8 6.7"/><path class="k4" d="M123.8 414.7l.4-.3.4 5.3.2-7.7 0-.3.1-1.4.3 9.1 1-2.8.1-2.3.2-2.7.6-1.2.2 8.3.1 1.2.3-4 1 1.9.6-2.5"/><path class="k5" d="M137 418.9l.2 1.1.1-.4 1-.9.5-8.5.3 4.8 3.8-1.4"/><path class="k6" d="M152.2 412.2l1.3 6.3.2-3.6"/><path class="k8" d="M118.6 417.8l.4-2 .2-.3 0 3.4.8-.9.1-3.1.1 2.2.2-1 .4 3.3"/><path class="k64" d="M186.2 419.4h0"/><path class="k0" d="M130.5 406.1l.5 1.7.6-6 .5-.5 1.3 2.4.1-2.5.6 8.1 1.2-1.1.9-3.9.3.8"/><path class="k3" d="M144.8 405.7l.7-.7 1.1-.3 2.8-.5"/><path class="k4" d="M123 404.5l.5-.2.1-1.1.7 1.1.4-1.2.1-2.2.4 4.2.4.3.4 2 .2-7.4.3 7.9.1-2.2.1-1.4 0 2.3 1.1-5.1 0 3.1.6.4.5-3.4"/><path class="k5" d="M138.9 403.6l.3.6.3-4 .1 1.8 1.2-.3.4-.1.3 6.4 1.9-1.8.7.5"/><path class="k6" d="M152.4 409.4l.2-6.5"/><path class="k8" d="M120.7 409.5l.7-2"/><path class="k58" d="M155.5 400.9l4.3 2.4"/><path class="k85" d="M121 401.2l.3 2.4"/><path class="k0" d="M130.2 394.8l.5 1.5 3.7-2.6.3-2.6"/><path class="k3" d="M144.6 394.1l.4-.4 1.1 2.4 1.5-2.2 2.5 5.6.3-5.4.6-2.7"/><path class="k4" d="M125.6 399.6l1.8-.2.4.5 1.5-.4"/><path class="k5" d="M137.6 397.2l.1-3.2 1 1.8 2.7-3.5 2.9 2.5"/><path class="k6" d="M152.3 394.9l.6 1.6"/><path class="k58" d="M159.3 391.9l0 3.1"/><path class="k59" d="M123.5 394.3h0"/><path class="k85" d="M121.5 392.7h0"/><path class="k0" d="M134.9 389.9h0"/><path class="k5" d="M143.6 386.1h0"/><path class="k6" d="M152.2 386.9h0"/><path class="k61" d="M134.5 382.2h0"/><path class="k61" d="M135 378.8h0"/><path class="k62" d="M140.3 379.1l2.5 0"/><path class="k85" d="M121 371h0"/><path class="k60" d="M149.7 367.6h0"/><path class="k63" d="M164.5 369.5h0"/><path class="k60" d="M144.6 357.8h0"/><path class="k82" d="M163.2 346.5h0"/></g><path d="M181 417.5L172.1 426M45 402.5L90.2 437.5M118.3 343.5L121 371M122.9 343.5L121.5 392.7M127.6 343.5L123.5 394.3M140.7 343.5L134.5 382.2M147.7 343.5L140.3 379.1M149.3 343.5L142.8 379.1M157 343.5L149.7 367.6M177.2 366L159.3 391.9M179.5 366L159.8 403.3" stroke="#000" stroke-width=".45" fill="none"/><g class="lb"><text x="118.8" y="344.7" text-anchor="middle">Q9NZN4</text><text x="128.4" y="344.7" text-anchor="middle">P14618</text><text x="138" y="344.7" text-anchor="middle">P67936</text><text x="147.6" y="344.7" text-anchor="middle">P06733</text><text x="157.2" y="344.7" text-anchor="middle">O75369</text><text x="130.3" y="344.7" text-anchor="middle">Q9NZN4</text><text x="137.3" y="344.8" text-anchor="middle">P63261</text><text x="144.3" y="344.5" text-anchor="middle">P35579</text><text x="151.9" y="344.6" text-anchor="middle">Q8WWI4</text><text x="173" y="347.7" text-anchor="middle">Q8N429</text><text x="150" y="355.9" text-anchor="middle">Q9Y4K3</text><text x="136.9" y="366" text-anchor="middle">P02786</text><text x="177" y="365.7" text-anchor="middle">P08670 P0DMV9 Q9UBX1</text><text x="184.9" y="417.2" text-anchor="middle">Q9BXJ4</text><text x="184.9" y="419.5" text-anchor="middle">Q8N4Q1</text><text x="38.5" y="402.8" text-anchor="middle">P02545</text><text x="79.7" y="436.9" text-anchor="middle">Q9BXJ3</text><text x="89.3" y="436.4" text-anchor="middle">Q8NBJ5</text><text x="63.9" y="443.9" text-anchor="middle">O75223</text><text x="34.2" y="448.8" text-anchor="middle">Q8WUM4</text><text x="26.3" y="452.2" text-anchor="middle">Q9NZ01</text><text x="42.9" y="452.2" text-anchor="middle">P06703</text><text x="24.5" y="455.3" text-anchor="middle">P06702</text></g><rect x="10" y="341.5" width="185.5" height="121.9" fill="none" stroke="#d6d6d6" stroke-width="1.3"/><path d="M34.6 464v1.1M69.6 464v1.1M104.6 464v1.1M139.6 464v1.1M174.6 464v1.1M9.4 457.6h-1.1M9.4 434.3h-1.1M9.4 411h-1.1M9.4 387.7h-1.1M9.4 364.4h-1.1" stroke="#333" stroke-width=".5"/><g class="tl"><text x="34.6" y="467.7" text-anchor="middle">-10</text><text x="69.6" y="467.7" text-anchor="middle">-5</text><text x="104.6" y="467.7" text-anchor="middle">0</text><text x="139.6" y="467.7" text-anchor="middle">5</text><text x="174.6" y="467.7" text-anchor="middle">10</text><text x="7.8" y="458.6" text-anchor="end">0</text><text x="7.8" y="435.3" text-anchor="end">5</text><text x="7.8" y="412" text-anchor="end">10</text><text x="7.8" y="388.7" text-anchor="end">15</text><text x="7.8" y="365.4" text-anchor="end">20</text></g><text class="at" x="102.8" y="471.3" text-anchor="middle">log2(FC)</text><text class="at" transform="translate(3.8 402.4) rotate(-90)" text-anchor="middle">-log10(p-value)</text><defs><linearGradient id="g6" x1="0" y1="0" x2="0" y2="1"><stop offset="0.0" stop-color="#ff0000"/><stop offset="0.1" stop-color="#fb4a2c"/><stop offset="0.2" stop-color="#f46c4e"/><stop offset="0.3" stop-color="#ea876f"/><stop offset="0.4" stop-color="#dba090"/><stop offset="0.5" stop-color="#c7b7b2"/><stop offset="0.6" stop-color="#b6aac7"/><stop offset="0.7" stop-color="#a68cd5"/><stop offset="0.8" stop-color="#926de1"/><stop offset="0.9" stop-color="#774eed"/><stop offset="1.0" stop-color="#4d2af8"/></linearGradient></defs><rect x="200.2" y="391.4" width="5.8" height="26.6" fill="url(#g6)"/><text class="lg" x="200.2" y="389.8">FoldChange</text><g class="ll"><text x="207.4" y="395.2">10</text><text x="207.4" y="401">5</text><text x="207.4" y="406.8">0</text><text x="207.4" y="412.6">-5</text><text x="207.4" y="418.4">-10</text></g><defs><clipPath id="c7"><rect x="242" y="341.5" width="185.5" height="121.9"/></clipPath></defs><text class="ttl" transform="translate(336.3 332.5) scale(1 1.06)" text-anchor="middle">K110</text><path d="M252.8 341.5V463.4M286.2 341.5V463.4M319.8 341.5V463.4M353.2 341.5V463.4M386.8 341.5V463.4M420.2 341.5V463.4M242 441.9H427.5M242 409.7H427.5M242 377.5H427.5M242 345.3H427.5" stroke="#f5f5f5" stroke-width=".55" fill="none"/><path d="M269.5 341.5V463.4M303 341.5V463.4M336.5 341.5V463.4M370 341.5V463.4M403.5 341.5V463.4M242 458H427.5M242 425.8H427.5M242 393.6H427.5M242 361.4H427.5" stroke="#ebebeb" stroke-width=".6" fill="none"/><path d="M329.8 341.5V463.4M343.2 341.5V463.4M242 451.5H427.5" stroke="#a8a8a8" stroke-width=".8" fill="none"/><g clip-path="url(#c7)"><path d="M258 458 336.4 458.2 343.8 456.2 356 453 370 451.3 385 450 399.8 449.6 399.8 448.4 385 448.2 372 447.6 360 445.5 350 443.5 345 444.5 341 449 338.5 454 336.5 456 334.5 453.5 331 450 320 450.6 300 452.4 280 453.8 258 455.5Z" fill="#111"/><path class="dt" d="M253.9 456.2h0m.5-.2h0m2.1.2h0m0-1.9h0m0 1.6h0m2.3.5h0m.7-.1h0m1.1 0h0m1.1.3h0m3.9.5h0m.8-.3h0m.7-.7h0m.4 1.3h0m.5-2.4h0m2 1.2h0m.3.9h0m.4-1.3h0m.1 1.1h0m1.9.5h0m.8-.6h0m2-1.4h0m.5.4h0m.5 1.2h0m.3-.2h0m.4-2.2h0m.2 1.2h0m.9-.6h0m.5 1.8h0m1.1-3h0m.1 3h0m0 0h0m.5-2h0m.3 2h0m.2-2.1h0m.3 0h0m.5 1.2h0m1.9-1.7h0m.4 2.3h0m.1 0h0m1.9-2.1h0m.2 1.2h0m.4-2.1h0m.2 2.4h0m1.3-2.1h0m.1.5h0m.3-.3h0m.7.8h0m1.3 1.1h0m.7-3.2h0m.2 4.1h0m.1-3.7h0m.1.6h0m3-1.1h0m.2 3.2h0m.2-2.3h0m.7-.4h0m.9 3.4h0m2.2-3.2h0m.3-.2h0m.8 1.2h0m3.2-1.7h0m.6 0h0m.7.1h0m.4-.6h0m.3 3.9h0m0-2.4h0m.2.8h0m1.3.5h0m.5.6h0m.5-4.2h0m.6 2.2h0m.4-.9h0m.3 1.5h0m.4 1.7h0m.4-2.2h0m.6-1.3h0m1.6 1.4h0m0-.7h0m.1 3h0m.8-3.1h0m1.9-1.6h0m.7-.5h0m1.1 1.4h0m.5 4.3h0m.1-.6h0m.6-2.9h0m.3 1.8h0m1.3-2.7h0m.5 2.4h0m.8.2h0m.9 1.2h0m0-2.7h0m.3 3h0m.7-.4h0m.2-1.9h0m1.5 1.2h0m.9.6h0m1.4-2.4h0m.7-1.7h0m1.6 3.8h0m.1-3.9h0m.5-.3h0m.5 3.9h0m1.3-.4h0m1.5-3.4h0m.4 1.9h0m1.1 3h0m.9-1.2h0m69.8-6.2h0m.2 0h0m.9-.7h0m1.1.1h0m.9 1.6h0m1.3 0h0m1.1-1.6h0m2.2.7h0m1.3.4h0m5.7-.6h0"/><path class="k18" d="M280.1 450.8l3.2.8 3.7-.4.9-.6"/><path class="k19" d="M309.7 450.4l1.8-.3"/><path class="k21" d="M299.5 450.4l2.3.8.2-1"/><path class="k22" d="M268.3 451.3h0"/><path class="k28" d="M329.9 451.4l.4.6.4-1.5"/><path class="k29" d="M325.5 451.5l1.1-.7 2.4-.5"/><path class="k30" d="M289.4 450l.6.8.1-.1 0 .4 5.7.9"/><path class="k32" d="M314.8 450.9l.3-.7.2 1 1.3.8 1.5-1.2"/><path class="k34" d="M274.3 451.1l0 .2"/><path class="k76" d="M334.8 451.8h0"/><path class="k87" d="M275.3 450.6h0"/><path class="k89" d="M262.5 451h0"/><path class="k1" d="M384.1 444.5l.8-3.3.3 1 .8-1.9 0 1.7.2.7.6 2.5.3-.9.5-.8.9-2.9 1.4 1.2"/><path class="k2" d="M367.6 442.5l.2 1 .4-1.8 1.2-.4.4 3.6 1-3.4 1.3 1.2"/><path class="k7" d="M399.8 445l.2.2"/><path class="k9" d="M374.9 442l.9 2.8 1.6-3.9.4 4.8.1-1.1.1.5.6-3.5 0-.9.5 2 .5-1.5.5 2.5.2 0 .8-3.5.4 2.9"/><path class="k10" d="M360.9 443.1l.7-2.7.4 5 .6-4.7.5 3.8 1.3-1.2.2-2.2 1.3 4.5.3-.3 1.3-1.5"/><path class="k11" d="M354.4 444.8l.4-2.3.2.3.2-1.5.3 2.8.3-3.4.7 3.3.2-2.6.3 3.9.4-2.6.1-.9.1 3.5 1.6-1.5.3-.4.6-1 0 2.8.2-3"/><path class="k12" d="M344.9 443.8l.3-3.7.4 2 .3-.3.1 3.2.3-3.3.1 4.2.1-4.3.4 0 0 1.7.5-2.8 0 4.2.1-.3 0-2.7.3-.5"/><path class="k13" d="M348.4 440.4l0 .9.4 4.6.5-.9.1-.8.7-1.7 1.4 3.1 0-.6.6-.4 0-4.1 1.7 4.5.1-3.4"/><path class="k14" d="M390.7 442.3l1.2 2.1 1.3-2 .5-1.2.2 4.5.7-2.1 0 1.5.5-5 1.5 1.4"/><path class="k16" d="M290.8 443.5l1.6 2.6 2.5-3"/><path class="k17" d="M320.8 445.8l.3.2.3-5.3.4 5.9"/><path class="k18" d="M279.8 447.4l.5-.3 1.9.7 2.4-.6.6 2.3"/><path class="k19" d="M305.1 448.5l.2-1.2.5.4.7 1.9 1.4-.2.6-.3.5-1.9 1.6 0"/><path class="k20" d="M314.3 445.6l2.2-5.5"/><path class="k21" d="M298 448.8l.2-.5.7 1.2"/><path class="k23" d="M331.9 445.1l0 1.6.1-.5.4-.2.1-4.2"/><path class="k24" d="M325.3 446.3l.3-3.7"/><path class="k26" d="M276.7 446.3h0"/><path class="k28" d="M329.8 449.1l.9.2 1.3-.2.3-1.8.3 2.1"/><path class="k29" d="M324.8 448.1l.3.7.2.1.2-.5.2-.3 2.1.6 1.1.2 0 .4"/><path class="k30" d="M288.9 448.6l5 .2.6-.7.7-.1 0 1.8"/><path class="k31" d="M297.2 446.3l2.4-3.5.2.1 3.8-2.8.2 6.6"/><path class="k32" d="M313.6 447.6l.2.7.2-.7 0-.3.8 2.2.6-1.5 2.8-.1"/><path class="k33" d="M281.1 447l5.3-1.8"/><path class="k34" d="M274.7 449.9l1.9-1.3"/><path class="k35" d="M306.1 442.2l1.7.7.1 3.6.5-4.8"/><path class="k36" d="M344.2 446.4l.2.1.5-5.8.1 4.3 0-1.4.1-2.5.1.9.4-1.1.3 4.5.2-4.1.4.6.2.1.3 3.5.6-3.8.2 4.8"/><path class="k37" d="M354.6 446.6l1-3.5.2-1.6.7.5.4 2.5.8-4.1 2.2 3.7.1-.7.3 3.3.1-6.5.2 2.5"/><path class="k38" d="M369.1 443.9l.8 2.9.4-1 3-.1"/><path class="k39" d="M348.3 441.7l0 2.8.4 2.3.3-1.5.2-4.3.2 2.5.1-1.6.4 2 0-.5.1.7.9-2.2.6 1.2 0-3.1.9 6.1.2 0 .9-3.4.3-2.3 0 5.3"/><path class="k40" d="M344.3 445.3l.1-.1.5-3.6.2 3.4.1 0 .2-.1.5-1.8 0 1.7.1-4.7.3 6.8 1.2-1.1"/><path class="k41" d="M361.6 445.5l1.3-2.6 1.8-.2.3 3.5"/><path class="k42" d="M368.7 443.6h0"/><path class="k43" d="M360.8 444.5l.7-1 .2 1.6.3-2.4 3 4.2 1.4-3.2"/><path class="k45" d="M354.2 443.4l1.5-.9.9 3.1 0-.6 1.7 1.5 1.3-6.1.3 4.9.6-1.9"/><path class="k48" d="M349.6 442.4l1.9 1.8.6-2.7"/><path class="k50" d="M344.6 446.1l6-1.7 8.2.7 5.2 0 4.6-1.1 17.4 3"/><path class="k64" d="M414.7 449.2l4.4 0"/><path class="k70" d="M315.6 441h0"/><path class="k76" d="M333.5 449.2l1 .6"/><path class="k77" d="M375.9 445h0"/><path class="k78" d="M387.7 447h0"/><path class="k83" d="M405.1 443.6h0"/><path class="k87" d="M270.9 448l4.4 0"/><path class="k88" d="M333.2 441.1l.2 5.4 1.6.3"/><path class="k0" d="M363.2 431l.8-.5 3 0"/><path class="k1" d="M383.6 437.8l.3-3.1 0 4.7 1.9-3.8.1-.3.3 2 .2 2.5.3-1"/><path class="k2" d="M367.6 434.7l1.7 3.8.1-5.7.3 3.7.8 1.5.8-2.4.1-2.6.3.1 2 .7.1.1"/><path class="k3" d="M375 431.9l1.8-.8.7 0 1 .5.9-.2"/><path class="k4" d="M356.3 431.8l.1-1 .3.3.1-.5.9-.5.5 1.5.5-.2.1-1.3"/><path class="k5" d="M372.5 430.5l.1.1"/><path class="k8" d="M349 430.7l.3.8.3-1.1 4.2.4"/><path class="k9" d="M374.9 438.9l.4.7.7-2.7 1.3 1.1 0 .1.1-.8.7-.7 0 2.8 1.9-5.7.4 3.2.5-.7"/><path class="k10" d="M360.8 433.2l.5.9.7 3.2.4-1.3 2 1.3.4.4.4-5.6.2 5.4 1.1 1.1.6.7"/><path class="k11" d="M354.7 438.7l.5 1.1.2-6.5.5 1.2 1 3.7.2-5.1.5.1.1-.5 0 2.5 1-.6 0-2.2.1 3.4.1-2.8.8 2.8.9 1.2"/><path class="k12" d="M345.4 439.3l0-2.6 0 1.5.4-3.1 0 4.2.2-5.2.4 3.3.2-4.4.1-.7.6 7.4 0-2.5 0-5 .4.4.2 4.9.1-3.2 0-.7"/><path class="k13" d="M348.3 439.3l0-6.3.1 3.6 0-3.3.2 6.5.6-4.5.1-1.2 0 3 .2 2.5.5-1.8 0-3.2.2 3.6.1 1.1.2-3.1 0 2.3.6.1.2-6.2.1 1.3.5 1.3.4.2.7 2.9.3.4 0 1.2.4-3.8"/><path class="k14" d="M391.3 438l1.6.2 1.9 1.6"/><path class="k15" d="M346.3 431.5l.4-.8.1-.6.6.6"/><path class="k36" d="M345.6 439.5l0-3.9.1 1.8 0-2.2.1 3.9 1-1.4.4-5 .2 7.1"/><path class="k37" d="M355.4 439.7l.6-.2.7.3"/><path class="k39" d="M348.2 433.8l0-1 .1 3.8.1-1.4.4 2.4 0 1.8.1.6.2-1.5 0-2.3.2 3.5.6-6.8.1 5.5.4-2.9 2.1 1.2.2 1.4.7 1.1.1-2.6"/><path class="k40" d="M345.4 434.3l.2 3 0 .7.7-1.3 0-3.9.2 3.1 0-2.2"/><path class="k48" d="M348.9 438.8l1-5.6.4 1.5.1.5.8-.6.5 4.9.7-1.4.6-1.3"/><path class="k50" d="M345.8 437.6l1.3 2.2 4.9-4.8"/><path class="k65" d="M329.6 439.8h0"/><path class="k70" d="M314.4 438.4h0"/><path class="k71" d="M318.6 431h0"/><path class="k72" d="M308.6 439.6h0"/><path class="k86" d="M295.8 431.4h0"/><path class="k91" d="M398.3 436.4h0"/><path class="k92" d="M382.5 435.7h0"/><path class="k93" d="M393 437.8l1.3-1.6 1 0 1.1.1.2-1.2"/><path class="k94" d="M375 435.8l3.1 1.6 1.1.3"/><path class="k95" d="M325.8 439.8l.3-5.8"/><path class="k122" d="M364.2 435.5l2.1 2.1"/><path class="k124" d="M368.3 435.1l6.3.9"/><path class="k0" d="M360.8 423.8l1.9.5.3 5 .9-1.6.4-2.5 0 3.3 1.2-4.5 0 5.9.8-5.9.2 2.8.1-4.6.4 6.1"/><path class="k4" d="M354.2 423.5l.3 5.5.1-1.3.2-4.3.1 4.1.1-5.3.4 7.8.3-5.3.1-3.9.5 5.7.1-1.1.4-1.8 1.1 5 .2-7.9.1 1 .5 8 .8-1.4.3-3.7.2-.3.5 1"/><path class="k5" d="M368.2 424.8l.5 2 .5-6.7.5 3 2.3-3 1 7.3 1.2 2.2.3.1"/><path class="k8" d="M348.2 422.4l0 2.9.1 1.2.4-1.5 0 3.2.2-6.8.3 2.3.7 3.4 0-4.1 0 6.3.2-6.8.2 4.3.2 0 .2.9 0-4.1.2 4.2.1-4.7.3 6.7.1-4.1.1-.4 0 3 0 1.3.2-4.1.4-.6.5 3.2.8-3 .3 4 0-7.8.1-1 .1 2.8.1-.4"/><path class="k15" d="M346.7 427.3l.3-2.7.2 2.3.1 2.5 0-4.4 0 1.3.5-4.1.2 6.6"/><path class="k0" d="M360.8 415.5l1.1-.3 0-2.1 0 2.3 2.3-4.8 1 2.4 2.3 5.3"/><path class="k4" d="M355.7 414.2l.5 3.2.3-3.7.3 5.5.2-3.7.2-1.8.1 4.4.1-7.9.5.8.2 5.1 0-5.5.1 1.9.2 6.5.3-4.8.4 1.4.1 1.4 1.2-6.9 0 5.2.1-2.1"/><path class="k5" d="M368.7 417.8l.3-5.3.2 5.1.8 1.6 1-8.8.3.1"/><path class="k8" d="M348.2 417.8l.7-2.6.1 4.7.2-6.5.1-3.1.1 8.6.3-2.9.1.2.5-3 1 6.3.1-3.1 0 3.2.7-1.8.3-5 .2 1.5.6 3.8.3-7.7.3 3.8"/><path class="k15" d="M347.8 419.2h0"/><path class="k58" d="M387.6 418.2h0"/><path class="k0" d="M360.7 408.2l.7-6.3.9 7.4.1-7.7 1.1 4.8 1-6.1.4 5.7.3-2.6 1.3 0"/><path class="k4" d="M355.3 407.4l.2.5.4-4 .2.3 1.5 3.2.6-.4 1.1-6.6.4 8.1"/><path class="k5" d="M368.3 409.3l2.6-4.2.1.9"/><path class="k8" d="M350.2 409.8l.1-1.2.2-2.5.1-3 .5 5.2.2-6.6 0 4.6.2-.2.3-.8.1-1.2.1 4.2.8-2.5 0-2.3.2-1.6.3 2.7.5-2.4.1 4.5"/><path class="k0" d="M361.1 394.4l.4-.9 2.8-.3"/><path class="k4" d="M356.5 398.5l.7-7.2"/><path class="k5" d="M368.6 397.8l3.2-2.8.1.4"/><path class="k8" d="M351.6 399.1l1.4-3.8"/><path class="k58" d="M385.8 395.8h0"/><path class="k59" d="M354.3 390.2h0"/><path class="k0" d="M361.1 387.1l.1-.2 3.1 3.1 2-1.7"/><path class="k4" d="M354.9 389.9l1.9-2.9"/><path class="k60" d="M377 380.9h0"/><path class="k63" d="M391.4 380.9h0"/><path class="k85" d="M353.4 382.3h0"/><path class="k58" d="M384.9 379.1h0"/><path class="k60" d="M380.2 375.3h0"/><path class="k61" d="M366.5 375h0"/><path class="k85" d="M353.4 372.1h0"/><path class="k62" d="M369.2 364.3h0"/><path class="k84" d="M406.8 353.9h0"/><path class="k85" d="M353.1 356.9h0"/><path class="k60" d="M375.3 349.9h0"/><path class="k125" d="M417 346.9h0"/></g><path d="M389 414L387.6 418.2M410 443L405.1 443.6M281 424.5L314.4 438.4M312 419.5L329.6 439.8M293 434.8L308.6 439.6M352 345.5L353.1 356.9M353 351L353.4 372.1M353 367L354.3 390.2M366 345.5L366.5 375M373 345.5L369.2 364.3M379 345.5L377 380.9M390 345.5L380.2 375.3M395 365L384.9 379.1M415 345.5L385.8 395.8" stroke="#000" stroke-width=".45" fill="none"/><g class="lb"><text x="369" y="344.6" text-anchor="middle">Q9NZN4</text><text x="376.3" y="344.6" text-anchor="middle">P07437</text><text x="383.7" y="344.6" text-anchor="middle">Q9UBF2</text><text x="391" y="344.6" text-anchor="middle">P0DMV8</text><text x="373.8" y="344.3" text-anchor="middle">Q9UBF2</text><text x="386" y="344.7" text-anchor="middle">P60709</text><text x="410" y="344.6" text-anchor="middle">Q15149</text><text x="421" y="344.6" text-anchor="middle">Q9NZN4</text><text x="413.6" y="344.9" text-anchor="middle">Q15149</text><text x="418.4" y="344.7" text-anchor="middle">P06753</text><text x="349" y="345" text-anchor="middle">P23588</text><text x="356" y="351.1" text-anchor="middle">Q9BQE3</text><text x="414.7" y="344.6" text-anchor="middle">Q9HCK8</text><text x="374.4" y="348.8" text-anchor="middle">P30101</text><text x="355.2" y="366" text-anchor="middle">Q8N3E9</text><text x="367.4" y="358.1" text-anchor="middle">P06493</text><text x="370" y="363.4" text-anchor="middle">Q9H2U2</text><text x="378.8" y="360.7" text-anchor="middle">Q8TEX9</text><text x="392.5" y="364.6" text-anchor="middle">P09382</text><text x="407.7" y="356.3" text-anchor="middle">Q9H7Z6</text><text x="373.5" y="373" text-anchor="middle">P53618</text><text x="355.2" y="380.9" text-anchor="middle">P23381</text><text x="392.8" y="412.9" text-anchor="middle">Q9NX65</text><text x="415.6" y="442.7" text-anchor="middle">Q8N8S7</text><text x="420.9" y="447.4" text-anchor="middle">P23284</text><text x="419.1" y="452.7" text-anchor="middle">Q9BRK5</text><text x="274.4" y="424.7" text-anchor="middle">P08123</text><text x="305.1" y="419.4" text-anchor="middle">Q9NVH1</text><text x="308.6" y="425.5" text-anchor="middle">P60660</text><text x="313.5" y="429.9" text-anchor="middle">P68371</text><text x="286.7" y="435.2" text-anchor="middle">P07585</text><text x="294.6" y="429.9" text-anchor="middle">P02452</text><text x="258.7" y="455.3" text-anchor="middle">Q8IWA4</text></g><rect x="242" y="341.5" width="185.5" height="121.9" fill="none" stroke="#d6d6d6" stroke-width="1.3"/><path d="M269.5 464v1.1M303 464v1.1M336.5 464v1.1M370 464v1.1M403.5 464v1.1M241.4 458h-1.1M241.4 425.8h-1.1M241.4 393.6h-1.1M241.4 361.4h-1.1" stroke="#333" stroke-width=".5"/><g class="tl"><text x="269.5" y="467.7" text-anchor="middle">-10</text><text x="303" y="467.7" text-anchor="middle">-5</text><text x="336.5" y="467.7" text-anchor="middle">0</text><text x="370" y="467.7" text-anchor="middle">5</text><text x="403.5" y="467.7" text-anchor="middle">10</text><text x="239.8" y="459" text-anchor="end">0</text><text x="239.8" y="426.8" text-anchor="end">5</text><text x="239.8" y="394.6" text-anchor="end">10</text><text x="239.8" y="362.4" text-anchor="end">15</text></g><text class="at" x="334.8" y="471.3" text-anchor="middle">log2(FC)</text><text class="at" transform="translate(235.8 402.4) rotate(-90)" text-anchor="middle">-log10(p-value)</text><defs><linearGradient id="g7" x1="0" y1="0" x2="0" y2="1"><stop offset="0.0" stop-color="#ff0401"/><stop offset="0.1" stop-color="#fb4b2d"/><stop offset="0.2" stop-color="#f46c4e"/><stop offset="0.3" stop-color="#ea876f"/><stop offset="0.4" stop-color="#dca090"/><stop offset="0.5" stop-color="#c7b6b2"/><stop offset="0.6" stop-color="#b6abc7"/><stop offset="0.7" stop-color="#a78dd4"/><stop offset="0.8" stop-color="#936fe0"/><stop offset="0.9" stop-color="#7950ec"/><stop offset="1.0" stop-color="#522df7"/></linearGradient></defs><rect x="432.2" y="391.7" width="5.8" height="26.3" fill="url(#g7)"/><text class="lg" x="432.2" y="390.1">FoldChange</text><g class="ll"><text x="439.4" y="395.5">10</text><text x="439.4" y="401.2">5</text><text x="439.4" y="407">0</text><text x="439.4" y="412.8">-5</text><text x="439.4" y="418.5">-10</text></g><defs><clipPath id="c8"><rect x="473.6" y="341.5" width="184.9" height="121.9"/></clipPath></defs><text class="ttl" transform="translate(560.1 331.4) scale(1 1.06)" text-anchor="middle">K111</text><path d="M479.3 341.5V463.4M516.9 341.5V463.4M554.5 341.5V463.4M592.1 341.5V463.4M629.7 341.5V463.4M473.6 440.8H658.5M473.6 406.4H658.5M473.6 372H658.5" stroke="#f5f5f5" stroke-width=".55" fill="none"/><path d="M498.1 341.5V463.4M535.7 341.5V463.4M573.3 341.5V463.4M610.9 341.5V463.4M648.5 341.5V463.4M473.6 458H658.5M473.6 423.6H658.5M473.6 389.2H658.5M473.6 354.8H658.5" stroke="#ebebeb" stroke-width=".6" fill="none"/><path d="M565.8 341.5V463.4M580.8 341.5V463.4M473.6 451.2H658.5" stroke="#a8a8a8" stroke-width=".8" fill="none"/><g clip-path="url(#c8)"><path d="M490 458.7 573.5 458.7 583.6 452.8 596 449.7 611.5 448.5 630 448.4 645.6 448.4 645.6 447.2 630 447.1 612 446.8 600 445.5 590 443 584 442 579 446 576 451 574 454.5 572 453 568 450.5 560 449.4 540 451.5 520 452.7 500 454.1 490 456Z" fill="#111"/><path class="dt" d="M475.5 455h0m1.4-1.2h0m1.7 1.8h0m.3-.9h0m2.3-.8h0m5.1 1.5h0m1.2.8h0m1.3 0h0m1.7 1.7h0m5.7-1.2h0m1.4-.5h0m1.7.7h0m2.6.2h0m.3-1.9h0m2.2 1.9h0m.1-.9h0m.8-.5h0m.9-1.1h0m2.1.7h0m2.2 1.6h0m.9-1.5h0m.6-1h0m.1 1.3h0m1.9.9h0m.1.2h0m.7.5h0m.8-2.1h0m.8 1.8h0m1.1-4.6h0m1.1 2.3h0m2-2.3h0m.9 1h0m1.1-1.1h0m.2 1.6h0m.1 1.4h0m1.3 1h0m.4-2.3h0m.1 3h0m0-.8h0m.7-.3h0m1.4-2.5h0m0 1.9h0m.2-.6h0m0 2.9h0m0-2.9h0m0 2.3h0m.1-3.3h0m1.6.4h0m.1-2.3h0m.2 2.4h0m1.8-2h0m1.5-.7h0m3 4.9h0m.1-2.7h0m1.3-.3h0m.3-1.8h0m.7 3.1h0m1.2-2.7h0m.5-.9h0m.8 1.1h0m1 1.8h0m.9-3.3h0m.2 4.8h0m.8 1.6h0m.1-2h0m1.9.2h0m0-3.8h0m.8 5.2h0m.4-.7h0m.6-.7h0m.1-4h0m.2 5.4h0m.2-.9h0m1-3.8h0m.9.8h0m.2 2.2h0m.7.1h0m.3-.5h0m.2 2.1h0m.4-3.2h0m0-2.2h0m.2 6.4h0m.3-3.3h0m.1.8h0m.8-5.1h0m.2 6.9h0m0 .4h0m.3-1.5h0m.1-2.9h0m.1 3.3h0m.4-4.8h0m3.5 4.1h0m1-.5h0m.6.5h0m0-2.2h0m.2-3.2h0m.1 3.9h0m1.5-1.2h0m1 1.2h0m.1-2.3h0m.1-2.1h0m.9.6h0m.1 1h0m2 3.6h0m.7-4h0m.1-.7h0m.6-.2h0m1.4 5.8h0m.2-3.7h0m.6 1.4h0m1.4-1.6h0m.3 5.2h0m.3-3.4h0m.4-1.3h0m0 1.1h0m.2 1.2h0m.2.2h0m.4 1.9h0"/><path class="k19" d="M544.3 450.6l1.1.1.8-.3 1 .4 1.1-.3"/><path class="k21" d="M539 450.6l.7.2 2.1-.4"/><path class="k22" d="M502.4 450.1l1.5.8 1.2-.1.2-.4.9-.1"/><path class="k25" d="M559.6 450.2h0"/><path class="k28" d="M566.9 450.1l.1.9.4-.5.9-.3"/><path class="k29" d="M563.8 450.5h0"/><path class="k30" d="M529.4 450.6l4.4.3"/><path class="k32" d="M552 450.3l.1.3.1-.6"/><path class="k34" d="M512.3 450.8h0"/><path class="k76" d="M570.7 450.8l.3-.4.4.3"/><path class="k1" d="M617 440.3l1 2 1.2 2.3.3-1.8 2.5-1.9.1-.8.4 2.1 0 2.1.1 1"/><path class="k2" d="M604.5 445.2l0-3.1.1-1 .9 1 2.9-.5"/><path class="k7" d="M635.2 443.9h0"/><path class="k9" d="M610.2 440.4l.8-.3.5.8 2.2 4.2.1-2.7.3-.2 1.1 1.8"/><path class="k10" d="M596.2 442.7l.8-.6.3-1.1.3-.9.1 4.8.2-3.5.3.7 1.1 2.3.3-3.4 1 1.5 1.5-.2"/><path class="k11" d="M589.8 444.1l.8-.3 1-.3.3.7.3-2.9.6 3.5 1.6-3.5"/><path class="k12" d="M580.2 444.2l.2-2.1.1-.8.1-.9 0-.2.2 1.9 0 .5.1-2.1.1-.5.1 3.8 0-2.8.1 2.1.7-.1 0-1.3.1 1.2.5.6.1-.6.2-1.4.4 3.6.2-3.1.1 2.2.6.8"/><path class="k13" d="M584.2 443l.4-.9.1-.2.5 2.1.1-1.1.1 2.2.7-1.9.7 1.2.5-.5.3-1.1 1.2-1.7.5 3.9"/><path class="k14" d="M623.5 441.8l4-.5 1.3 3.3"/><path class="k16" d="M531.1 443.3l3.6-1.2.6-1.2 0-.7"/><path class="k17" d="M556.8 442.6l.1 1.1 1.2-3.1.3 2.6 1.2.4.8-1.9"/><path class="k18" d="M521.3 449.7l1-.9.7-4.2.4 1 3.6 2.7"/><path class="k19" d="M545.2 449.2l.4-5.1.2 2.6.9.8 1.2.3.3-2.6.1 4.5.2-4.7.8-.8"/><path class="k20" d="M550.9 441l.3 2.6 2.2-.9 1-.6.6-1.3"/><path class="k21" d="M536.4 448.8l1.1-4.4 0-.2.5 4.3 2.1-3.9.3 5 1.9-.3.1-1.7 1-.1"/><path class="k22" d="M508.8 447.6l.2 2 1.5-3.3"/><path class="k23" d="M566.8 443l.5-1.4.7 1.5.4.7.2-.4.4-1.8.3-.7 0 1.4.3.1.3 1.2"/><path class="k24" d="M562.4 440.3l.9 0 1 3 1.1-1.1.2.2.3-.8.3-.4"/><path class="k25" d="M556.7 446.9l.3-.3.1 2.5 1.2-2.8 1.2-.5.4 1.7 1.1-2.8.1 4 .3-1.3"/><path class="k26" d="M519.4 442.1h0"/><path class="k28" d="M566.9 448.6l.1-3.3.3-.6 0 5 .1-.5.2-1.1.1-3.8.8 2.8 0 .1 0-3.3.1 4.2 0-2.1.6-.2.3-.8.1 1.9.1 2.6.4-5.2"/><path class="k29" d="M563 445l.2 1.4 0-2.3 1 5.8 0-.4.4-2.3.3-1.9.6 3.3.1-1.9.1 2.9.3-.4 0-3.9 0 .4"/><path class="k30" d="M529.8 449.5l0-2.5.2 1 .9-1.2 0 2.6.6-5 .2 3.3 0-3 .1 3.5 1.3 1.3.1-4.3.2 4.1.3-5.1 1.2 3.5.4-2.7"/><path class="k31" d="M536.4 443.8l.6-.3 1.5-3.5 1.2 1.8.4.7 3.1-2.5"/><path class="k32" d="M550.3 448.5l1-4.4.9 4.1.2-1.5 1.6 1.9.6-.7.3-3.9.1 3.2.7-1.7"/><path class="k33" d="M523.4 440.1l4.7 2.1 0-.7"/><path class="k34" d="M512.4 447.4l.2-2.2.9.1.4 1.8 1.5-.3 1-2 1.2 4.3 1.7-.2"/><path class="k35" d="M544.5 441.4l4.8-.7.6.3"/><path class="k36" d="M580.5 444.7l.3-1 .1-1.7.1 3.4.1-.5 1.3 1 0-2.8 0-.8 0 3.4.3-1.4.1-3.1.1 4.7.1-4.9.1.4.5 3.1"/><path class="k37" d="M591.2 446l.8-2.2.4.7.8 0 .6-1.1.3 0 1.4-.4.2-.6 0-1.4.1 3.7"/><path class="k38" d="M604.1 445.7l.2-4.2.6 3.6.3-.1.1-1.8.5-2.1.7 2.1.1-1.4.3-.1.1.5.1 1.4.1-2.4"/><path class="k39" d="M584.4 444.6l.1-4.4.2 2.2.4.8 0 .5 0-1.3.4 1.9 1.1-1.7.3 2.4.1-3.5.2-.3.4.5.5 3.8.6.4.2-1.3.3.3"/><path class="k40" d="M580.1 445.7l0-.6.2-.3.3-2.9 1.4 2 .3-3 1.5 2.9"/><path class="k41" d="M600.3 445.7l.3-3.3"/><path class="k42" d="M604.8 442.4l2 0 1.7 1.5"/><path class="k43" d="M598.3 444.5l1.6.7.6-3 .4 2.6.3-.4.6.9.3-3.4"/><path class="k45" d="M589.9 441.5l1 1 .5 2.5 1.6.6 1.6.2"/><path class="k46" d="M609 442.9l.8 1.3.4-.1.1 1.9 3-1.9"/><path class="k48" d="M585 442.4l1.5-2.4 1.3 2.1"/><path class="k50" d="M589.4 442.5l20.9-.5"/><path class="k64" d="M650 448.1h0"/><path class="k76" d="M570.2 447.1l0-.4.1-1 0 2.5.2 1.3 0-4.9.2 3.7 0 .2 0 1.5.3-5.6.2 5.3.1-3.4.2 3.2 0 .2 0-3.3.1.8.1 1.4.1-4 0 .6 0 1 .1 2.1 0 1.4 0-5.5.1 4.8 0 .7"/><path class="k77" d="M611.5 444.7h0"/><path class="k83" d="M637.1 444.7h0"/><path class="k84" d="M642.5 443.6h0"/><path class="k87" d="M512.7 444.5h0"/><path class="k88" d="M571.3 441.3l0-.9.1.5.2 0 0 .1.3-.5"/><path class="k0" d="M596.2 432.4l.3.9.6.3.7 0 .5-3.4.5 1.8 1.9.2.9-1.8"/><path class="k1" d="M616.9 439.7l.2-2.7.9.4.6 2.3 0-.5"/><path class="k2" d="M602.3 439.7l1.1-1.8.6.8.5-1 1.7 1.5 1.8-3.6 0 3.4"/><path class="k3" d="M610.4 432.3l.5-1.5.6 1.6 1 1.5.2-.9"/><path class="k4" d="M591.2 431.7l.4-.6.1 2.8.5.7.3-3.6.1 0 .3 3.3.4-4.2.6.1.2 2 1.1-.8"/><path class="k5" d="M602.5 431.3l.6.3 2.8 1.7 1.8-.1.4-2.7.4.3"/><path class="k8" d="M585.2 433.1l.2-.2 0-1.6.3 2.9.1-1 .1-1.4 0-1.2.2 2.4.2-1 1.6-.6"/><path class="k9" d="M609.8 439l.3-4 .2 3 1.7 1.3.9-2.4 0-2.2"/><path class="k10" d="M596.5 435.6l.5 1.4.3-1.4.6-.2 1.8-.7.5 3.8.8-.8.6-.9.1 1.9.5-1.4"/><path class="k11" d="M591 439.8l.9-4.7.7 1.3 1.2 1.5.6-2.4.9.9.3 0"/><path class="k12" d="M580.7 439.9l.5-.8 0-.5 0-1.3.3 1.4.5-3.8 1.3.9"/><path class="k13" d="M584.1 435.5l.1 4.2.3-3.2.7 1.3.9-2.9.5 2.6 0-2.4.6 1.1.8-.7 1 2.1.5-2.2.1.6"/><path class="k15" d="M581.7 434.1l.3-.5.1-.2 0-.6 0 .6.4-1.2.1-1.5.1 2.9.3.6.2-3.8.1 2.5.7-1.8"/><path class="k16" d="M528.6 439.1l1-1.4.2-.8 2.1-2.2 1.2 5.2.9-.9.8.1.3.8.3-.7.5-6.2"/><path class="k17" d="M558.5 437.8l.4-6.8.6.5 1.1 3.5.1 1.5.1 2.2.2-1.3.3-4.1"/><path class="k20" d="M551.4 439.8l.2-3.9.8 2.5.6-1.2 1.3-3.2 1.8 2.7"/><path class="k23" d="M566.8 438.7l.5-.3.1.4.8-4.8 0 3.9.1-3.2.3.7.1 2.2.1 2.2.4-3.6.4 3.2.4-6.8"/><path class="k24" d="M562 439.8l1.5-3.2.7-4.5 1.1 5.6"/><path class="k31" d="M537.2 434.7l1 2.5 1 1.8"/><path class="k33" d="M527.4 439.3h0"/><path class="k35" d="M546.5 439.3l.7.7 1.3-4.5.2-2.9.7.6.2 5.3.4-5.3 0 2.2"/><path class="k36" d="M581.5 439.5l0-1.3.4-1.8 0 .4.5-2.5 0-.1.2.4 0 2.7.1-2 .2-3 .8.8 0 .3"/><path class="k37" d="M589.8 436.8l.6-6.3.7 7.8.1-1.2.3-3.9.4 5.2.1-.1.4-4 .4 2 .3 1.8.3-3.6 1.4 5.2"/><path class="k38" d="M602.6 438.7l.3.9"/><path class="k39" d="M584.1 434.6l1.2 2.4.1-6.5.1.7.1 4.4.3 3.4 2.4-5.5.1 4.4.2-.6"/><path class="k40" d="M581.5 438l.5-1.1.5.7.8-3.4 0 1 .2 4.4.4-6.1"/><path class="k41" d="M595.8 433.2l1.5 2.7 2.5 1.6"/><path class="k42" d="M603.5 439.8l1 .2"/><path class="k43" d="M596.5 437l.2 2.6.6-1 1.9.2 2.1-2 .6.3"/><path class="k45" d="M592.1 437.4l.3-2.5.9-.1 0 2.5"/><path class="k48" d="M587.8 435.8l1.3-4.1"/><path class="k50" d="M581.7 438.1l8.7-1.8 11.8 2.2"/><path class="k64" d="M647.2 435.3h0"/><path class="k67" d="M493.8 430.5h0"/><path class="k69" d="M536.7 434h0"/><path class="k84" d="M644.8 439.2h0"/><path class="k87" d="M513.9 439.8h0"/><path class="k88" d="M570.6 431.2l0 2.4.1-2.5.2 6.9.1 1.2.1-5 0-.8.1 1.3 0 1.4.4 2 .1.4.1-.3 0 1.2"/><path class="k92" d="M622.7 434.8l.2.3"/><path class="k93" d="M627.2 433.9h0"/><path class="k94" d="M610.1 433.6l1.4 1 2-1.5"/><path class="k122" d="M600.2 434.8l.5.8"/><path class="k124" d="M604.5 435.3l.3-1.3.1 1.1 2.7-1.3"/><path class="k0" d="M596.1 421.5l.4 8.1.5-6.8 1.3 6.6.9-7.2 1-.4.3-.9.3 2.9.1 5.9.4-.5.3-8.9"/><path class="k4" d="M590 426.4l0-5.1 1.2 1.8.3 2.4 0-3.2.2.7 1.3-2.4.7 7.7 0 1.5.1-7 .1 5 .1-4.8.6-2.3.4 8.4.5.5"/><path class="k5" d="M602.8 422.6l1.5 1.1.1 6 .5-6.4.2-2.3.2 5 .2-1 .3-2 1.4 3.1 1.7 3.4"/><path class="k8" d="M584.2 426.7l.4-1.6 2-3.8.2 1.7.4-1.6 0-1 .3 4.5.1-1.6.1 5.9 0-7.1 0 .2.2.6 0 3.3.1.6.1-1 .4 3.2.2-4.7.1.3 0 4.1.1-.5.2-7.4.1 8.5 0-1.7.1 1.1 0-7.6.1 3.4.2-1.6"/><path class="k15" d="M583.1 429l0-.1.4-.8 0-.9.4-.5"/><path class="k20" d="M550.3 428.3l1.1-.1"/><path class="k23" d="M569.7 426.8l.3 1.9"/><path class="k24" d="M562 429.2l2.3-2"/><path class="k35" d="M548 428h0"/><path class="k39" d="M585.6 429.9h0"/><path class="k48" d="M584.1 429.1h0"/><path class="k50" d="M584.9 428.9h0"/><path class="k58" d="M618 422.9h0"/><path class="k60" d="M610 422.2h0"/><path class="k70" d="M553.9 424.3h0"/><path class="k71" d="M560.4 428.7h0"/><path class="k72" d="M546.7 425.2l3.2.5"/><path class="k0" d="M596.1 418.2l.4-4.2.2 1 0 3.7.5-1.6.1-6.7.1 4.3.3-2 .3 7 1.9-6 .4-2.6.3 4.5 1.3.3.1 2.6"/><path class="k4" d="M589.8 411.9l.1 4.7.2-4.7.3 3.1 0 3 .6 1.1.2-3.2 1.4-3.3.1 1.9.2-2 .3 5.1.6-5.1.6.4.2 1.3.1-.1 1.1-1.7"/><path class="k5" d="M602.6 412.4l1 7.4.3-2 .6-5.6.1 2.3.2-1.5.1 2.5.6-1.8.2 2.3.9-5.9 0 6.8"/><path class="k8" d="M587.8 418.7l.3.7.2-1.6 0-.2.2 1.3.1-2.3 0-.7.1 4.1 0-4 .3.7.1-2.5.5 1.7"/><path class="k58" d="M618.2 416.7h0"/><path class="k60" d="M610.3 415.2h0"/><path class="k86" d="M529.4 412.4h0"/><path class="k0" d="M597 405.7l0 2.4 1.9.5.6-6.2.4 6.9.9-2.2.9-1 .2-2.3"/><path class="k4" d="M589.9 409.2l.3-2 .2 1 .2-2.4.1-2.1.3-2.9.1 6.3 0 1.9.1-2.9.2 1.6.7-1.4.4-1.9.7 4 .5-2.7.3.9.1 2.9.2-6.7.2 3 1.1-.1"/><path class="k5" d="M603.9 409l2.6-4.3.3 1.9.6 2.7"/><path class="k86" d="M532.9 406h0"/><path class="k0" d="M601.6 399.9h0"/><path class="k4" d="M592.7 398.8l.6.5"/><path class="k59" d="M592.9 390.4h0"/><path class="k63" d="M628.6 393.2h0"/><path class="k69" d="M539.3 398.4h0"/><path class="k63" d="M625.2 386.5h0"/><path class="k60" d="M609.2 379.1l3.9-1.9 0 2.3"/><path class="k61" d="M602.2 379.5h0"/><path class="k62" d="M606.9 373.3l.7 3.6"/><path class="k127" d="M638.6 360.9h0"/><path class="k58" d="M618.5 359.4h0"/><path class="k59" d="M591.4 352.4l.3 7"/><path class="k125" d="M649.2 354.3h0"/><path class="k58" d="M618.8 349.3l.5-2.8"/></g><path d="M640 375L628.6 393.2M622 409.5L618.2 416.7M520 384.5L553.9 424.3M527 436L536.7 434M602 344.5L602.2 379.5M606 344.5L606.9 373.3M609 344.5L607.6 376.9M612 344.5L609.2 379.1M616 344.5L613.1 377.2M625 344.5L613.1 379.5M628 353L610 388M648 350L625.2 386.5" stroke="#000" stroke-width=".45" fill="none"/><g class="lb"><text x="602.8" y="344.7" text-anchor="middle">P06733</text><text x="610.1" y="344.7" text-anchor="middle">P06733</text><text x="617.3" y="344.7" text-anchor="middle">P21333</text><text x="624.6" y="344.7" text-anchor="middle">P09493</text><text x="631.9" y="344.7" text-anchor="middle">O75369</text><text x="610.7" y="344.8" text-anchor="middle">Q9UBF2</text><text x="617.2" y="344.7" text-anchor="middle">P68371</text><text x="623.8" y="344.6" text-anchor="middle">P06733</text><text x="626.2" y="349.7" text-anchor="middle">Q96KK5</text><text x="593.7" y="356.7" text-anchor="middle">Q96QV6</text><text x="596" y="363.7" text-anchor="middle">Q96A08</text><text x="620" y="355.9" text-anchor="middle">P0C0S8</text><text x="610" y="363.7" text-anchor="middle">Q93079</text><text x="620.8" y="368.3" text-anchor="middle">Q9BTM1</text><text x="651" y="346.6" text-anchor="middle">P30613</text><text x="653.4" y="352.4" text-anchor="middle">P08833</text><text x="638.6" y="355.9" text-anchor="middle">O95561</text><text x="644.8" y="374.1" text-anchor="middle">Q9UBR2</text><text x="592.1" y="389.3" text-anchor="middle">P17028</text><text x="624.7" y="408.2" text-anchor="middle">P16050</text><text x="648.7" y="433.9" text-anchor="middle">P23526</text><text x="652.6" y="438.1" text-anchor="middle">P40926</text><text x="651.8" y="443.5" text-anchor="middle">P09211</text><text x="513.9" y="384.4" text-anchor="middle">P14618</text><text x="533.6" y="394.5" text-anchor="middle">P07355</text><text x="532.3" y="403.6" text-anchor="middle">P02304</text><text x="524.5" y="411.2" text-anchor="middle">P07195</text><text x="542.8" y="423.4" text-anchor="middle">P06603</text><text x="532.3" y="431.7" text-anchor="middle">P12532</text><text x="520.9" y="436.1" text-anchor="middle">P60033</text><text x="506.9" y="438.7" text-anchor="middle">P13473</text><text x="497.6" y="429.1" text-anchor="middle">P31949</text></g><rect x="473.6" y="341.5" width="184.9" height="121.9" fill="none" stroke="#d6d6d6" stroke-width="1.3"/><path d="M498.1 464v1.1M535.7 464v1.1M573.3 464v1.1M610.9 464v1.1M648.5 464v1.1M473 458h-1.1M473 423.6h-1.1M473 389.2h-1.1M473 354.8h-1.1" stroke="#333" stroke-width=".5"/><g class="tl"><text x="498.1" y="467.7" text-anchor="middle">-10</text><text x="535.7" y="467.7" text-anchor="middle">-5</text><text x="573.3" y="467.7" text-anchor="middle">0</text><text x="610.9" y="467.7" text-anchor="middle">5</text><text x="648.5" y="467.7" text-anchor="middle">10</text><text x="471.4" y="459" text-anchor="end">0</text><text x="471.4" y="424.6" text-anchor="end">5</text><text x="471.4" y="390.2" text-anchor="end">10</text><text x="471.4" y="355.8" text-anchor="end">15</text></g><text class="at" x="566" y="471.3" text-anchor="middle">log2(FC)</text><text class="at" transform="translate(467.4 402.4) rotate(-90)" text-anchor="middle">-log10(p-value)</text><defs><linearGradient id="g8" x1="0" y1="0" x2="0" y2="1"><stop offset="0.0" stop-color="#ff0501"/><stop offset="0.1" stop-color="#fa4e30"/><stop offset="0.2" stop-color="#f27153"/><stop offset="0.3" stop-color="#e78d76"/><stop offset="0.4" stop-color="#d6a79a"/><stop offset="0.5" stop-color="#bebdbe"/><stop offset="0.6" stop-color="#b09dcd"/><stop offset="0.7" stop-color="#9d7ddb"/><stop offset="0.8" stop-color="#845ce7"/><stop offset="0.9" stop-color="#6139f3"/><stop offset="1.0" stop-color="#0000ff"/></linearGradient></defs><rect x="664" y="391.7" width="5.8" height="26.3" fill="url(#g8)"/><text class="lg" x="664" y="390.1">FoldChange</text><g class="ll"><text x="671.2" y="393.1">10</text><text x="671.2" y="399.6">5</text><text x="671.2" y="406">0</text><text x="671.2" y="412.4">-5</text><text x="671.2" y="418.9">-10</text></g><defs><clipPath id="c9"><rect x="10" y="507.4" width="185.5" height="122"/></clipPath></defs><text class="ttl" transform="translate(106.5 493.7) scale(1 1.06)" text-anchor="middle">K151</text><path d="M37.7 507.4V629.4M72.7 507.4V629.4M107.7 507.4V629.4M142.7 507.4V629.4M177.7 507.4V629.4M10 612.2H195.5M10 588.1H195.5M10 564H195.5M10 539.9H195.5M10 515.8H195.5" stroke="#f5f5f5" stroke-width=".55" fill="none"/><path d="M20.2 507.4V629.4M55.2 507.4V629.4M90.2 507.4V629.4M125.2 507.4V629.4M160.2 507.4V629.4M195.2 507.4V629.4M10 624.3H195.5M10 600.2H195.5M10 576.1H195.5M10 552H195.5M10 527.9H195.5" stroke="#ebebeb" stroke-width=".6" fill="none"/><path d="M118.2 507.4V629.4M132.2 507.4V629.4M10 619.6H195.5" stroke="#a8a8a8" stroke-width=".8" fill="none"/><g clip-path="url(#c9)"><path d="M28 623.4 125.6 623.6 132.5 622.3 143.4 620.2 155.8 619 172.8 618.5 172.8 617.3 160 617.2 150 616.5 140 615.5 134 614.5 130 615.5 128 619 126 621 124 619.5 120 617 115 616.2 100 617 80 618.7 60 619.8 40 620.9 28 621.5Z" fill="#111"/><path class="dt" d="M20.6 622.4h0m.9-.7h0m1.3.8h0m1.7-.4h0m5.1.8h0m.9 0h0m3.5-1.4h0m1.1 0h0m3.7.9h0m1.8-1.5h0m1.5 1.3h0m.2-.3h0m2.3 1h0m2.5-1.4h0m1.6-.6h0m.4 1.5h0m2.7-2.1h0m.5 1.8h0m.7.3h0m1.6-.8h0m.2 1.4h0m.2-1.6h0m.2 1.6h0m0-2.6h0m.9 2.4h0m.9-2.7h0m1.3 1h0m2-1.6h0m1.7 0h0m1.1.7h0m.9.7h0m3.2 1.5h0m1.7-.9h0m1.8-.7h0m0 .1h0m1.3 2h0m.2-1.3h0m.8-3h0m.2 1.6h0m.5 2.1h0m.2-1.9h0m.1-1.4h0m0 1.2h0m.2-.2h0m0-.5h0m.8 2.5h0m.3.8h0m.3-1.7h0m2.2-.5h0m.8 2.2h0m.9-4.6h0m.4 2.2h0m1.4-2.5h0m.6 4.6h0m0-4.4h0m2.1 4.5h0m1.4-4.9h0m.4.4h0m.2.2h0m.4 2.5h0m.3 2h0m1.6-4.8h0m.3 4h0m1.7-4.9h0m1.3 3.9h0m.4-1.1h0m1.6 3h0m.3-.5h0m2.4-1h0m1-.4h0m1.9-.9h0m.1-.7h0m.2 2.3h0m0-2.5h0m1.2-2.5h0m.2 4.7h0m.2-2.6h0m1.2.4h0m0-1.4h0m.1 2.7h0m.1-4.1h0m0 2.4h0m.2-.6h0m.6 4.5h0m.7-3.6h0m1.2 2.4h0m.6-3.7h0m.1-1.2h0m.3.8h0m.2 1.3h0m.9-2.7h0m.2 4.2h0m1.3 2.6h0m.9-1.2h0m1.4.5h0m3.3-3.5h0m.5 1.3h0m1 .7h0m.8-3.3h0m.7 4.2h0m.3-.3h0m.6-3.3h0m.4 3.9h0m.1.3h0m1.2-5.9h0m.7 4.7h0m.6-.7h0m.6 0h0m.3-.8h0m.4 1.1h0m.4 2.3h0m.2-2h0m.1 1.4h0m1.6.4h0"/><path class="k67" d="M18.4 622.5h0"/><path class="k1" d="M167.5 615l.7 0 2.4 1.4.3-3.6 1.2-.8.1 4.5.7-4.3"/><path class="k2" d="M154.5 610.2l.4 5.6.2-1.5.5-2.5 0 1.9.4-1.6.2-1.3"/><path class="k9" d="M160.1 611.4l.3 4.8 1-5.5.5 4.8 1.3-3.1 1.2 2.8.1-4.4 1.2 4.9.7-3.3"/><path class="k10" d="M147.1 613.3l1.3-2.2.2 2.7.5-3.8 2.2 1.5.6 0 .5 2.2.4-1.9"/><path class="k11" d="M141.4 610l.3 4.7.3-4.6.1 6.1 1.2-2.6.1.9.5-.7.6-2 .4-1.4.1 6 .6-2.9.1 2.9 0-1.6.7-1.7.2 3.2"/><path class="k12" d="M132.4 616.3l.6-1.8.4 2 .1-1 .2-.8.2.8 1.3-1.2"/><path class="k13" d="M136.1 611.7l.5 2.1.6 2.4.2-5.8 2.2-.3.9 3.6.1 2"/><path class="k14" d="M174.4 611h0"/><path class="k16" d="M83.5 610.2h0"/><path class="k18" d="M74.5 611l1.1.1.7 5.9.8-5 1.5 3.1.5-3.6.4 3.6.9-1.5 1 2.8"/><path class="k19" d="M99.5 615.4l.4-3.9 0 3.5.3-1.1.7.9.2-1.1.5 3 0-1.5.6-3.4.3-.8"/><path class="k20" d="M108.3 610.3h0"/><path class="k21" d="M90.8 615.2l.9-2.2.1-.2.2-.7.1 4 .4-2.6.5 2.9 0-3.9.4 1.2.2 1.7.3-4.8.8 4.9.9-2.5.1 3.7.2-2.3 0 .2.1-1.5"/><path class="k22" d="M55.9 614.3l1.8-1.1.3 1.8 1.6 1.4 2.5-2.2"/><path class="k25" d="M109.6 617.2l1.1-2.3 1.5-3.7.1 3.5.1-.9 1.6 0"/><path class="k27" d="M49.7 616.9l2.6-.2.6-.9"/><path class="k28" d="M118.9 611.4l.6 3.2.2-.2 0 .1.3-2.9.4.2.3 2.3.1 1.4.3-.1"/><path class="k29" d="M114.2 614.9l.1-1.9.2 3.7.1-2.6 0-2.8 1.7 5.4.5-2.3.2-2 .1 4.8.2-2 .2 1.6.1-1.1.7 0"/><path class="k30" d="M82 613.5l1 1.5.1 2.1 1.9-1 0-.1.7-1.3 1.1-1.1.8 1.9.6-.6.9 1"/><path class="k32" d="M103 613.9l0-2.6 1.1 1.1.8-.9.1 2.6.1-1.5.5-1.9.1 4.9 0-4.1.1 4.7 0-3 .1.9 1-3.4"/><path class="k34" d="M65.2 615.2l0-1.5 4.2.3 1.2-.3.7-.7.7 4.3"/><path class="k36" d="M132.8 615.1l0 1.5.1.2.1-3 .1.9.2 2.1.1-5.9.4 3.3.2-3.8.1 3.5.1 1.3.3-.9.2.1.2-2.3.2-1.4 0 5.1 0-2.4.3 2.1.1-5.2"/><path class="k37" d="M141.1 616.5l.1-2.6.9 2.6.6-4.5.4 1.6 0-1.2 1.2-1.9.4 5.9.4-1.5.2.8.1-.7 0 .2 0-4 .4-.7.7 5.5.4-1.7 0 2.3"/><path class="k38" d="M153.5 611.3l.8.1.1 3.1 1-4.3.1.2.4.6.5.6.3-.3.3-.2.6 2 .9 2"/><path class="k39" d="M136.2 612.4l.5.4 0-2.7.8.7.1 2.5.5-.3.2.7.6-1.1.5 3.6.5-2.3.5-.1.2-1.2"/><path class="k40" d="M132.7 615.6l.4-2.4.6 3.1 0-3.2.1 2.2 0-5.1.5 1.3.1 1.6"/><path class="k41" d="M147.7 616.2l2.1-2.4.4-3.2"/><path class="k42" d="M155.3 610.9l3.7 2.9.6-.2"/><path class="k43" d="M147.7 613.8l.6.2.2-1.6 1.7-1.2.1 1.5.4-2.1.4 5.5.4-4.8 1-.6.3-.7"/><path class="k45" d="M142.2 616.5l1.2-1.5 1.1 1.7 1.3.2.2-.9.3.9"/><path class="k46" d="M159.8 616.1l.7-2.9.7 1 1.7 1.2 1.5-.2.3-.5.8.3.2.5"/><path class="k48" d="M136.2 610.8l.9 5 .3-1.4.2.8.8.6 1.5.1"/><path class="k50" d="M137.1 613.8l1.1-.1.1-1.8 24.3 2.3"/><path class="k67" d="M50.8 619.4l4-7.9"/><path class="k77" d="M162.1 613.7h0"/><path class="k89" d="M63.4 611.2h0"/><path class="k0" d="M147.9 602.8l.2 1.3 2.2-.2 1.6.8 1-2.9 0 .8"/><path class="k1" d="M168.3 609.3l.6-3.4 2.5.6 1.7 2"/><path class="k2" d="M153.4 608.4l2.3.4 2-2.9 1.2 1.9"/><path class="k3" d="M160 605l0 .4.3-5.3.1.1 1 4 .2-4 .3 1.2 1.4 1.9 1.6-2.5"/><path class="k4" d="M141.6 600.7l.2-.1.2 4.4 3.3-4.6"/><path class="k5" d="M155.4 603.3l.3 1.6 1.7-3.1.7 1 .5-1.1.4 2.5.4.9"/><path class="k6" d="M169.4 605.2l2.2-3.9 1.2.5.2-1.5.1 2.6"/><path class="k8" d="M135.9 605.3l.3-.8 2-2.1.1.5.2-2.6.7 3.8.2-3.4"/><path class="k9" d="M161.3 606.7l2.2 2.5.3-1.3 2.5 1.1"/><path class="k10" d="M147 605.8l1.8 3.2 0 .3.9-2.3.2 2 1.8-1.5 1.1 2.1"/><path class="k11" d="M145.1 606.8l.5 2.4.2-.4.1-2.2"/><path class="k12" d="M135 606.8l.4 1.6"/><path class="k13" d="M135.7 609l.2-3.3 1.6 1.5 1.9-.1.3-.3"/><path class="k14" d="M174.9 608.9l1-1.5.2 2.4.6-.6.9-3.4"/><path class="k15" d="M135.1 604.8l0-1.9.2 2 .1-1.9"/><path class="k16" d="M81.9 605.4l.8-.6 1.9 3.1 2-3.3.2 1.1"/><path class="k17" d="M109.6 610l.3-9.2 1 4.3.2-.3.3-2.8.8-.5.2 2.3.5-1.3 0 5.8.1 1.6.5-9.1.2 5.4.1-.6"/><path class="k20" d="M103.8 600.7l.9 2.4 1.1-1.8.1 5.4 0-5.2.8 7.7 1.9-8.6.2-.2"/><path class="k23" d="M119.9 609.4h0"/><path class="k24" d="M114.2 602.2l.5 2 1.3-.8.2-2.7 0 8.4.3-8.5.4 7.3.3 1.2.4-4.3"/><path class="k31" d="M89.3 602.4l1.7 5.4.9 1.1 1.2-6.3.3.2 1.1 3.9 1.6-3.1"/><path class="k33" d="M74.2 607l.7.4.8 1.6 1.1-.9 2.2-.8 2.1-.3"/><path class="k35" d="M96.3 609l.1-8.5 0 .4 1.5 6 2.9-3.4 1.9 4.9"/><path class="k36" d="M133.5 609.2l0-.9.1-1.3.4-2.7.1-.6.2 4.2.1-3.1.1 4.8.1-6.2.1 5.7 0-2.1.6-3.5 0-2.2 0 .6.1 4.8.1-1.1"/><path class="k37" d="M142.4 609.2l.7-2.4.1-1.2.8 3.6.4-1.8.5-3.7 1.8 4 .2 1.9 0-3"/><path class="k38" d="M154.2 609.3h0"/><path class="k39" d="M135.8 605.8l.1-.3 0-1.2.1 4.8.2-3.6 0 3.7 3.5-3.2.8 2.2.5-4.5"/><path class="k40" d="M133.4 609l.3-2.6.1-.1.3 3.5"/><path class="k41" d="M147.1 606.4l1.5-.6 2.4 4"/><path class="k42" d="M154.6 609.7h0"/><path class="k43" d="M147.2 607.7l.2.8.4-.5.1-1.1.4 3 .2-.3.5-2 1.1 1.9.7-1.8 1.5 1.1"/><path class="k45" d="M141.3 606.7l.6 1 2.7.9 1.2-4 .1-.1 1 1.7"/><path class="k48" d="M135.7 606.5l.1 2.5 1-1.5.1-2.7 0 .8.9.8 0 .8.4 1.9.3-2.5 0 1.3.5 1.7.1-3 1.8 2.7"/><path class="k63" d="M175.9 607.3h0"/><path class="k68" d="M79.7 603.6l1.2 4.4"/><path class="k69" d="M95.1 601.9h0"/><path class="k70" d="M105.1 600.6h0"/><path class="k72" d="M96.9 605.7h0"/><path class="k73" d="M174.5 602.7l2 2 .9-1.6"/><path class="k83" d="M187.1 608.1h0"/><path class="k0" d="M147.4 591.4l.2 8 .1-5.5 1 3.6.3-3.6.1 4.2 2.9-2.4.2 1.2.3-2 .3 1 .3-5.3"/><path class="k3" d="M160.6 592.7l.3 2.8.5.1 1.8 3.9.7-.7.1-.9 0-7.5.1 7.6 1.2-3.3 1.1 2.3"/><path class="k4" d="M141.9 599.9l.1-.2.8-5.5.7-1.9 2 5.9 0 .7.2-6.9.1 4.1 0 2 .8-3.6.2 1.4"/><path class="k5" d="M153.9 595.9l.6 3.3.9-.2.7-3.3.6 4.1 1-4.9.4-.5.1-.7.2.7.8 4.3"/><path class="k6" d="M167 594.2l1.8 1.9.4.1 1.1-2.7.6 0 .2-2.2.4 8.4 0-5.1.4-2.3.8 6.4"/><path class="k8" d="M136.9 595.6l.1 1.6 1.1-5.3 1.3 3.2.3 1.1.2-4"/><path class="k17" d="M111.7 596.9l.2-.4"/><path class="k24" d="M115.9 598.6h0"/><path class="k35" d="M98.7 598.6h0"/><path class="k63" d="M179.8 598.8h0"/><path class="k71" d="M109.5 591l1.2 8.8 2.8-3.2"/><path class="k73" d="M173.6 593.6l1.7 1.9.3-5.4 0 6.6.5 2.5.8-7.9.5 5.9.6 1.8.4-3.8.2 1.7.7-3.6.5-2.7"/><path class="k83" d="M182.9 592.6h0"/><path class="k128" d="M181 596.6h0"/><path class="k0" d="M147.2 584.9l.2 3.3 1.8-4.4 2.3-2.4 1 7.5.5-4.1"/><path class="k3" d="M160.1 589.8l1.6-3.5.1 2.2.9-6.9 1.3 6.4.6-4.3 1.6 4.7"/><path class="k4" d="M141.1 584.7l.2-.6.7-1.1.1 3 .5 2.5 1-8 .3 9.3.3-8.9 1.8 1.3.1 5.2.8-5.8"/><path class="k5" d="M157.8 581.9l0 4.8 1.4-1.7"/><path class="k6" d="M167.3 589.8l.6 0 1-6.5.3 4.9.3-.6 1.1-2.4.6-.3.6 1.3"/><path class="k8" d="M138.9 587.9l.5 1.5.1.3.7-.8.2-.2.1 0 .1-.7"/><path class="k63" d="M175.9 584l0 3.6"/><path class="k70" d="M104.2 589.6h0"/><path class="k72" d="M99.9 587.9h0"/><path class="k73" d="M174.2 584.1l1.4.8 1.4 4.8"/><path class="k0" d="M147.5 572.3l1.1 2.5 0 3.4.9 1.1.6-9.2 1 5.8"/><path class="k3" d="M160.1 570.9l1.9 2.4.5-.7 1.8-.3.1 1.3.2.9"/><path class="k4" d="M144.5 576.4l.2 2 .3-.5.6-2.7"/><path class="k5" d="M154 577.8l2.1-4 0-1.8.4 7.6.6-6.6.3 3.8 1.1-1 .6 3.6"/><path class="k6" d="M166.9 573.6l.9 3.3 0-3.2.1-2.5.7 3.6.3 3.1 2.8-1.1.5-2.3.4-1.5"/><path class="k73" d="M174.3 577.6l.2 1.1.7-5.8 1.3-2.5.4 3 1 6.3.3-8.9 1 5.6 0 .8.2-6.3.2 7.6"/><path class="k0" d="M148.4 569.7l1.7-3.7.2 3.1 1.4-.3"/><path class="k3" d="M163.9 564.6l2.4 4.3"/><path class="k5" d="M153.4 560.5l.1 5.7 2.9.9.2-.6 2.9 2.8"/><path class="k6" d="M167.1 563.8l.7 3.5 1.5-1.2.2-2.4.4 0 1.9.9"/><path class="k59" d="M144.9 564.7h0"/><path class="k73" d="M174.9 563.4l4-1.8.2 2.7.6.9"/><path class="k3" d="M162.7 559.5l3-6.6.1 5.9.1-1.8"/><path class="k5" d="M154.8 559.5l1.9.3 2.1-6.5.1 6.6.1-5.7"/><path class="k6" d="M166.6 556.4h0"/><path class="k60" d="M159.7 551.2h0"/><path class="k73" d="M174.5 556.1l1.2-4.5 1 .1 2.7 6.4"/><path class="k128" d="M181.7 556.3h0"/><path class="k3" d="M164.3 547.1h0"/><path class="k58" d="M171.3 541h0"/><path class="k60" d="M159.7 542.2l6.2 1.1"/><path class="k62" d="M158.6 546.8h0"/><path class="k83" d="M180.9 549.9h0"/><path class="k60" d="M163.5 531.3l2.4 5.5"/><path class="k63" d="M176.7 539.9l.3-8.9"/><path class="k83" d="M182.6 533.7h0"/><path class="k129" d="M162.5 512.4h0"/></g><path d="M97 580.5L104.2 589.6M112 590.5L113.5 596.6" stroke="#000" stroke-width=".45" fill="none"/><g class="lb"><text x="158.6" y="516.7" text-anchor="middle">P60842</text><text x="159.7" y="530.2" text-anchor="middle">P49411</text><text x="173.6" y="529.4" text-anchor="middle">P18206</text><text x="187.6" y="532.5" text-anchor="middle">P00367</text><text x="159.7" y="535.3" text-anchor="middle">P05141</text><text x="183.7" y="538.7" text-anchor="middle">P14618</text><text x="154.2" y="541.1" text-anchor="middle">P67936</text><text x="169" y="540" text-anchor="middle">P35579</text><text x="182.9" y="544.5" text-anchor="middle">P06576</text><text x="155.8" y="546.2" text-anchor="middle">P08238</text><text x="174.4" y="549.6" text-anchor="middle">P02545</text><text x="151.1" y="551.1" text-anchor="middle">P05388</text><text x="138.7" y="569" text-anchor="middle">P30050</text><text x="180.6" y="582.1" text-anchor="middle">P06620</text><text x="178.3" y="591.1" text-anchor="middle">P14649</text><text x="186.8" y="596.1" text-anchor="middle">P07327</text><text x="182.9" y="603.1" text-anchor="middle">P07339</text><text x="189.9" y="612.4" text-anchor="middle">Q15050</text><text x="92.9" y="579.9" text-anchor="middle">Q92794</text><text x="105.1" y="583.8" text-anchor="middle">P60156</text><text x="89.3" y="586.9" text-anchor="middle">Q9NRH0</text><text x="113" y="589.9" text-anchor="middle">Q9BLX3</text><text x="90.2" y="591.7" text-anchor="middle">A0A0G2</text><text x="100.7" y="596.4" text-anchor="middle">P10809</text><text x="98.1" y="601" text-anchor="middle">P31930</text><text x="75.3" y="602.2" text-anchor="middle">P68032</text><text x="89.3" y="605.7" text-anchor="middle">P13364</text><text x="68.3" y="610.1" text-anchor="middle">Q9NQ05</text><text x="50.8" y="615.7" text-anchor="middle">P23267</text><text x="40.3" y="622" text-anchor="middle">P01857</text></g><rect x="10" y="507.4" width="185.5" height="122" fill="none" stroke="#d6d6d6" stroke-width="1.3"/><path d="M20.2 630v1.1M55.2 630v1.1M90.2 630v1.1M125.2 630v1.1M160.2 630v1.1M195.2 630v1.1M9.4 624.3h-1.1M9.4 600.2h-1.1M9.4 576.1h-1.1M9.4 552h-1.1M9.4 527.9h-1.1" stroke="#333" stroke-width=".5"/><g class="tl"><text x="20.2" y="633.7" text-anchor="middle">-15</text><text x="55.2" y="633.7" text-anchor="middle">-10</text><text x="90.2" y="633.7" text-anchor="middle">-5</text><text x="125.2" y="633.7" text-anchor="middle">0</text><text x="160.2" y="633.7" text-anchor="middle">5</text><text x="195.2" y="633.7" text-anchor="middle">10</text><text x="7.8" y="625.3" text-anchor="end">0</text><text x="7.8" y="601.2" text-anchor="end">5</text><text x="7.8" y="577.1" text-anchor="end">10</text><text x="7.8" y="553" text-anchor="end">15</text><text x="7.8" y="528.9" text-anchor="end">20</text></g><text class="at" x="102.8" y="637.3" text-anchor="middle">log2(FC)</text><text class="at" transform="translate(3.8 568.4) rotate(-90)" text-anchor="middle">-log10(p-value)</text><defs><linearGradient id="g9" x1="0" y1="0" x2="0" y2="1"><stop offset="0.0" stop-color="#fb4629"/><stop offset="0.1" stop-color="#f5684a"/><stop offset="0.2" stop-color="#ec836a"/><stop offset="0.3" stop-color="#de9c8a"/><stop offset="0.4" stop-color="#ccb2ab"/><stop offset="0.5" stop-color="#b9b1c4"/><stop offset="0.6" stop-color="#ab93d1"/><stop offset="0.7" stop-color="#9876de"/><stop offset="0.8" stop-color="#8058e9"/><stop offset="0.9" stop-color="#5e36f4"/><stop offset="1.0" stop-color="#0401ff"/></linearGradient></defs><rect x="200.9" y="557.9" width="5.8" height="26.8" fill="url(#g9)"/><text class="lg" x="200.9" y="556.3">FoldChange</text><g class="ll"><text x="208.1" y="564.4">5</text><text x="208.1" y="571.3">0</text><text x="208.1" y="578.2">-5</text><text x="208.1" y="585.1">-10</text></g><defs><clipPath id="c10"><rect x="242.3" y="507.7" width="185.2" height="121.3"/></clipPath></defs><text class="ttl" transform="translate(338.2 494.3) scale(1 1.06)" text-anchor="middle">L014</text><path d="M251.8 507.7V629M285 507.7V629M318.1 507.7V629M351.3 507.7V629M384.4 507.7V629M417.6 507.7V629M242.3 609.5H427.5M242.3 580.7H427.5M242.3 551.9H427.5M242.3 523.1H427.5" stroke="#f5f5f5" stroke-width=".55" fill="none"/><path d="M268.4 507.7V629M301.6 507.7V629M334.7 507.7V629M367.8 507.7V629M401 507.7V629M242.3 623.9H427.5M242.3 595.1H427.5M242.3 566.3H427.5M242.3 537.5H427.5M242.3 508.7H427.5" stroke="#ebebeb" stroke-width=".6" fill="none"/><path d="M328.1 507.7V629M341.3 507.7V629M242.3 618.2H427.5" stroke="#a8a8a8" stroke-width=".8" fill="none"/><g clip-path="url(#c10)"><path d="M255 624.4 334.7 624.4 342.4 621 353.3 617.8 365.7 616.6 385 616.5 402.9 616.5 402.9 615.3 385 615.2 368 614.8 356 613 348 611 343 612 339 617 336 621.5 334.5 622 332 619.5 328 618.3 320 618.2 300 619.3 280 620.6 255 622Z" fill="#111"/><path class="dt" d="M244.3 622.2h0m1.6 1.2h0m.9-2.4h0m3 1.2h0m.2-1.5h0m3.5 2.5h0m.6-3.1h0m.3 1.4h0m.7 1.6h0m.6.8h0m1.2-1.9h0m2.6 1.2h0m.9.1h0m.7.1h0m1.2 0h0m.2-1h0m2.7-1h0m3 1.7h0m.9-2h0m1.2.5h0m1.5 0h0m.4-.4h0m4.7 2.2h0m.2-2.9h0m.2.9h0m1 0h0m1.3 1.6h0m.9-1.9h0m0 .8h0m.2-.4h0m.3 1.9h0m.5-.8h0m1.4-2.5h0m.8 1.6h0m.4 1.1h0m1.8-1.7h0m.5-.7h0m1 .1h0m1.1 1.9h0m1.3-2.1h0m.9 2.7h0m.7-1.6h0m.9.9h0m.2-.2h0m.4-2.5h0m0-.2h0m.7 3.7h0m.7-1.9h0m.4-.7h0m.4.3h0m1.5 2.1h0m.9-3.3h0m.4-.5h0m.4.4h0m.3 1.6h0m.5-1.4h0m.7.3h0m.5 2.8h0m.4.6h0m1.1-4.3h0m.7 2.9h0m2.1-.4h0m.6-2.1h0m.1 2.1h0m.7.4h0m.3-1.2h0m.6 1.5h0m.4-1.4h0m.5-1.8h0m.6.8h0m0-.5h0m2.3-1.1h0m.2 4.8h0m2-2.4h0m.7.1h0m.2.1h0m.4 1.7h0m0-2.5h0m.7 1h0m.6-1.3h0m0 1.9h0m.1 1.2h0m.7-2.3h0m0 1.7h0m3.1.8h0m.2.2h0m.5-.7h0m.7-4.7h0m1.1 3.5h0m.6-2h0m.2.4h0m1.1-.3h0m1.8-.8h0m0 1.6h0m1-1.2h0m.7 2.8h0m2.5.8h0m1.3-1.5h0"/><path class="k1" d="M384.5 610.7l3 .4.1-.7"/><path class="k2" d="M371.4 613.4l1.1-.3"/><path class="k7" d="M399 611.5h0"/><path class="k9" d="M375.4 610.4l2.4.9.6.8.4-.8"/><path class="k10" d="M359.8 610.3l1.4-.1 0 .8 1-.8.7 2.4 2-.2"/><path class="k11" d="M355.4 613.2l1.1-2 1 .1.5-1.2"/><path class="k12" d="M342.5 612.5l.2-2.3.4.9.2 1.9.9-2.9.1 3.3.2-2.9.4 1 .4-.5.9 2.5"/><path class="k13" d="M347 611.3l.8 1.1 1-.4.8-1.4 1.1 1.2.3-1 0-.6 1 3.1"/><path class="k14" d="M395.1 612.5h0"/><path class="k16" d="M285.8 614l.8.3 3.3 2.3"/><path class="k17" d="M317.9 611.6l.9 3.5"/><path class="k18" d="M277.3 618.7l1.3-2 .7 1 3-.9"/><path class="k20" d="M314.5 612.4h0"/><path class="k21" d="M294.9 617.9l2.1-.7.8.7 1.3.7 1.5.2.4-2.1"/><path class="k22" d="M263.2 618.9h0"/><path class="k23" d="M327.3 614.2l1.9-1.8.9 4.1.2-.7.1 0"/><path class="k24" d="M323.6 611.7l2.5 4.2"/><path class="k25" d="M316.3 619l2-1.5 0 .9 1.2-1.4"/><path class="k28" d="M327.6 616.9l.1 1.4 1.2.3 1.4-.5"/><path class="k29" d="M322.4 618.1l.1-.9 2.7 0 .3 1.6"/><path class="k30" d="M286 617.5l5.3 1.4.2-1.1 1.7 1.1"/><path class="k31" d="M294 615.4l1.3-.6.5 0 1.4 1.2.7-2.7 1.2 2.5.3-.6 1.2.9"/><path class="k32" d="M309.3 618.5l1.8.4 3.8-.2"/><path class="k33" d="M283.4 615.1h0"/><path class="k34" d="M265.7 618.6l3.5.1 1.9-1.3.6-.1 1.8-.2"/><path class="k35" d="M304.8 614.7l4.1.3"/><path class="k36" d="M342.9 612.2l.1-.5.3.6.3-.8.2 2 0 .3.1-2.1.1 3.3.1-2.1.4-.1 0-.4.4.5.1-2.6.9.3.1 3.8.6-2.4"/><path class="k37" d="M356 611.4l.7 2.5.3-2.6.5-.4.1 4.1 1-1.7"/><path class="k38" d="M367.7 613.9l1.8-.9 1.1 1.8.8-3.2 1 1.6.7.1"/><path class="k39" d="M347.1 610.9l.7 3.5.4-1.2 1.2-3 .5 0 1.2 1.7"/><path class="k40" d="M342.7 613.7l.2-1.3.9-.9.6 2.3.3-.7.5 1 .7.7.5-4.2"/><path class="k41" d="M360.6 611.5l3 2.2.5.7 0 .6 1.3-2.2.3 2.2"/><path class="k42" d="M368.5 611.8l1.2-.6.6.2 1 2.9"/><path class="k43" d="M360.3 613.7l1.5.5.2-.3 2.2-.6.1.6"/><path class="k45" d="M356.6 613.1h0"/><path class="k48" d="M346.7 613.6l1.2 1.2.9-4.7.9.1.1 3.1.5-2.7 1.7 1.7"/><path class="k50" d="M345.9 610.6l11.7 3.4 7.3-1.2"/><path class="k51" d="M382.7 614.4h0"/><path class="k68" d="M281 615.6h0"/><path class="k70" d="M314.9 613.7h0"/><path class="k72" d="M304.3 615.9l3.7-1.8"/><path class="k76" d="M332.4 617.3l.6 1.1"/><path class="k77" d="M379.3 613.3h0"/><path class="k84" d="M410.6 616.2h0"/><path class="k87" d="M267.4 615.6l5.3 1.3"/><path class="k88" d="M331.4 616.5l.7-.5.1-2.1.8 2.6"/><path class="k0" d="M360.7 601.9l3.1-.6.4-.1"/><path class="k1" d="M382.3 608.8l0-2.4.3-1.7.2.4 1.1 1.2.5-3.2 0 4.6.6 1 1.6 1 2.3-5.7"/><path class="k2" d="M368.3 603.8l.4-1.1.1 1.4.2 1 .3.7.8.2.1-1.5.6-.5 2.9.2"/><path class="k3" d="M375.1 601.2l2.7-.1 2.2 1.2"/><path class="k4" d="M354.7 600.7l.1 0 1.9 1.4.2-1.3.5.1.4.3"/><path class="k5" d="M367.9 600.7l5.3.1"/><path class="k8" d="M346.7 600.9l.3.4.1-.5.1-.8.4 2 .7-.1.6-1.3.7.1"/><path class="k9" d="M374.8 606.6l1.2-4.3.9 6.3.7-4.6.4-.1.2-.3 1.8-.1 1.3 2.8"/><path class="k10" d="M359.9 604.6l.4.6.1-1.1.1 2.1 0 3.1.5-6.8.5 7.2.9-1.1.1-2.2 0 1.7 0-3.6.6-1.7 1.3 3.9 0 1.8.4-1.4 1.8-.3.1-2.6"/><path class="k11" d="M353.1 608.8l.7-4.2.3.1.2.7.1 1.1.4 1.1.7-3.1 0-1.2.3.8.5 2 1.5 1.4.1-4.4.9 4.9"/><path class="k12" d="M342.8 609.7l.1-.1.4-3.7.2-2.1.3-.8 0 .4.1 4.1.1 1 .1-3.5.1 4.5.2-1.5.2-3.8 0 3.6.1-3.2.1 1.7 0 .6.2 2.6.5-5.6.3 4.8.5-3.8.1 2.4"/><path class="k13" d="M346.9 609.7l.8-1.7.9-4.6.5 4.2.3 2.4.2-7 .3 3.3.1 2.2.3-5.1.3 3.9.2-4.6.3 2.4.4-.2.6 5 0-2.5.4-.2"/><path class="k14" d="M390.3 607l1.1-1.5.1 2.5 1.7-3.1 1.3.9 2.2 2.7.4.9"/><path class="k15" d="M343.7 601.5l.1-.6.1-.3.3 1.6 1.3-.6.1-1.6 0 2.3.1-.5 0-1.1.8.6"/><path class="k36" d="M343.3 608.1l.1-.9.1.9 0-.7.1-.6 0 2 .1-4.5.1 4.4 0-4.4 0 5.3.1-2.9.1-4.3 0 2.9.3.9.2-4.2.1 7 .2-6.9.1 5.2.3-4.2.1-1.9 0 .3.3 2.7.3 3.4.5 1.6.1.1.1.7"/><path class="k37" d="M353 605.2l1.5-1 .2-.5.5 6.1 3.7-2.1.1 1.5"/><path class="k39" d="M346.7 605.5l.5-4.1.4 1.2.1 3.4 1.2 2 .1-.9 0-2.7.1-1.5 0 4.5 0-1.5.8 1.7.8-1.5 0-3.5.2 2.2.8 2 .1.1.2 2.4.9-.3"/><path class="k40" d="M343.7 605.4l.3 3.2.1-1.4 0-4 .4 2.5.2-.6.3 2.2.9 2.2.1-7.1.1 1.2.1 2.7"/><path class="k41" d="M361.2 607.5h0"/><path class="k43" d="M362.9 608.1h0"/><path class="k45" d="M353.6 607.3l.1-1.9 2.3 1.5"/><path class="k48" d="M347 600.5l.6 8.2.4.4 0-4.3.9 3.9.4-4.5.2-.6.9 4.7.6-.4.3-3.7.2 1.6 0 1.1.5-4.5 0 .5"/><path class="k50" d="M346 604.2l1.3 2.6"/><path class="k70" d="M313 609.4h0"/><path class="k0" d="M359.7 592.4l.2-.2.4 7 1-3.2.2-3.9.1 4.8.6 1.9.1-4.2.4-1.8 1.4 4.6 0-5.8.9 3 0 .4.3-2.1.5 2.5.1-1.3.4 5.4"/><path class="k3" d="M375.1 596.2l1.5 1.6.1-.3 1.5 1.3 0 0"/><path class="k4" d="M353.1 593.2l0 1.9 0-.9.2 1.6.5 0 .8 3.1.2-8.3.3 5.7 0 3.1.5-3.4.1 2.7 1.2-5.8.8 2.9.1-4.8.4.2.1-.1 0 4.2.4 2.5.7-.1"/><path class="k5" d="M369 596.7l.3-.2.5 1.3.3-1.5 1-2.9 1.1 4.8.5-6.5.3 1.3.3 3.3.5-6.1"/><path class="k8" d="M346.7 594.5l0-.4.1-3.8 0 4.2.3-.3.3-3.4.4 2.8 0-.4 0 4.6.2-2.7.1.3.5-2.3.4-1.3.1 2.5.1 4.4.1-1.5.2-5 .2.1.4.6.1 6.4.2-.1.1-6.3.2 4.2.3-5 .2-.3.3 1.3.9-1.8"/><path class="k15" d="M344.1 599.8l.2-1.3.1.4 0-.9.3-1.2 0 1.2.4 1.3.1-6.8.1 4.4.1-1.2 0-3.4.1-1.7 0 4.1 0 2.5.1 2 0-8.3.4 4.9.3-1.7.1 2.9.2-1.2"/><path class="k36" d="M344.6 599.7h0"/><path class="k58" d="M387.8 597.7h0"/><path class="k63" d="M395.1 594.1h0"/><path class="k0" d="M360.2 587.3l.3-1.6.3-.4 2.1 2.2.2-3.3.7 2.8 0-1.3.3-1.9.5 2.6"/><path class="k4" d="M353.7 583.9l.1 5 .1-4.1 1.1 3.6.8-4.6 1.3 5.2 1-3.5.4 2.8"/><path class="k5" d="M367.1 581.9l.2 7.2.1-7.5.1 3.2 1 2 .7 2.8.7-6.3.1 2.9.7-3.4.9 7.1"/><path class="k8" d="M346.8 584.6l.8 4.3.1-6.9 0-.1 1.1-.8.1 1.2 0 4 .1-3.2.6-1.6.1 8.3 1.1-7.1.2 1.5.3-2.5.5.1.1 1.8 0 .8.3-3.6.2 4.2.2 1.3.1 3 .1-3.4"/><path class="k15" d="M345.7 589.6l.3-.5.5-2.4 0 .6"/><path class="k58" d="M381.9 587.6h0"/><path class="k83" d="M402.6 581.4h0"/><path class="k0" d="M360.2 576.7l.8-6 1.3 3.4 1.9 1.7.4-.6.1-4 .8 3.1.6-2.6"/><path class="k4" d="M353 578l1.1.9.5-.7.1-3 0-4.8.2 1.7.1 4.8 1-2 .7.6.8 3.3.9-4.7 1 4.8"/><path class="k5" d="M366.8 573.4l.3 4 .2-7 .8 7.9 1.1-2.6.1 1.3.1-2.6.6-1.1 0 6.7 1.9-3.6 0-6"/><path class="k8" d="M348.9 579.9l.1-1.4.1 1 0-1.2.8-1.7.4-1.9.4-1.1.2 1.4.5 3.3.1-6.8.1-.2.2 7.3.3-7.2.5.7.1.6.2 1"/><path class="k58" d="M381.9 576.3h0"/><path class="k60" d="M378.5 577.6h0"/><path class="k0" d="M360.8 563.7l.2-.5.5 6.2.1-.8.4-7.7 2.1 2.6.4 4.8.5 1.1.5-1.4"/><path class="k4" d="M352.9 567.5l.4-.5 0-.8.6-1.7.3 5.5.2-6.5.1-.1 1.5 5.2.2 1.4.2-7.5.2 6.9.2-5 .8 3.4.1-5.7.4 6 1.1-2.3"/><path class="k5" d="M368.3 568.1l1.2-.9 1-1.4"/><path class="k58" d="M387.1 563.6l.6 3.7"/><path class="k60" d="M380.9 565.2h0"/><path class="k83" d="M401.6 569.8h0"/><path class="k85" d="M350.6 563.9h0"/><path class="k0" d="M359.9 554.9l.4 2.4.2 2.4 5-4"/><path class="k3" d="M374.7 559.8h0"/><path class="k4" d="M356.6 558.7l.7-1.3 0 1.1.3-4.6 0 2.4.2 0 .5-.9.9 1.4"/><path class="k5" d="M367.4 552.8l3.2 1.8 1.6-.4.2-.5"/><path class="k58" d="M386.6 556.9h0"/><path class="k85" d="M350.6 559.3h0"/><path class="k0" d="M365.1 540.5h0"/><path class="k5" d="M368.3 549.4h0"/><path class="k85" d="M350.6 543.8l0 2.3 0 3.9"/><path class="k125" d="M418.7 543.8h0"/><path class="k60" d="M376.5 537.2l2.8 1.9 1.1-4.6"/><path class="k62" d="M371.1 538.3l.8-4.6"/><path class="k83" d="M399 538h0"/><path class="k85" d="M350.6 533.7l0 6.2"/><path class="k60" d="M380.1 526.7h0"/><path class="k62" d="M370.8 525.6l3.1 1.1"/><path class="k85" d="M350.6 512.8h0"/></g><path d="M408 556.5L401.6 569.8M408 573.5L402.6 581.4M406 583L395.1 594.1M385 585L381.9 587.6M289 601L313 609.4M256 616.5L267.4 615.6M412 511L386.6 556.9M418 511L387.1 563.6M421 511L387.7 567.3M347 511L350.6 563.9M353 511L350.6 559.3M370 511L370.8 525.6M373 511L373.9 526.7M378 511L371.9 533.7M385 513L376.5 537.2M390 513L380.4 534.5M396 513L379.3 539.1" stroke="#000" stroke-width=".45" fill="none"/><g class="lb"><text x="347" y="510.9" text-anchor="middle">P09493</text><text x="356" y="510.9" text-anchor="middle">P02545</text><text x="348.9" y="510.6" text-anchor="middle">P04406</text><text x="350.1" y="510.6" text-anchor="middle">P20700</text><text x="372.4" y="510.9" text-anchor="middle">P62805</text><text x="378.7" y="510.9" text-anchor="middle">P68371</text><text x="385.1" y="510.9" text-anchor="middle">P11142</text><text x="391.4" y="510.9" text-anchor="middle">P62805</text><text x="375.7" y="510.6" text-anchor="middle">Q15149</text><text x="386" y="510.7" text-anchor="middle">P18206</text><text x="411" y="510.9" text-anchor="middle">Q9NZN4</text><text x="421" y="510.9" text-anchor="middle">P07437</text><text x="413.3" y="510.8" text-anchor="middle">P07900</text><text x="415.9" y="510.8" text-anchor="middle">P35579</text><text x="419" y="510.6" text-anchor="middle">P04114</text><text x="351.7" y="517.1" text-anchor="middle">Q13085</text><text x="376.5" y="514.7" text-anchor="middle">P63313</text><text x="383.5" y="516.3" text-anchor="middle">Q9BUJ2</text><text x="388.9" y="518.3" text-anchor="middle">P60660</text><text x="380.4" y="521.7" text-anchor="middle">Q9NYL9</text><text x="354" y="526" text-anchor="middle">P62979</text><text x="350.2" y="531" text-anchor="middle">P62805</text><text x="369.5" y="533.3" text-anchor="middle">P04075</text><text x="419.9" y="542.2" text-anchor="middle">P02654</text><text x="413.7" y="555.8" text-anchor="middle">Q96HP0</text><text x="412.9" y="573.3" text-anchor="middle">P22347</text><text x="412.9" y="582.2" text-anchor="middle">Q08554</text><text x="386.6" y="583.7" text-anchor="middle">P18206</text><text x="389.7" y="596.1" text-anchor="middle">Q8WUD1</text><text x="418.4" y="617.1" text-anchor="middle">Q14331</text><text x="282" y="601.3" text-anchor="middle">P08514</text><text x="262.4" y="613" text-anchor="middle">Q05639</text><text x="250.3" y="616.2" text-anchor="middle">P02538</text><text x="261.5" y="622.7" text-anchor="middle">P02768</text></g><rect x="242.3" y="507.7" width="185.2" height="121.3" fill="none" stroke="#d6d6d6" stroke-width="1.3"/><path d="M268.4 629.6v1.1M301.6 629.6v1.1M334.7 629.6v1.1M367.8 629.6v1.1M401 629.6v1.1M241.7 623.9h-1.1M241.7 595.1h-1.1M241.7 566.3h-1.1M241.7 537.5h-1.1M241.7 508.7h-1.1" stroke="#333" stroke-width=".5"/><g class="tl"><text x="268.4" y="633.3" text-anchor="middle">-10</text><text x="301.6" y="633.3" text-anchor="middle">-5</text><text x="334.7" y="633.3" text-anchor="middle">0</text><text x="367.8" y="633.3" text-anchor="middle">5</text><text x="401" y="633.3" text-anchor="middle">10</text><text x="240.1" y="624.9" text-anchor="end">0</text><text x="240.1" y="596.1" text-anchor="end">5</text><text x="240.1" y="567.3" text-anchor="end">10</text><text x="240.1" y="538.5" text-anchor="end">15</text><text x="240.1" y="509.7" text-anchor="end">20</text></g><text class="at" x="334.9" y="636.9" text-anchor="middle">log2(FC)</text><text class="at" transform="translate(236.1 568.4) rotate(-90)" text-anchor="middle">-log10(p-value)</text><defs><linearGradient id="g10" x1="0" y1="0" x2="0" y2="1"><stop offset="0.0" stop-color="#ff0100"/><stop offset="0.1" stop-color="#fb492c"/><stop offset="0.2" stop-color="#f46a4c"/><stop offset="0.3" stop-color="#eb856b"/><stop offset="0.4" stop-color="#de9c8b"/><stop offset="0.5" stop-color="#ccb2ab"/><stop offset="0.6" stop-color="#b9b1c4"/><stop offset="0.7" stop-color="#ab94d1"/><stop offset="0.8" stop-color="#9977dd"/><stop offset="0.9" stop-color="#825ae8"/><stop offset="1.0" stop-color="#623af3"/></linearGradient></defs><rect x="432.3" y="557.9" width="5.8" height="26.8" fill="url(#g10)"/><text class="lg" x="432.3" y="556.3">FoldChange</text><g class="ll"><text x="439.5" y="562.4">10</text><text x="439.5" y="568.2">5</text><text x="439.5" y="574">0</text><text x="439.5" y="579.8">-5</text><text x="439.5" y="585.6">-10</text></g><defs><clipPath id="c11"><rect x="473.4" y="507.7" width="184.8" height="121.6"/></clipPath></defs><text class="ttl" transform="translate(562.7 493.7) scale(1 1.06)" text-anchor="middle">L096</text><path d="M490.2 507.7V629.3M525 507.7V629.3M559.9 507.7V629.3M594.7 507.7V629.3M629.6 507.7V629.3M473.4 609.9H658.2M473.4 581.8H658.2M473.4 553.8H658.2M473.4 525.7H658.2" stroke="#f5f5f5" stroke-width=".55" fill="none"/><path d="M507.6 507.7V629.3M542.4 507.7V629.3M577.3 507.7V629.3M612.1 507.7V629.3M647 507.7V629.3M473.4 623.9H658.2M473.4 595.9H658.2M473.4 567.8H658.2M473.4 539.8H658.2M473.4 511.7H658.2" stroke="#ebebeb" stroke-width=".6" fill="none"/><path d="M570.3 507.7V629.3M584.3 507.7V629.3M473.4 618.2H658.2" stroke="#a8a8a8" stroke-width=".8" fill="none"/><g clip-path="url(#c11)"><path d="M500 624.2 577.4 624.2 585.2 621.7 596 618.6 610 616.7 625 616.6 637.9 616.6 637.9 615.4 625 615.3 612 615 600 613.5 590 611.5 585 612 581 616 578.5 620.5 577 621.5 575 619 571 617 565 616 550 617 530 618.3 510 619.7 500 621Z" fill="#111"/><path class="dt" d="M486.7 621.3h0m.7-.4h0m1.4 1h0m.8-1.3h0m5.4 2.5h0m.7-.8h0m1.7-1.7h0m.3-.6h0m3.7 3.7h0m5.7-3h0m3.7-.2h0m.7 1.2h0m.9.9h0m.3-2.6h0m1.3 1.3h0m.5 0h0m.5.3h0m2.1-1h0m2.7-1.6h0m.4 2.1h0m1.1 1.6h0m.6-3.5h0m.5 1.2h0m2.7-.5h0m.8 0h0m.3 2.8h0m.5-2.2h0m1.5.5h0m1-1h0m1.5 2.3h0m.8-1.2h0m1.6 1.6h0m.4-4.2h0m1.8 0h0m.3 4.5h0m.8-4.1h0m.7-.5h0m.1 1.7h0m1.2 1h0m.1.6h0m.9-4.2h0m1.5 1.5h0m.7-1h0m.4 4.6h0m1-1.4h0m0-3.9h0m.1 2.2h0m1.5-1.4h0m.3 2.1h0m1.3-1.7h0m.6.7h0m.1.7h0m.8.5h0m.1-1.2h0m.3-2h0m.5 2.2h0m.5-2.8h0m.8 3h0m.3 2.3h0m.1-4.6h0m.2 4h0m.7.1h0m.5-1.7h0m.4 2.2h0m0-2.5h0m1.2.3h0m1.1-1.4h0m3.1-2.2h0m.2 3.9h0m.4 2.6h0m.9-2.3h0m1.6-2.9h0m.7.7h0m.9 1.9h0m.5-3.7h0m.4 5.8h0m.1-1.2h0m1-3.4h0m0 .2h0m.6-.7h0m.2-.5h0m.1 2.8h0m1.4.2h0m.8-1.9h0m0-1.6h0m1.3 2h0m.5 1.1h0m1.8 2.8h0m.3-.3h0m0-2.3h0m0-.4h0m.2-2.4h0m.3.4h0m1.4 1.3h0m.4 1.4h0m1 1.5h0m.7-.2h0m.4.7h0m64.8-6.2h0m2.9 1.7h0m.9-.6h0m3.1-.8h0m0-.1h0m.1-.1h0"/><path class="k1" d="M625.1 611.7l2.5.2"/><path class="k2" d="M611 611.7l1-1.7 2.2 1.6.3-1.6"/><path class="k7" d="M639 611.2l.3-.3.1-.2"/><path class="k9" d="M619.4 611.8l.9-1.7"/><path class="k10" d="M602.2 610.8l.6.4 1.7-1"/><path class="k11" d="M594.9 610.7h0"/><path class="k12" d="M585.8 611.8h0"/><path class="k13" d="M589.5 610.5l1.3.8.2.7 1.5-1.8 1.2-.1"/><path class="k17" d="M561.1 610.2l1 .2"/><path class="k18" d="M521.4 614.1l1.1 2.9.1-.3.3-5.4 0 2 .5-2.7.3 1.7 1.6 2.4 1.4-2.1 1.1 4.6.4-1.4.1-1.2.3-3.6.7 4.2.2.4"/><path class="k19" d="M546.2 612.9l0 .6.3 2.4.8-2 .1-.7.1 1.2 0 1 .2-4.3 0 4.2.1-1.9.6 1.8.2-3.5.7 1.8 1.9-1 1.6 5.2"/><path class="k20" d="M558.2 610.1h0"/><path class="k21" d="M539.4 617.6l0-1.6.9-.2.1.2.5-2.7.3 1 .1-1.1.3.3 3.3 1.6.3-.1.1-.5.2-1.5.3 3"/><path class="k22" d="M502.4 616.7l3.8-1.8.2 2.3.6 0 0-.2 2.4 1 1.7-2.1.3.8.5.4"/><path class="k24" d="M569.6 610.1h0"/><path class="k25" d="M559.7 614.1l.1 2.3.4 1.5.2-5.8 0 5.1.1-2 0-.6.6 2.4.1-2.2.6 2.3.2-3.1.3 2.2.8-1.2.6 1.9.6.2 0 .4.1-3.7.6-2.4 0 4.7"/><path class="k27" d="M499.1 617.8l1.1-.6"/><path class="k28" d="M570.5 616.8l.3-4.1.2 1.4 0 3.4.2-4.9.1 3.1.1-1.8.1.8.2 1.4.1-4.2 0 1.6.1 1.9.1-3.3.1 5.8.2-1.1.5-3.2.1 3 .4-3.8.6 4.4.1-.3"/><path class="k29" d="M565.6 611.4l.5 5.7.2 0 .1-6.1 0 4.1.2-.4.1 1.4.1 1.7 1.1-6.4.5 6.6.4-2.7 0 2.3.4-6.2 0 4.3.4-1.6.2-.5 0 1.6.1 2.2.1-2.2"/><path class="k30" d="M530.4 610.9l0 4.8.3-2.9.2-.3.3 5.5.1-5.6.2 4.8 3.2-5.7.1-.5.7 6 .3-1.2.5 2 .9-4.1.4 3.6.4-4.8.3 5.4"/><path class="k31" d="M541.4 610.5h0"/><path class="k32" d="M553.3 614.7l.2-2.3 1.2 1.9.3-2.5.7 4.7.5-1.9.1 2 .2.2.1-4.3.8 1.6 0 3 .6-.8.4-1.9.3 2.1.3-5"/><path class="k33" d="M527.8 610.2h0"/><path class="k34" d="M512.4 616.9l1.3 1.1.6-3.4.3 3 .1.4.9-2.5.3-1.6 2.5-.5 0 4.1.1.3.5-4.6.2 1.1.4 2.5"/><path class="k36" d="M584.7 611.6l.3 1.8.1 0 1.1-1.6.4 1.9.8-3.6.2 1.7.9 1"/><path class="k37" d="M595.9 610.3l1.8 1.7.1-.5 1 .8.1 1 .2.6.1-3.1.9.2.4 2.4"/><path class="k38" d="M607.9 610.4l3.1.5"/><path class="k39" d="M589.5 610.9l0 .5.3 1.2.5 1.1.6.1.4-1.7.3-1.8 1.3 2.8.8-2.9.5.5"/><path class="k40" d="M584.9 610.1l1.2 1.2 1 0"/><path class="k41" d="M601.2 613.1l3.6-2.6 1.7.9.4-.9"/><path class="k43" d="M602.4 612.2l1.5-2 .3 1.7.8-.5.2-.4.5.5 1.1.6.2-1.2"/><path class="k45" d="M594.9 610.4l.1.6 4 1.2"/><path class="k46" d="M615.4 613.6l.4-1.6.5-1.3.2 3.2 2.2-1.7"/><path class="k48" d="M591.1 611.5h0"/><path class="k50" d="M612.8 610.4h0"/><path class="k51" d="M622.8 613.2h0"/><path class="k67" d="M500.2 614.1l0 3.7"/><path class="k76" d="M574.6 617.4l0-5.9.1 3 .4-2.5 0 2.2.1-2 .3 3.6.1-1.8 0 3.4.1-3.1.2-2.1.2 3.2 0 2.2.1-4.4"/><path class="k77" d="M617.2 613.4l.6.3 3.2-.9"/><path class="k78" d="M622.6 612.7l.9 1"/><path class="k84" d="M645.6 616.3l4.7 0"/><path class="k87" d="M516.2 614.1h0"/><path class="k88" d="M574.9 610.5l.3-.1"/><path class="k89" d="M505.7 613.1l5.3 4.7"/><path class="k130" d="M576.7 616.2l.2-.2.1-.7"/><path class="k0" d="M604.5 601.7l.4-.1 1.6 1.3"/><path class="k1" d="M622.7 605.1l2.7 4 3.5-5.1"/><path class="k2" d="M607.9 609.6l.4-.4.3-2.2 0 2.1.5.1 1.3-4 .4 3.2 0-1.7"/><path class="k3" d="M615.4 602.5l1 .5.2-1.2 2-.7 1.1-.3.7.4 1.2 1.6"/><path class="k4" d="M596.5 601.9l.4-1.8 2.5.4 1.1-.3"/><path class="k5" d="M613.3 601.8l0-.6.3.5.9 1"/><path class="k6" d="M623.1 601.3l1.8 1.4.1-2.4"/><path class="k7" d="M638 609.7h0"/><path class="k8" d="M590.2 600.1l.6.1.8.1 2 2.9.5-1.8.1 1.2"/><path class="k9" d="M614.7 603.9l2.1 5.1.2.4.3-5.1 1.8 2.8.1.1.8 1.9.3-2.2 1.1-2.9"/><path class="k10" d="M602.4 608.8l.4-.4.2-4.6 2.6-.3 1.2 3.7.5-3.5"/><path class="k11" d="M594.8 605.9l1.1-.1.5 2.8 1.5-2.7.5-.1 0 1.5.8-1.7.4-.5 0-1.6 0 .1.6 5.9"/><path class="k12" d="M585.3 609l.7-.7.1-2.2.4 3.2 0-1.4.1-3.6.4.3.7 3.4.2-2.4 0 2.7.5-1 .1 2.3"/><path class="k13" d="M589.4 608l.1-1.2.1-2.7 0 3.9.3.9.6-5.6.4 3.5 1.5.3 1 1 .1-1.9.2 1.6.1-.8.2-.9"/><path class="k14" d="M629.7 606.7l.3 1.7 1.1-1.8 1-.4.7 1.5.1-.3.6 2.6 2.1-.2"/><path class="k15" d="M587.3 602.1l.4-.6.3-.3"/><path class="k16" d="M536.9 609.7h0"/><path class="k17" d="M560.3 607.9l1 .4 1.4-1.4 1-.2 1.4-1"/><path class="k20" d="M553.3 606l2.2 3.3 1.3.3.7-2.7.1 2.8 1.3-.1.6-4.7"/><path class="k23" d="M570.2 607.2l2.2.7 1 1.1"/><path class="k24" d="M566.2 604.9l.4 3.5.8.9 1.1 0 .5-2.1.1 1.4.3.4.1.7"/><path class="k31" d="M539.2 607.5l6.3 2.1"/><path class="k33" d="M527.6 609.7h0"/><path class="k35" d="M546.6 609.7l3.4-.7.8-3.8 1.4.9.6.6"/><path class="k36" d="M585.1 608.7l.8-3 .1.5.1-.1.3 3.4.1-3.5.1 1 0-4.1.1 2.4.1-3.1.1 3.9.1 2 .3.9.2-.2.1-6.5.1 6.8.1-1.5.7-5.7"/><path class="k37" d="M594.6 601.7l.3 5.8.1 2 .6-3.5.2 2.8 1.1-1.6.6 2.7.6-6.1 0 6.2.6-6.4.2-.9.1 6.9.8-4.6"/><path class="k38" d="M609.9 609.2h0"/><path class="k39" d="M588.6 609.8l.2-1.4.1.4.2-2 .2-.9.9-4.6.4-.9.4 8 .2.8.2-.1.7-8.3.3 1.1.4 5.3.2-2.1.1-1.8 0 5.9.1-7.1.7-.5"/><path class="k40" d="M585.1 608.8l.6.5.1-2.2.1 1.6 0 .7.6-5.9.9-.4"/><path class="k41" d="M601.1 608l1.2-1.5 3.5 1"/><path class="k42" d="M608.9 608.5l3 .5.2.1"/><path class="k43" d="M601.1 605.7l.2-1.6.8 1.6 4.4.8.1 1.2"/><path class="k45" d="M595.7 609.1l1.6-.7.2-6.7 1.8 1.9 0 4.1.1-4.8"/><path class="k48" d="M588.9 605.8l1.1-1.7.6 5 3-3.4"/><path class="k50" d="M587.3 606.7l1.4-5.8 1.8 3.8 5.5-.9 3.5 3.7"/><path class="k69" d="M543.5 602h0"/><path class="k70" d="M555.6 606h0"/><path class="k83" d="M640.2 606.1h0"/><path class="k84" d="M646.9 606.1h0"/><path class="k87" d="M519.7 605.7h0"/><path class="k88" d="M574.2 607.8h0"/><path class="k95" d="M568.3 602.9h0"/><path class="k0" d="M600.9 591.6l.1 6.5.6-3.2 1 4.1.1-4.6 0-4.1.1.1.3 9.1.3-4.7 1.1 2.4.4-2.8.5 4.4.9-3.2 0-1.6.2-2.6 0 1.3.3 6.9.1-1.8.1 1.9.2-7.8.2 2.9"/><path class="k3" d="M614.8 594.8l.4-3.1.5 1.2.9 7 3-3.4.6-.5.3.2.3-5.4.3 4.3.2-3.9 0 5.8"/><path class="k4" d="M594.7 592.7l1-2.6.1 2.3 0-.8.2 4.8 0-5 .3 6.4 0-5.6 1 1 0 .1 1.3 1.7.1 2.5.2-2.6 0-1.3.5 3.9.2-2.1.7 1.7.1-3.6"/><path class="k5" d="M607.8 591.4l.4 8.3 1.7-4.7 1-2.9.8 4.8.6 2 .6-7.2.1 6.8.1-2.9 0 1.4"/><path class="k6" d="M622.2 599.8l.9-6.3.4 4.2 1.2 1.7"/><path class="k8" d="M588.9 592.9l.3 3.4.1 1.3.2.5.1-4.8 0-3.3.4 2.8.1-2.7.1 5 .3-3.9 0 7 0-1.6.2-5.1.4-.8 0 6.9.1 1.1.2-3 .4-.6.3-1.2.4 6 .5-3.4.3-4.1.3-1.8.3-.3.1 7.6"/><path class="k15" d="M587.5 598.7l.6-1.3.2.1.1-.7 0 1.1.1-2.7 0-.5"/><path class="k36" d="M587.6 598.8l.2 1.1.3-1.4 0 .6"/><path class="k39" d="M588.9 596.5l3.7 1.3"/><path class="k45" d="M595.1 599.9h0"/><path class="k48" d="M593.5 599.3h0"/><path class="k50" d="M587.9 597.8l.4 1.5"/><path class="k58" d="M626.2 596.5l2.4 0"/><path class="k63" d="M633.2 596.8h0"/><path class="k70" d="M556.9 592.1h0"/><path class="k0" d="M601.6 581.6l.5 3.8 1.1 3.4.1-6.4.1 2.9 1.1 3.3 1.3-3 .4-.3 0-4.9.2 5.6.3-.1.6-2.1"/><path class="k3" d="M616.4 583.4l1.6-1.9 2.8-.4"/><path class="k4" d="M594.6 586.4l.1-.9.2-3.8.1 2.3.3 2.5.1.6 1.3-3.6.5-3.3 0 .7.7 6.3.5-6 .2 5.7.2 3.1.4-7.2.1 2.8 0 2.5.1.2 1.2-5.2"/><path class="k5" d="M607.9 586l.2-2.4.2 5.9.1-7.1.1 3.8.2 2.4.2.7.2-2.7.6-.2.4-2.5.8-1.5 1.1 6 .2-2 .2-5.9.5 6.3.7.2"/><path class="k8" d="M590.8 585.1l.1 0 0-.5.4 2.4.6-5.2.5 5 .1-2.4 0 3.6.4-3.2.2.7.2-.3.2 4 .6-3.9.4 4.5"/><path class="k58" d="M626.7 584.1h0"/><path class="k63" d="M634.8 583.3h0"/><path class="k0" d="M600.9 575.5l.1 1.4.1-6.3.1 7.4.7-2.6 1.9-.3.5-2.5.8 0 .3.7.7-2.3 1.2 4.1"/><path class="k3" d="M615 578.3l1.4-6.6 1.1-.5.4 8.6 0-8.6.6 1.9.1 1.5 1.5 2.3 1.1-3.4"/><path class="k4" d="M594.8 572.2l1.7 1.4 1 3.9 0-2.1.8 1.5.9-5.2 1 1.1.4 4 .2-4.6"/><path class="k5" d="M608.3 572.1l0-.8.1 4.2.1-4.8.6 2.2.2-1.9.1 3.1 1.2 5.6.9-2.1 2.1-5.3.5.8.2-3"/><path class="k8" d="M591.8 578.8l.8-4.1.1 2.1 1.3 3 0-2.2.4-5.6.1-.8"/><path class="k58" d="M625.2 577.9l2.3-.3"/><path class="k83" d="M644.8 576.3h0"/><path class="k0" d="M601.1 565.8l.4.6.5-1.5.1 1 .5-4.3.1 3.8 0 1 .7 2.8 0-7.9 1.9 4.8.4-5.4 1.6-.1 0 3.9"/><path class="k3" d="M615.1 566.7l0-.7 1.1-5 .3 1.2 1.4 7.7.2-.4.4-7.4.1 6.9.2-3 .5-.9 1.5-.5"/><path class="k4" d="M594.6 564.3l.8-.5 0 2.3.6 1.8.6-.7.9-1.1.3 1.5.6-1.6 1.4 0 .5-4.1"/><path class="k5" d="M607.6 563.6l0 2.9.7-2.1 1.1-3.1 1.9 8.1.5-6.2.3.2 1.2 2 .2-.5.3 2.3.4-2.3"/><path class="k6" d="M622 564.5h0"/><path class="k8" d="M593.1 564.5l0 .9.1 0 .1 3.1 0-4 .8 1.9.2-.8"/><path class="k58" d="M626.2 568.3h0"/><path class="k63" d="M632 565.5h0"/><path class="k0" d="M601 558.6l.3-.8.4-1.2 2.6 1.5.3-1.9.3-.8 1.9 1.9"/><path class="k3" d="M615.5 557.3l.2-5.9 0 5.9 1.5-5.2 1.7.8.6 6.7.2-7.5.2 1.9"/><path class="k4" d="M595 557.6l.1-2 .3 3.6.2.6 1-8.6.6 5.2 3.3-3.5"/><path class="k5" d="M608.1 557.3l1.9-5.5 1.5 3 1.6-1.8"/><path class="k8" d="M593.4 559.6l.6-4.7"/><path class="k0" d="M602.7 547.1h0"/><path class="k3" d="M615.2 545.3l1.8 2.9 4.1-1"/><path class="k4" d="M594.7 549.8l1-.1.4-.5.2-6 0-2.9 2.7.6"/><path class="k6" d="M622.8 542.6l.1-.3"/><path class="k58" d="M626.2 547.2h0"/><path class="k63" d="M634.3 549.5h0"/><path class="k83" d="M643 546.9h0"/><path class="k85" d="M594.1 543l0 3.9"/><path class="k58" d="M622.4 533.7l6.2-1.1"/><path class="k60" d="M616.6 528.7l3-4.3.9 2.8"/><path class="k61" d="M605 522.1h0"/><path class="k62" d="M611 523.6h0"/><path class="k58" d="M627.8 519.4h0"/><path class="k60" d="M617.4 513.1h0"/></g><path d="M537 572.5L568.3 602.9M639 518L620.5 527.2M648 518L628.6 532.6M645 531L634.3 549.5M647 535L643 546.9M650 540L632 565.5M645 559L626.2 577.9M648 567L634.8 583.3M641 573L644.8 576.3M640 593.5L633.2 596.8M595 511L594.1 546.9M597 516L594.1 543M605 511L605 522.1M610 511L611 523.6M620 511L619.6 524.4M625 511L616.6 528.7M630 511L622.4 533.7" stroke="#000" stroke-width=".45" fill="none"/><g class="lb"><text x="602" y="510.9" text-anchor="middle">P06733</text><text x="609.9" y="510.9" text-anchor="middle">P06753</text><text x="617.7" y="510.9" text-anchor="middle">P07900</text><text x="625.5" y="510.9" text-anchor="middle">P14618</text><text x="633.4" y="510.9" text-anchor="middle">P07437</text><text x="606" y="510.8" text-anchor="middle">P06733</text><text x="614.4" y="510.9" text-anchor="middle">P68371</text><text x="622.1" y="510.7" text-anchor="middle">P68371</text><text x="629.9" y="510.7" text-anchor="middle">P04114</text><text x="592.9" y="514" text-anchor="middle">Q9UBF2</text><text x="596" y="516.3" text-anchor="middle">Q9NP72</text><text x="650.3" y="515.8" text-anchor="middle">Q9H0X1</text><text x="635.5" y="518.3" text-anchor="middle">P17936</text><text x="603" y="531.3" text-anchor="middle">P60660</text><text x="633.2" y="530.7" text-anchor="middle">Q8N5M1</text><text x="649.5" y="529.5" text-anchor="middle">Q14896</text><text x="648.7" y="533.8" text-anchor="middle">Q9BQE3</text><text x="651" y="538" text-anchor="middle">P14649</text><text x="641" y="558.1" text-anchor="middle">P63261</text><text x="650.3" y="565.6" text-anchor="middle">Q8WUM4</text><text x="651" y="572.1" text-anchor="middle">O60656</text><text x="640.2" y="592.2" text-anchor="middle">Q9H2D6</text><text x="651" y="604.2" text-anchor="middle">Q15300</text><text x="531.4" y="572.5" text-anchor="middle">P63241</text><text x="553.7" y="591.1" text-anchor="middle">P02533</text><text x="538.9" y="600.8" text-anchor="middle">Q08380</text><text x="562.1" y="600.8" text-anchor="middle">Q9Y490</text><text x="516.2" y="604.1" text-anchor="middle">P31151</text><text x="496.1" y="613.4" text-anchor="middle">P13645</text><text x="495.1" y="621.4" text-anchor="middle">Q9NR71</text></g><rect x="473.4" y="507.7" width="184.8" height="121.6" fill="none" stroke="#d6d6d6" stroke-width="1.3"/><path d="M507.6 629.9v1.1M542.4 629.9v1.1M577.3 629.9v1.1M612.1 629.9v1.1M647 629.9v1.1M472.8 623.9h-1.1M472.8 595.9h-1.1M472.8 567.8h-1.1M472.8 539.8h-1.1M472.8 511.7h-1.1" stroke="#333" stroke-width=".5"/><g class="tl"><text x="507.6" y="633.6" text-anchor="middle">-10</text><text x="542.4" y="633.6" text-anchor="middle">-5</text><text x="577.3" y="633.6" text-anchor="middle">0</text><text x="612.1" y="633.6" text-anchor="middle">5</text><text x="647" y="633.6" text-anchor="middle">10</text><text x="471.2" y="624.9" text-anchor="end">0</text><text x="471.2" y="596.9" text-anchor="end">5</text><text x="471.2" y="568.8" text-anchor="end">10</text><text x="471.2" y="540.8" text-anchor="end">15</text><text x="471.2" y="512.7" text-anchor="end">20</text></g><text class="at" x="565.8" y="637.2" text-anchor="middle">log2(FC)</text><text class="at" transform="translate(467.2 568.5) rotate(-90)" text-anchor="middle">-log10(p-value)</text><defs><linearGradient id="g11" x1="0" y1="0" x2="0" y2="1"><stop offset="0.0" stop-color="#fd2f17"/><stop offset="0.1" stop-color="#f85b3c"/><stop offset="0.2" stop-color="#ef7a5e"/><stop offset="0.3" stop-color="#e39480"/><stop offset="0.4" stop-color="#d2aca2"/><stop offset="0.5" stop-color="#bcb8c1"/><stop offset="0.6" stop-color="#ad99cf"/><stop offset="0.7" stop-color="#9b7adc"/><stop offset="0.8" stop-color="#835be8"/><stop offset="0.9" stop-color="#6038f4"/><stop offset="1.0" stop-color="#0702ff"/></linearGradient></defs><rect x="664" y="557.9" width="5.8" height="27.1" fill="url(#g11)"/><text class="lg" x="664" y="556.3">FoldChange</text><g class="ll"><text x="671.2" y="559.8">10</text><text x="671.2" y="566">5</text><text x="671.2" y="572.1">0</text><text x="671.2" y="578.2">-5</text><text x="671.2" y="584.4">-10</text></g><defs><clipPath id="c12"><rect x="10.3" y="674.5" width="185.4" height="122"/></clipPath></defs><text class="ttl" transform="translate(105.0 662.4) scale(1 1.06)" text-anchor="middle">L133</text><path d="M28.1 674.5V796.5M58.3 674.5V796.5M88.6 674.5V796.5M118.8 674.5V796.5M149.1 674.5V796.5M179.3 674.5V796.5M10.3 778.7H195.7M10.3 754.3H195.7M10.3 729.9H195.7M10.3 705.5H195.7M10.3 681.1H195.7" stroke="#f5f5f5" stroke-width=".55" fill="none"/><path d="M13 674.5V796.5M43.2 674.5V796.5M73.5 674.5V796.5M103.7 674.5V796.5M133.9 674.5V796.5M164.2 674.5V796.5M194.4 674.5V796.5M10.3 790.9H195.7M10.3 766.5H195.7M10.3 742.1H195.7M10.3 717.7H195.7M10.3 693.3H195.7" stroke="#ebebeb" stroke-width=".6" fill="none"/><path d="M97.7 674.5V796.5M109.8 674.5V796.5M10.3 786.3H195.7" stroke="#a8a8a8" stroke-width=".8" fill="none"/><g clip-path="url(#c12)"><path d="M28 791.2 103.1 791.2 111.1 788.9 122.4 786.2 135.3 784.9 150 784.6 156.3 784.6 156.3 783.4 140 783.3 128 782.5 118 780.5 112 780 108 783 105 787.5 103.2 788.8 101 787.5 97 785.5 90 785.3 70 786.9 50 787.8 28 789.3Z" fill="#111"/><path class="dt" d="M19 788.6h0m0 1.9h0m1.1-1.2h0m.1.5h0m2.2.5h0m0-1.6h0m1.2-.1h0m1.4 1h0m6.4.4h0m.7.4h0m1.4-1.1h0m.4.1h0m1.8-.6h0m.3 1.4h0m.1-.8h0m1 1h0m0-1.6h0m1.1 1.8h0m1.2-.5h0m.3-.7h0m.2 1.2h0m2.7-.1h0m.3-2.1h0m1.8.4h0m.1.3h0m.3 1.3h0m.5-.2h0m.8-1.9h0m.2 1.4h0m1 .4h0m5.1-1.7h0m.9.1h0m1.6 1.2h0m1.1-.6h0m1.7.3h0m1 1.1h0m0-3.8h0m.3 2h0m1-1.4h0m.6 2.1h0m1.2-2.8h0m.8 3.4h0m1.4-3.1h0m.5 3.4h0m.2-3.4h0m.7.8h0m2.1-1h0m0 2.1h0m.1.3h0m.1.7h0m1.3-3.2h0m.6.6h0m.1-1.3h0m1.4 2.9h0m1.4-1.4h0m1.2-.4h0m.1.4h0m1.3 2.7h0m.7-4.2h0m.2 1h0m1 .4h0m.1 1.7h0m.9-1.6h0m.2 2h0m.2-2.7h0m.1.4h0m2.5 2.5h0m.3-.1h0m.7-.4h0m.6-2.6h0m.3 2.7h0m2.7-3.8h0m.4 3.2h0m.2.6h0m.8.2h0m.7-3.4h0m1.5 2.6h0m.2.1h0m.1-.5h0m.8-1.9h0m.8.3h0m.4 1.7h0m.6-1.5h0m.4 3.1h0m.4-2.9h0m.5-.8h0m.1.5h0m.2-1.2h0m1.8 3.3h0m.3-3.3h0m.6.4h0m.1 2.9h0m.5.9h0m.3-2.1h0m.5-2h0m1 3.8h0m.3-.3h0m.9.6h0m57.8-5.6h0m2.4.3h0m.9-.1h0m1.9-.9h0m1 .9h0m3.5-.4h0m1.5.3h0m.1-.4h0"/><path class="k1" d="M150.6 780.2l.5.6 3.9-.1"/><path class="k9" d="M145.3 780.3h0"/><path class="k10" d="M128.5 780.7l5.4-.3"/><path class="k11" d="M125.3 780.9h0"/><path class="k12" d="M112.2 780.3h0"/><path class="k13" d="M117.3 780.3l.1-.2"/><path class="k16" d="M58.8 780.5l2.5-.2 1.2-.2"/><path class="k17" d="M89.5 780.2h0"/><path class="k18" d="M45.5 786l.5-2.2 2.1-.5 2.7 1.7 1.7 0 .7-3.7.9 4.2.1-2.5"/><path class="k19" d="M71 784.2l0-3.3 1 3.9 1.1-1.4 1.5 0 .7-.3.1 2.2.8-2.3.3.5.6-1.6.2 0 .1.3.1 1.9.7-1.3"/><path class="k20" d="M80.4 780.1h0"/><path class="k21" d="M63.1 781.2l.4 1.7.5 2.6 1-4 1.1 3 .3.9.3-4.7.2 4 .8.9.2-1.9 1.7.1.6 1.7.4-1.3"/><path class="k25" d="M86.7 784.3l.2 1.7.4-2.1 0 1.4.4-3.1 1.3 3 1.1-.1"/><path class="k28" d="M96.9 783.1l.3 2 .5-.9.2-.2.1-.1.3-1.9.1-.9.2 4 .1-3.4.1 3.2 0 .4.3-4 .7.5.1 3.8.2-1.1"/><path class="k29" d="M91.4 781l.9 2.6.9-.1.3-1.4.5 1 .9-1.5.5 3.8.1.2 0-4.7"/><path class="k30" d="M54.3 780.7l.4 2.4 1-2.1.2 4.5.9-1.5 1 1.3 1.4-2.1 0-2.4.4.2.2.4 1.5.4.9-1.2.2.9 0 1.7"/><path class="k31" d="M63 780.3h0"/><path class="k32" d="M78.7 781.8l.4.9 1.3-.1.6 2.2.6-2.3.2 3.1.2-1.5.1-3.5.1 4 .1-3.1 1.4.3.2 1.3.1 1.2.9-3.5"/><path class="k36" d="M110.3 780.5l.1 3 .1-3.3.8 2 .5 1.2.6-1.6.9.9 1.9-2"/><path class="k37" d="M122 782.2l.4 1.7.5-2.9 0 .3.2 1.6 3.4-.7"/><path class="k38" d="M135.8 781.9l1.7-1.6.3 2.9"/><path class="k39" d="M116.4 780.4l.2.5.8.9 2 1.4.6-.1.8 0"/><path class="k40" d="M110.1 782.5h0"/><path class="k41" d="M133.8 780.7l0 2.2 1.5-.6"/><path class="k42" d="M136.2 783h0"/><path class="k43" d="M128.4 782.6l1-1.5 2.2 1.5.9-1.2 0-.5"/><path class="k44" d="M109.1 783.9l.2-1.7.3-.4.1 2.1.2-2.6"/><path class="k46" d="M146.6 783.3l3.1-.3"/><path class="k47" d="M109.3 782.7l.1.2 0 .9"/><path class="k48" d="M117.1 782l2 1.1.3-.5"/><path class="k50" d="M136.8 780.1h0"/><path class="k63" d="M161.1 784.2h0"/><path class="k68" d="M45 780.5h0"/><path class="k76" d="M100.3 783.1l.2-2.2.2 1.6 0 2.1.2-2.9.4 3.5.3-.1 0-.7.1-1.8.2-1.6.1.9"/><path class="k83" d="M169.2 784.2h0"/><path class="k88" d="M101.6 780.3l.1.1.1-.2"/><path class="k0" d="M131.3 772l.1.7 3.8-2.3"/><path class="k1" d="M152.3 774.4l.5.4 1.1 3.2.1-3.9.1.4 1.5-1.3.8 4.8.2-2.9 1.1 1.9"/><path class="k2" d="M135.8 778.5l.9-3.7 1 .3.1-.5.3 2.8.6-4.1 0 5.2 1.5-2.2.3 1.4.1-.7.6 1.4 1.1-3.1.3 3.8"/><path class="k3" d="M143.5 770.8l3.2.7.9 1.2"/><path class="k4" d="M122.5 770.6l3 1 1.6-1.1.4.3.7.7"/><path class="k5" d="M135.6 771.8h0"/><path class="k6" d="M151.3 772.3l.4-2.2.1 1.4"/><path class="k8" d="M115.9 772.6l.1-1 .5-1.5.7.6 1.3.1.5.4.2.1 1.9 1"/><path class="k9" d="M144.1 779.2l.1-2 .4-2 .1 2.9.9-2 0-2.4.1 4.9 1.5-4.9 0 6.1.2-2.1 2.6-4.7"/><path class="k10" d="M129 778.9l1.3-1.5 0 .9.4 0 .9-1.5.1-3.2.1 2.2.2 3.2.2-1.5 1.6-4.5.5 4.4.1-3.8.1 1.2.7 1.7"/><path class="k11" d="M123.5 778.3l.2.5 0 1.2.1-6.7.2 3 .9.2 0 1.4 1.3-3.2.1 1.9 0-2.1 1-1.4"/><path class="k12" d="M110 778l.8-.2.5-4.1.2 1.2.2 5 .7-6.2.1 1.2.7.9.3.9.5-2.5.1 1.2.1-2.2 0 2.2.1 1.2.3-.8.7 3 .1-1"/><path class="k13" d="M117.1 775.3l.3.1 0 2.8.2-2.7.5 2 .3-.1 2.6.6"/><path class="k14" d="M159.1 779.6h0"/><path class="k15" d="M110.9 771.9l.2-.2 1-1.5 1.4-.2.7 1.9"/><path class="k16" d="M59.3 779.6l2.7-.2"/><path class="k17" d="M85.2 777.1l.9 2.3.4.3.1-6.3 1.1 5.8.6-5.6 1.3 3 .8-1.5.3 3.2"/><path class="k20" d="M78.5 776.4l1.2-1 .4-1.3 1-.9.2 3.6 0-.5 1.6-5.1.5 4.7 1.3 2.5.2.2.2-7.1"/><path class="k23" d="M97.4 777.6l.4-5.6.2 7.8.4-3.9.2-2 .2 1.1.7-.6.1-1.4 0-1.2.6 6.8"/><path class="k24" d="M91.3 775.1l.9 2.4 1.4-6.4.7 5 .4-4.6 1.3 6.1.1-3.4"/><path class="k31" d="M65 778.3l.2.8 2.3-2 2 2.6.5-.1.6.2.3-5.2"/><path class="k35" d="M71.2 774.8l1.3.4.7 4.1.3-2.2 1.8-1.6 1-2.9.4 4.5.2-.2 1.1-2.3"/><path class="k36" d="M110 777.7l.1.4.2-.7.3-4.6 0 2.3 0 .7 0-3.8.2-.3.2 7.7.1-7.3.1 4.1.1 3.6 0-5.7.1-2.3 0 7.2.4-1.2 0-6.6.2 0 0 .8.1 3.7 1.2 4.1.8-6.2 1.4 4.8"/><path class="k37" d="M121.8 778.5l.6-3.2.7.4.4 1.7.2.7.6.5.1-.5.1-1.2.5 1.3 1.5.1.9.3"/><path class="k39" d="M115.6 779.7l.4-1.5.3.2 2.3-1.3.9.4 0-2.9.5 5.3 0-2.5.1-3.8.1-.2.8 4.9.1-3.4.3 2.8"/><path class="k40" d="M110.2 778.4l0-.1.2-2.2.1 1.2.2-5.3 0-.1.2-.4.3 4.9.9-5.9.8 5 .1.2 0 3.9.6-2.4.3.6 1.5-1.6"/><path class="k43" d="M134.6 779.6h0"/><path class="k45" d="M124.7 776.5l1.4 3.2"/><path class="k47" d="M109.8 778.9h0"/><path class="k48" d="M117.8 779.4l.1-2.4 1-4 .3 1.4.6 4.4.7.2.1-5.2"/><path class="k50" d="M113.1 778.8l7.5-1.1"/><path class="k63" d="M160.3 774.8h0"/><path class="k68" d="M47.5 779.3l3.8 0 2.2-6"/><path class="k86" d="M59.5 775.1h0"/><path class="k88" d="M100.3 778.6l0 .4.2-2 .4-5.6.1-.3.4 8.2.1-6.4.1-2.9 0 7.2.1-6.3.1.7.1 6.6"/><path class="k0" d="M129.1 760.4l.5 4.4 1.3-3.7.2-.2.1 1.2 1 4.2 1.3 3.6.2-4.7.2 0 .8 4.7.4-7.6"/><path class="k3" d="M143 764.7l.1-2.9.3 2.9 2.4-2.8 1.6 1.2 1.2.1.6 3.7 1.1-2.5"/><path class="k4" d="M122.2 763.5l.5-2 0-.8.1 7.7 2.2-2.6.4-1.6.1 2.2.4-4 1.2.5.3-.5.4 4.1.1.4"/><path class="k5" d="M136.3 764.5l.2 1.3 2.6-2.2.7 4.3.6-7.8.5 3.2"/><path class="k6" d="M150.6 767.7l1.6-1.8.2.9.6-1 .3 2.2"/><path class="k8" d="M115.6 768.4l.1-1.6.6 1.4.4-5.6.4 5.7.1-1.3.2-5.7.1 3.3.1-2.4.4 3.8 0-3.1.4 6.5.9-8.9.6 1.6.5 2.3.8 2.6.1-4.9"/><path class="k15" d="M111.3 768.2l.1-.2.1-.6.8-4.2.4 5.1.1-7.6 1.4 2.9.1-.4.6 3.5.2-1.7"/><path class="k20" d="M82.3 769.9h0"/><path class="k23" d="M96.5 768.8h0"/><path class="k24" d="M91.4 768.9l2.5.7"/><path class="k36" d="M111 769.7h0"/><path class="k40" d="M111.5 769.3l1 .2.7-1.3"/><path class="k58" d="M152.3 768.4l2.1-4"/><path class="k60" d="M149.5 762.7h0"/><path class="k63" d="M162.7 765.2h0"/><path class="k70" d="M78.8 770l2.4-2.5 1.8-4.5"/><path class="k72" d="M75.2 769.3h0"/><path class="k88" d="M101.6 769.8h0"/><path class="k0" d="M129.1 754.4l.4 5.1.6-7.5 0 3.9.9 2.2.3 1.2.4-7 .2 4.1 1 2 1.2-1.5.8-5.2"/><path class="k3" d="M142.9 750.7l.3 1.7 2.9 6.1.7-2.1.9-6.1.3.3 0 8.5.8.8"/><path class="k4" d="M122.8 753l0 3 .1.4.3-5.4.1 3 .4.5.3.3.3.1.2-2.8.4.4.4-1.7 0 8.6.5-5.3 0-2.2.8-.7.3.4.5 1.7.7-1.1"/><path class="k5" d="M135.8 751.3l1.2 4.5.3-.2.2 2.9.1-6.4 1.1.4.3 6.3 1.2-8.4 2.4 4.7"/><path class="k8" d="M115.7 756l.1 1.8.2-.6.1-6.6.3 2.3.3 4.4 1.3-3.3.7 2.2.7 1.4.1-3.9.6-2.4.2.5.3 7.5.8-3.7.3-1.3"/><path class="k15" d="M112.7 757.2l.1-.8.8 2.3.1 1.2.8-.5.1-9 .4 6.4.3.2"/><path class="k0" d="M129.6 749.3l1.2-7.9 1 7.8.2-5.3.6-.1.1 3.8.3-6.2.5 6.3.3.2.4-7.9.8 6.1.3 2.1"/><path class="k3" d="M143 741.5l.7 1.3.1 6.7.2-6.1 1 2.4.2-4.5 2.3 6.4"/><path class="k4" d="M121.8 748.9l.1-7 .2 3.9 2.4 3.4 2.1-7.6.3 1 .2 4"/><path class="k5" d="M135.5 749.6l.2-6.8.3 7 .6-8.3.6 3.4.1 2.4.8-7.2 1.4 7.1.1-4.8.2 3.8.3-4.5.1 8 .2-.6.8-7.5.6 1.7.7-1"/><path class="k8" d="M115.6 746.9l.1-3.2.2 5.2 1.3-1.3.2-6.6 0 3.9.7-3.8.7 2.7 0 3.9.2-1.7.1 2.9.3-4.8 0 3.9.1-4.6.2-.6.9 1.5.6 5.4.1-6.9 0 .2"/><path class="k15" d="M115.1 747.6l.4-2.5"/><path class="k58" d="M156.3 747.7h0"/><path class="k63" d="M161.1 740.5h0"/><path class="k0" d="M128.6 736.4l.9-1.1.2 1.2.3-4.4.1 6 .4-4.7.2-2.1.4 1 .6 5 .2-1.3 1.1 2.7.4-6 0-.2 1.7-.1.2 4.2"/><path class="k3" d="M143.4 732.7l1.9 4.2 1-1.4 1.5 1.8"/><path class="k4" d="M124.3 735.8l1.9 2.8 1.3-7.8.2 8.9 0-5.9"/><path class="k5" d="M136 733l.2 6 2-4.1.3-4.5.9.6.4.5.2 5 .9.6.2-5.2 1.5-1.9.1 8.1"/><path class="k8" d="M116.4 739.6l.5-.1.1-1.6.3.2.1-1.7.7-2.4.1 3.9.4-4.5.1-2.3.3 5.3.1-1.9.3-.8 1.3-2.7.4 3.7.4 4.2 0-6.5.2 1.8"/><path class="k58" d="M152.7 735.3l2.3-4.8"/><path class="k63" d="M165.5 739h0"/><path class="k83" d="M173.7 737.4h0"/><path class="k0" d="M130.2 725.1l1-4.7 1.1 3.4 2-2.8.7 2.1"/><path class="k3" d="M143.1 724.8l.8-1.7.8-2.1.1-.3 1.6 6.8"/><path class="k4" d="M122.7 727.4l.6-1.4 1.4 1.8 1.3-4.8 1.5-2"/><path class="k5" d="M136.9 722.8l1.8 4.8 1.2-4.7 2-1.8.1 5.3"/><path class="k8" d="M121.7 730h0"/><path class="k58" d="M151.1 722.9h0"/><path class="k63" d="M165.5 726.1h0"/><path class="k0" d="M129.4 716.7l3.1 1.4 1.1-1.2.5-1.3 1-2.8"/><path class="k3" d="M143.7 719.4l2-6.8 2.7-.1"/><path class="k5" d="M137.8 717.3l.5-6.5.1 2.5 2.1 2.4.9 2.8.8-7.2.5.6"/><path class="k61" d="M131.8 713.5h0"/><path class="k0" d="M131.9 709.1l.6-2.7 1.6.3"/><path class="k3" d="M146.2 709h0"/><path class="k5" d="M137.3 705.8l3.4.9"/><path class="k58" d="M151.5 709.5l5.3-7.2"/><path class="k60" d="M147.4 702.6h0"/><path class="k61" d="M131.8 709.5h0"/><path class="k58" d="M152.7 695h0"/><path class="k60" d="M144.2 691l5.6 8.8"/><path class="k61" d="M135.3 699.5h0"/><path class="k62" d="M139.4 691l1.6 3.2"/><path class="k125" d="M186.9 696.3h0"/><path class="k60" d="M148.2 689l1.6-5.3"/><path class="k62" d="M142.6 682.1h0"/><path class="k60" d="M148.7 679.4h0"/></g><path d="M47 745.5L81.2 767.5M61.6 759.8L78.8 770M33 766L53.5 773.3M33 776L45 780.5M187 679L155 730.5M180 699L165.5 726.1M180 724L161.1 740.5M181 726L173.7 737.4M182 745L154.4 764.4M182 747L152.3 768.4M182 753L162.7 765.2M152 679L135.3 699.5M143 679L131.8 713.5M148 679L139.4 691M160 679L141 694.2M166 679L144.2 691M170 685L152.7 695M165 692L149.8 699.8M163 700L151.5 709.5" stroke="#000" stroke-width=".45" fill="none"/><g class="lb"><text x="135.7" y="677.7" text-anchor="middle">Q9UBF2</text><text x="142.6" y="677.7" text-anchor="middle">P14618</text><text x="149.4" y="677.7" text-anchor="middle">P07437</text><text x="156.3" y="677.7" text-anchor="middle">P02545</text><text x="163.2" y="677.7" text-anchor="middle">Q9UBF2</text><text x="135.7" y="677.9" text-anchor="middle">Q9NZN4</text><text x="140.8" y="677.5" text-anchor="middle">P63261</text><text x="146.7" y="677.5" text-anchor="middle">P06733</text><text x="151.4" y="677.7" text-anchor="middle">P35579</text><text x="157.2" y="678" text-anchor="middle">P68371</text><text x="162.1" y="677.4" text-anchor="middle">P08238</text><text x="187.7" y="678" text-anchor="middle">Q01538</text><text x="155.5" y="682.5" text-anchor="middle">Q9UBF2</text><text x="166" y="685.7" text-anchor="middle">P32754</text><text x="163.5" y="692.2" text-anchor="middle">Q9BY43</text><text x="187.7" y="695.1" text-anchor="middle">P08107</text><text x="182.9" y="699.9" text-anchor="middle">O43399</text><text x="161.9" y="701" text-anchor="middle">Q9Y5K8</text><text x="118.4" y="714.7" text-anchor="middle">Q9BZQ8</text><text x="172.4" y="723.6" text-anchor="middle">Q9H4A3</text><text x="186.1" y="723.6" text-anchor="middle">Q8WU39</text><text x="171.6" y="733.3" text-anchor="middle">Q4J6C6</text><text x="167.6" y="739.7" text-anchor="middle">P50453</text><text x="188.5" y="744.6" text-anchor="middle">P16403</text><text x="187.7" y="752.7" text-anchor="middle">Q96A03</text><text x="187.7" y="785.4" text-anchor="middle">P28066</text><text x="39.9" y="745.8" text-anchor="middle">P02751</text><text x="55.3" y="760" text-anchor="middle">P35349</text><text x="78.8" y="761.3" text-anchor="middle">P02765</text><text x="87.9" y="766" text-anchor="middle">P02774</text><text x="26.8" y="766.3" text-anchor="middle">P31947</text><text x="48.9" y="771.8" text-anchor="middle">P46821</text><text x="26.8" y="776.3" text-anchor="middle">Q96TA1</text><text x="43.5" y="788.1" text-anchor="middle">P01859</text></g><rect x="10.3" y="674.5" width="185.4" height="122" fill="none" stroke="#d6d6d6" stroke-width="1.3"/><path d="M13 797.1v1.1M43.2 797.1v1.1M73.5 797.1v1.1M103.7 797.1v1.1M133.9 797.1v1.1M164.2 797.1v1.1M194.4 797.1v1.1M9.7 790.9h-1.1M9.7 766.5h-1.1M9.7 742.1h-1.1M9.7 717.7h-1.1M9.7 693.3h-1.1" stroke="#333" stroke-width=".5"/><g class="tl"><text x="13" y="800.8" text-anchor="middle">-15</text><text x="43.2" y="800.8" text-anchor="middle">-10</text><text x="73.5" y="800.8" text-anchor="middle">-5</text><text x="103.7" y="800.8" text-anchor="middle">0</text><text x="133.9" y="800.8" text-anchor="middle">5</text><text x="164.2" y="800.8" text-anchor="middle">10</text><text x="194.4" y="800.8" text-anchor="middle">15</text><text x="8.1" y="791.9" text-anchor="end">0</text><text x="8.1" y="767.5" text-anchor="end">5</text><text x="8.1" y="743.1" text-anchor="end">10</text><text x="8.1" y="718.7" text-anchor="end">15</text><text x="8.1" y="694.3" text-anchor="end">20</text></g><text class="at" x="103" y="804.4" text-anchor="middle">log2(FC)</text><text class="at" transform="translate(4.1 735.5) rotate(-90)" text-anchor="middle">-log10(p-value)</text><defs><linearGradient id="g12" x1="0" y1="0" x2="0" y2="1"><stop offset="0.0" stop-color="#ff0000"/><stop offset="0.1" stop-color="#fb4629"/><stop offset="0.2" stop-color="#f66647"/><stop offset="0.3" stop-color="#ed7f64"/><stop offset="0.4" stop-color="#e29682"/><stop offset="0.5" stop-color="#d3aaa0"/><stop offset="0.6" stop-color="#bebdbe"/><stop offset="0.7" stop-color="#b2a2cb"/><stop offset="0.8" stop-color="#a487d6"/><stop offset="0.9" stop-color="#916ce1"/><stop offset="1.0" stop-color="#7950ec"/></linearGradient></defs><rect x="201" y="724.4" width="5.8" height="26.6" fill="url(#g12)"/><text class="lg" x="201" y="722.8">FoldChange</text><g class="ll"><text x="208.2" y="730.1">10</text><text x="208.2" y="735.8">5</text><text x="208.2" y="741.5">0</text><text x="208.2" y="747.2">-5</text></g></svg></body></html>
